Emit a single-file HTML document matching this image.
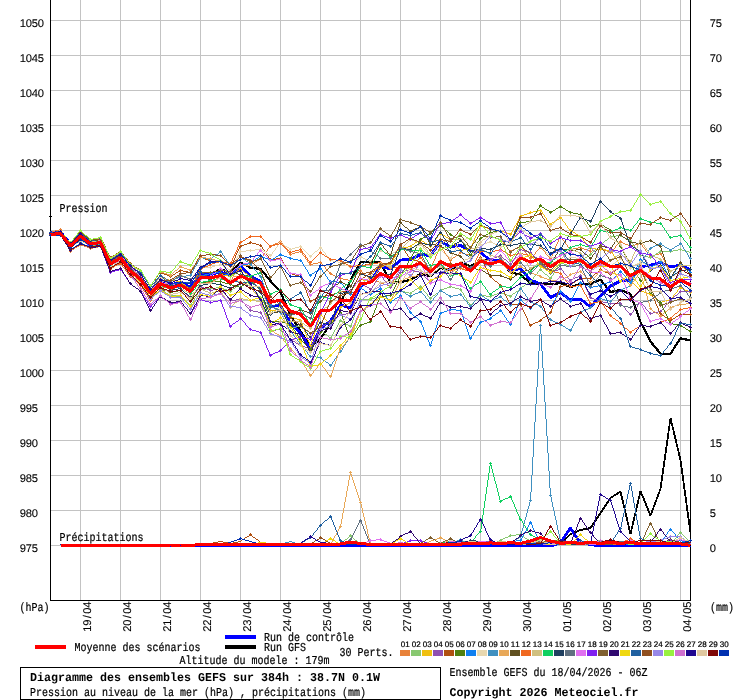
<!DOCTYPE html>
<html lang="fr"><head><meta charset="utf-8"><title>Diagramme des ensembles GEFS</title>
<style>html,body{margin:0;padding:0;background:#fff;overflow:hidden}svg{display:block}text{white-space:pre}</style>
</head><body>
<svg width="740" height="700" viewBox="0 0 740 700" font-family="'Liberation Mono', 'DejaVu Sans Mono', monospace" fill="#000" stroke="#000" stroke-width=".22" text-rendering="geometricPrecision">
<rect width="740" height="700" fill="#fff" stroke="none"/>
<path d="M50 20.5H690M50 55.5H690M50 90.5H690M50 125.5H690M50 160.5H690M50 195.5H690M50 230.5H690M50 265.5H690M50 300.5H690M50 335.5H690M50 370.5H690M50 405.5H690M50 440.5H690M50 475.5H690M50 510.5H690M50 545.5H690M80.5 0V600M120.5 0V600M160.5 0V600M200.5 0V600M240.5 0V600M280.5 0V600M320.5 0V600M360.5 0V600M400.5 0V600M440.5 0V600M480.5 0V600M520.5 0V600M560.5 0V600M600.5 0V600M640.5 0V600M680.5 0V600" stroke="#c3c3c3" stroke-width="1" fill="none" shape-rendering="crispEdges"/>
<path d="M50.5 0V600.5H690.5V0M49 216.5H52" stroke="#000" stroke-width="1" fill="none" shape-rendering="crispEdges"/>
<g shape-rendering="crispEdges" transform="translate(.5 .5)" stroke="none"><path d="M50 233.5L60 232.7L70 244.5L80 235.1L90 243L100 241.5L110 263L120 257L130 269.5L140 278L150 292L160 282L170 286.5L180 283.5L190 288.5L200 274.5L210 274.5L220 268.5L230 272.1L240 261.9L250 267.3L260 268.3L270 280.5L280 291.5L290 315L300 330.5L310 346.5L320 338.1L330 323.5L340 303.5L350 279.5L360 261.9L370 261.5L380 261.5L390 282.2L400 281.5L410 279.5L420 273.5L430 275.5L440 267.5L450 269.5L460 262.5L470 265.5L480 260.5L490 259.5L500 259.5L510 272L520 274L530 283L540 283L550 283.9L560 282.5L570 286.5L580 283.5L590 283.5L600 279.1L610 291.5L620 289.5L630 293.5L640 321.5L650 341.1L660 353.1L670 353.1L680 337.9L690 339.9" stroke="#000" stroke-width="2.2" fill="none" stroke-linejoin="bevel"/>
<path d="M60 545L70 545L80 545L90 545L100 545L110 545L120 545L130 545L140 545L150 545L160 545L170 545L180 545L190 545L200 545L210 545L220 545L230 545L240 545L250 545L260 545L270 545L280 545L290 545L300 545L310 545L320 545L330 545L340 545L350 545L360 545L370 545L380 545L390 545L400 545L410 545L420 545L430 545L440 545L450 545L460 545L470 545L480 545L490 545L500 545L510 545L520 545L530 545L540 545L550 545L560 543.5L570 533.5L580 529.5L590 527.5L600 512.5L610 497.5L620 491.1L630 533.5L640 490.5L650 515.1L660 488.5L670 417.5L680 459.5L690 532.5" stroke="#000" stroke-width="1.8" fill="none" stroke-linejoin="bevel"/>
<path d="M50 232.1L60 231.5L70 243.5L80 233.8L90 241.5L100 239.9L110 261.9L120 255.5L130 268.1L140 276.5L150 290.1L160 280.5L170 284.5L180 281.5L190 287L200 273.5L210 274.1L220 271.5L230 275.5L240 266L250 275.5L260 280.9L270 306L280 305.1L290 322.5L300 332.5L310 348.5L320 327.5L330 320.5L340 304.5L350 307.5L360 286L370 280.5L380 265.9L390 268.5L400 259.5L410 259L420 254L430 255L440 241.5L450 246.2L460 244.9L470 250.3L480 251.5L490 260.5L500 259.5L510 270.5L520 267.9L530 279.5L540 283.5L550 297L560 292L570 299.5L580 298.5L590 306.5L600 295.1L610 285.5L620 280.5L630 279.5L640 266.5L650 264.5L660 261.9L670 266.5L680 264.5L690 269.5" stroke="#00f" stroke-width="2.8" fill="none" stroke-linejoin="bevel"/>
<path d="M60 545L70 545L80 545L90 545L100 545L110 545L120 545L130 545L140 545L150 545L160 545L170 545L180 545L190 545L200 545.5L210 545.5L220 545.5L230 545.5L240 545.5L250 545.5L260 545.5L270 545.5L280 545.5L290 545.5L300 545.5L310 545.5L320 545.5L330 545.5L340 545.5L350 545.5L360 545.5L370 545.5L380 545.5L390 545.5L400 545.5L410 545.5L420 545.5L430 545.5L440 545.5L450 545.5L460 545.5L470 545.5L480 545.5L490 545.5L500 545.5L510 545.5L520 545.5L530 545.5L540 545.5L550 545.5L560 542.5L570 527.5L580 542.5L590 544L600 545.5L610 545.5L620 545.5L630 545.5L640 545.5L650 545.5L660 545.5L670 545.5L680 545.5L690 545" stroke="#00f" stroke-width="2.8" fill="none" stroke-linejoin="bevel"/>
<path d="M49.5 231.5L60.5 228.5v1L49.5 232.5zM59.5 228.5h1L70.5 251.5h-1zM69.5 250.5L80.5 243.5v1L69.5 251.5zM79.5 243.5L90.5 247.5v1L79.5 244.5zM89.5 247.5L100.5 245.5v1L89.5 248.5zM99.5 245.5h1L110.5 269.5h-1zM109.5 268.5L120.5 261.5v1L109.5 269.5zM119.5 261.5h1L130.5 273.5h-1zM129.5 272.5L140.5 280.5v1L129.5 273.5zM139.5 280.5h1L150.5 296.5h-1zM149.5 295.5L160.5 286.5v1L149.5 296.5zM159.5 286.5h11v1h-11zM169.5 286.5L180.5 284.5v1L169.5 287.5zM179.5 284.5L190.5 287.5v1L179.5 285.5zM189.5 287.5L200.5 282.5v1L189.5 288.5zM199.5 282.5L210.5 281.5v1L199.5 283.5zM209.5 281.5L220.5 275.5v1L209.5 282.5zM219.5 275.5L230.5 279.5v1L219.5 276.5zM239.5 264.5h1L230.5 280.5h-1zM239.5 264.5h11v1h-11zM249.5 264.5L260.5 257.5v1L249.5 265.5zM269.5 245.5h1L260.5 258.5h-1zM269.5 245.5L280.5 240.5v1L269.5 246.5zM279.5 240.5h1L290.5 254.5h-1zM289.5 253.5L300.5 250.5v1L289.5 254.5zM299.5 250.5h1L310.5 264.5h-1zM309.5 263.5L320.5 261.5v1L309.5 264.5zM319.5 261.5h1L330.5 273.5h-1zM329.5 272.5L340.5 277.5v1L329.5 273.5zM339.5 277.5L350.5 279.5v1L339.5 278.5zM349.5 279.5L360.5 269.5v1L349.5 280.5zM359.5 269.5L370.5 278.5v1L359.5 270.5zM369.5 278.5L380.5 281.5v1L369.5 279.5zM379.5 281.5L390.5 285.5v1L379.5 282.5zM399.5 267.5h1L390.5 286.5h-1zM399.5 267.5L410.5 275.5v1L399.5 268.5zM419.5 261.5h1L410.5 276.5h-1zM419.5 261.5L430.5 267.5v1L419.5 262.5zM439.5 245.5h1L430.5 268.5h-1zM439.5 245.5h1L450.5 260.5h-1zM449.5 259.5L460.5 251.5v1L449.5 260.5zM459.5 251.5L470.5 254.5v1L459.5 252.5zM469.5 254.5L480.5 248.5v1L469.5 255.5zM479.5 248.5L490.5 252.5v1L479.5 249.5zM499.5 238.5h1L490.5 253.5h-1zM499.5 238.5h1L510.5 251.5h-1zM509.5 250.5L520.5 245.5v1L509.5 251.5zM519.5 245.5h1L530.5 258.5h-1zM539.5 246.5h1L530.5 258.5h-1zM539.5 246.5h1L550.5 258.5h-1zM559.5 235.5h1L550.5 258.5h-1zM559.5 235.5h1L570.5 249.5h-1zM569.5 248.5L580.5 246.5v1L569.5 249.5zM579.5 246.5L590.5 250.5v1L579.5 247.5zM589.5 250.5L600.5 247.5v1L589.5 251.5zM599.5 247.5L610.5 251.5v1L599.5 248.5zM619.5 240.5h1L610.5 252.5h-1zM619.5 240.5L630.5 245.5v1L619.5 241.5zM629.5 245.5L640.5 242.5v1L629.5 246.5zM639.5 242.5h1L650.5 256.5h-1zM649.5 255.5L660.5 252.5v1L649.5 256.5zM659.5 252.5h1L670.5 271.5h-1zM669.5 270.5L680.5 264.5v1L669.5 271.5zM679.5 264.5L690.5 271.5v1L679.5 265.5zM48.5 231.5h3v1h-3zM49.5 230.5h1v3h-1zM58.5 228.5h3v1h-3zM59.5 227.5h1v3h-1zM68.5 250.5h3v1h-3zM69.5 249.5h1v3h-1zM78.5 243.5h3v1h-3zM79.5 242.5h1v3h-1zM88.5 247.5h3v1h-3zM89.5 246.5h1v3h-1zM98.5 245.5h3v1h-3zM99.5 244.5h1v3h-1zM108.5 268.5h3v1h-3zM109.5 267.5h1v3h-1zM118.5 261.5h3v1h-3zM119.5 260.5h1v3h-1zM128.5 272.5h3v1h-3zM129.5 271.5h1v3h-1zM138.5 280.5h3v1h-3zM139.5 279.5h1v3h-1zM148.5 295.5h3v1h-3zM149.5 294.5h1v3h-1zM158.5 286.5h3v1h-3zM159.5 285.5h1v3h-1zM168.5 286.5h3v1h-3zM169.5 285.5h1v3h-1zM178.5 284.5h3v1h-3zM179.5 283.5h1v3h-1zM188.5 287.5h3v1h-3zM189.5 286.5h1v3h-1zM198.5 282.5h3v1h-3zM199.5 281.5h1v3h-1zM208.5 281.5h3v1h-3zM209.5 280.5h1v3h-1zM218.5 275.5h3v1h-3zM219.5 274.5h1v3h-1zM228.5 279.5h3v1h-3zM229.5 278.5h1v3h-1zM238.5 264.5h3v1h-3zM239.5 263.5h1v3h-1zM248.5 264.5h3v1h-3zM249.5 263.5h1v3h-1zM258.5 257.5h3v1h-3zM259.5 256.5h1v3h-1zM268.5 245.5h3v1h-3zM269.5 244.5h1v3h-1zM278.5 240.5h3v1h-3zM279.5 239.5h1v3h-1zM288.5 253.5h3v1h-3zM289.5 252.5h1v3h-1zM298.5 250.5h3v1h-3zM299.5 249.5h1v3h-1zM308.5 263.5h3v1h-3zM309.5 262.5h1v3h-1zM318.5 261.5h3v1h-3zM319.5 260.5h1v3h-1zM328.5 272.5h3v1h-3zM329.5 271.5h1v3h-1zM338.5 277.5h3v1h-3zM339.5 276.5h1v3h-1zM348.5 279.5h3v1h-3zM349.5 278.5h1v3h-1zM358.5 269.5h3v1h-3zM359.5 268.5h1v3h-1zM368.5 278.5h3v1h-3zM369.5 277.5h1v3h-1zM378.5 281.5h3v1h-3zM379.5 280.5h1v3h-1zM388.5 285.5h3v1h-3zM389.5 284.5h1v3h-1zM398.5 267.5h3v1h-3zM399.5 266.5h1v3h-1zM408.5 275.5h3v1h-3zM409.5 274.5h1v3h-1zM418.5 261.5h3v1h-3zM419.5 260.5h1v3h-1zM428.5 267.5h3v1h-3zM429.5 266.5h1v3h-1zM438.5 245.5h3v1h-3zM439.5 244.5h1v3h-1zM448.5 259.5h3v1h-3zM449.5 258.5h1v3h-1zM458.5 251.5h3v1h-3zM459.5 250.5h1v3h-1zM468.5 254.5h3v1h-3zM469.5 253.5h1v3h-1zM478.5 248.5h3v1h-3zM479.5 247.5h1v3h-1zM488.5 252.5h3v1h-3zM489.5 251.5h1v3h-1zM498.5 238.5h3v1h-3zM499.5 237.5h1v3h-1zM508.5 250.5h3v1h-3zM509.5 249.5h1v3h-1zM518.5 245.5h3v1h-3zM519.5 244.5h1v3h-1zM528.5 257.5h3v1h-3zM529.5 256.5h1v3h-1zM538.5 246.5h3v1h-3zM539.5 245.5h1v3h-1zM548.5 257.5h3v1h-3zM549.5 256.5h1v3h-1zM558.5 235.5h3v1h-3zM559.5 234.5h1v3h-1zM568.5 248.5h3v1h-3zM569.5 247.5h1v3h-1zM578.5 246.5h3v1h-3zM579.5 245.5h1v3h-1zM588.5 250.5h3v1h-3zM589.5 249.5h1v3h-1zM598.5 247.5h3v1h-3zM599.5 246.5h1v3h-1zM608.5 251.5h3v1h-3zM609.5 250.5h1v3h-1zM618.5 240.5h3v1h-3zM619.5 239.5h1v3h-1zM628.5 245.5h3v1h-3zM629.5 244.5h1v3h-1zM638.5 242.5h3v1h-3zM639.5 241.5h1v3h-1zM648.5 255.5h3v1h-3zM649.5 254.5h1v3h-1zM658.5 252.5h3v1h-3zM659.5 251.5h1v3h-1zM668.5 270.5h3v1h-3zM669.5 269.5h1v3h-1zM678.5 264.5h3v1h-3zM679.5 263.5h1v3h-1zM688.5 271.5h3v1h-3zM689.5 270.5h1v3h-1z" fill="#E8823A"/>
<path d="M49.5 234.5L60.5 233.5v1L49.5 235.5zM59.5 233.5h1L70.5 245.5h-1zM69.5 244.5L80.5 234.5v1L69.5 245.5zM79.5 234.5L90.5 244.5v1L79.5 235.5zM89.5 244.5L100.5 243.5v1L89.5 245.5zM99.5 243.5h1L110.5 265.5h-1zM109.5 264.5L120.5 257.5v1L109.5 265.5zM119.5 257.5h1L130.5 275.5h-1zM129.5 274.5L140.5 282.5v1L129.5 275.5zM139.5 282.5h1L150.5 298.5h-1zM149.5 297.5L160.5 288.5v1L149.5 298.5zM159.5 288.5L170.5 294.5v1L159.5 289.5zM169.5 294.5L180.5 295.5v1L169.5 295.5zM179.5 295.5L190.5 304.5v1L179.5 296.5zM199.5 288.5h1L190.5 305.5h-1zM199.5 288.5L210.5 287.5v1L199.5 289.5zM209.5 287.5L220.5 286.5v1L209.5 288.5zM219.5 286.5L230.5 290.5v1L219.5 287.5zM229.5 290.5L240.5 282.5v1L229.5 291.5zM239.5 282.5L250.5 284.5v1L239.5 283.5zM249.5 284.5h1L260.5 297.5h-1zM259.5 296.5h1L270.5 313.5h-1zM269.5 312.5L280.5 304.5v1L269.5 313.5zM279.5 304.5h1L290.5 327.5h-1zM289.5 326.5L300.5 325.5v1L289.5 327.5zM299.5 325.5L310.5 332.5v1L299.5 326.5zM309.5 332.5L320.5 328.5v1L309.5 333.5zM319.5 328.5L330.5 337.5v1L319.5 329.5zM339.5 319.5h1L330.5 338.5h-1zM339.5 319.5L350.5 325.5v1L339.5 320.5zM359.5 298.5h1L350.5 326.5h-1zM359.5 298.5h11v1h-11zM369.5 298.5L380.5 295.5v1L369.5 299.5zM379.5 295.5L390.5 294.5v1L379.5 296.5zM389.5 294.5L400.5 289.5v1L389.5 295.5zM399.5 289.5L410.5 292.5v1L399.5 290.5zM409.5 292.5L420.5 285.5v1L409.5 293.5zM419.5 285.5h1L430.5 298.5h-1zM429.5 297.5L440.5 289.5v1L429.5 298.5zM439.5 289.5L450.5 285.5v1L439.5 290.5zM449.5 285.5L460.5 288.5v1L449.5 286.5zM459.5 288.5h1L470.5 305.5h-1zM469.5 304.5L480.5 294.5v1L469.5 305.5zM479.5 294.5L490.5 295.5v1L479.5 295.5zM489.5 295.5L500.5 291.5v1L489.5 296.5zM499.5 291.5L510.5 295.5v1L499.5 292.5zM509.5 295.5L520.5 287.5v1L509.5 296.5zM519.5 287.5L530.5 280.5v1L519.5 288.5zM539.5 268.5h1L530.5 281.5h-1zM539.5 268.5L550.5 277.5v1L539.5 269.5zM559.5 261.5h1L550.5 278.5h-1zM559.5 261.5L570.5 265.5v1L559.5 262.5zM569.5 265.5L580.5 260.5v1L569.5 266.5zM579.5 260.5L590.5 253.5v1L579.5 261.5zM589.5 253.5L600.5 244.5v1L589.5 254.5zM599.5 244.5L610.5 235.5v1L599.5 245.5zM609.5 235.5L620.5 234.5v1L609.5 236.5zM619.5 234.5L630.5 239.5v1L619.5 235.5zM629.5 239.5h1L640.5 255.5h-1zM639.5 254.5L650.5 256.5v1L639.5 255.5zM649.5 256.5L660.5 250.5v1L649.5 257.5zM659.5 250.5h11v1h-11zM669.5 250.5L680.5 248.5v1L669.5 251.5zM679.5 248.5L690.5 251.5v1L679.5 249.5zM48.5 234.5h3v1h-3zM49.5 233.5h1v3h-1zM58.5 233.5h3v1h-3zM59.5 232.5h1v3h-1zM68.5 244.5h3v1h-3zM69.5 243.5h1v3h-1zM78.5 234.5h3v1h-3zM79.5 233.5h1v3h-1zM88.5 244.5h3v1h-3zM89.5 243.5h1v3h-1zM98.5 243.5h3v1h-3zM99.5 242.5h1v3h-1zM108.5 264.5h3v1h-3zM109.5 263.5h1v3h-1zM118.5 257.5h3v1h-3zM119.5 256.5h1v3h-1zM128.5 274.5h3v1h-3zM129.5 273.5h1v3h-1zM138.5 282.5h3v1h-3zM139.5 281.5h1v3h-1zM148.5 297.5h3v1h-3zM149.5 296.5h1v3h-1zM158.5 288.5h3v1h-3zM159.5 287.5h1v3h-1zM168.5 294.5h3v1h-3zM169.5 293.5h1v3h-1zM178.5 295.5h3v1h-3zM179.5 294.5h1v3h-1zM188.5 304.5h3v1h-3zM189.5 303.5h1v3h-1zM198.5 288.5h3v1h-3zM199.5 287.5h1v3h-1zM208.5 287.5h3v1h-3zM209.5 286.5h1v3h-1zM218.5 286.5h3v1h-3zM219.5 285.5h1v3h-1zM228.5 290.5h3v1h-3zM229.5 289.5h1v3h-1zM238.5 282.5h3v1h-3zM239.5 281.5h1v3h-1zM248.5 284.5h3v1h-3zM249.5 283.5h1v3h-1zM258.5 296.5h3v1h-3zM259.5 295.5h1v3h-1zM268.5 312.5h3v1h-3zM269.5 311.5h1v3h-1zM278.5 304.5h3v1h-3zM279.5 303.5h1v3h-1zM288.5 326.5h3v1h-3zM289.5 325.5h1v3h-1zM298.5 325.5h3v1h-3zM299.5 324.5h1v3h-1zM308.5 332.5h3v1h-3zM309.5 331.5h1v3h-1zM318.5 328.5h3v1h-3zM319.5 327.5h1v3h-1zM328.5 337.5h3v1h-3zM329.5 336.5h1v3h-1zM338.5 319.5h3v1h-3zM339.5 318.5h1v3h-1zM348.5 325.5h3v1h-3zM349.5 324.5h1v3h-1zM358.5 298.5h3v1h-3zM359.5 297.5h1v3h-1zM368.5 298.5h3v1h-3zM369.5 297.5h1v3h-1zM378.5 295.5h3v1h-3zM379.5 294.5h1v3h-1zM388.5 294.5h3v1h-3zM389.5 293.5h1v3h-1zM398.5 289.5h3v1h-3zM399.5 288.5h1v3h-1zM408.5 292.5h3v1h-3zM409.5 291.5h1v3h-1zM418.5 285.5h3v1h-3zM419.5 284.5h1v3h-1zM428.5 297.5h3v1h-3zM429.5 296.5h1v3h-1zM438.5 289.5h3v1h-3zM439.5 288.5h1v3h-1zM448.5 285.5h3v1h-3zM449.5 284.5h1v3h-1zM458.5 288.5h3v1h-3zM459.5 287.5h1v3h-1zM468.5 304.5h3v1h-3zM469.5 303.5h1v3h-1zM478.5 294.5h3v1h-3zM479.5 293.5h1v3h-1zM488.5 295.5h3v1h-3zM489.5 294.5h1v3h-1zM498.5 291.5h3v1h-3zM499.5 290.5h1v3h-1zM508.5 295.5h3v1h-3zM509.5 294.5h1v3h-1zM518.5 287.5h3v1h-3zM519.5 286.5h1v3h-1zM528.5 280.5h3v1h-3zM529.5 279.5h1v3h-1zM538.5 268.5h3v1h-3zM539.5 267.5h1v3h-1zM548.5 277.5h3v1h-3zM549.5 276.5h1v3h-1zM558.5 261.5h3v1h-3zM559.5 260.5h1v3h-1zM568.5 265.5h3v1h-3zM569.5 264.5h1v3h-1zM578.5 260.5h3v1h-3zM579.5 259.5h1v3h-1zM588.5 253.5h3v1h-3zM589.5 252.5h1v3h-1zM598.5 244.5h3v1h-3zM599.5 243.5h1v3h-1zM608.5 235.5h3v1h-3zM609.5 234.5h1v3h-1zM618.5 234.5h3v1h-3zM619.5 233.5h1v3h-1zM628.5 239.5h3v1h-3zM629.5 238.5h1v3h-1zM638.5 254.5h3v1h-3zM639.5 253.5h1v3h-1zM648.5 256.5h3v1h-3zM649.5 255.5h1v3h-1zM658.5 250.5h3v1h-3zM659.5 249.5h1v3h-1zM668.5 250.5h3v1h-3zM669.5 249.5h1v3h-1zM678.5 248.5h3v1h-3zM679.5 247.5h1v3h-1zM688.5 251.5h3v1h-3zM689.5 250.5h1v3h-1z" fill="#88C870"/>
<path d="M49.5 233.5L60.5 231.5v1L49.5 234.5zM59.5 231.5L70.5 241.5v1L59.5 232.5zM69.5 241.5L80.5 231.5v1L69.5 242.5zM79.5 231.5L90.5 240.5v1L79.5 232.5zM89.5 240.5L100.5 241.5v1L89.5 241.5zM99.5 241.5h1L110.5 261.5h-1zM109.5 260.5L120.5 254.5v1L109.5 261.5zM119.5 254.5h1L130.5 268.5h-1zM129.5 267.5L140.5 274.5v1L129.5 268.5zM139.5 274.5h1L150.5 290.5h-1zM159.5 276.5h1L150.5 290.5h-1zM159.5 276.5L170.5 279.5v1L159.5 277.5zM169.5 279.5L180.5 280.5v1L169.5 280.5zM179.5 280.5L190.5 288.5v1L179.5 281.5zM199.5 275.5h1L190.5 289.5h-1zM199.5 275.5L210.5 276.5v1L199.5 276.5zM209.5 276.5L220.5 273.5v1L209.5 277.5zM219.5 273.5L230.5 275.5v1L219.5 274.5zM229.5 275.5L240.5 267.5v1L229.5 276.5zM239.5 267.5L250.5 276.5v1L239.5 268.5zM249.5 276.5L260.5 283.5v1L249.5 277.5zM259.5 283.5h1L270.5 310.5h-1zM269.5 309.5L280.5 308.5v1L269.5 310.5zM279.5 308.5L290.5 315.5v1L279.5 309.5zM289.5 315.5L300.5 319.5v1L289.5 316.5zM299.5 319.5h1L310.5 345.5h-1zM319.5 313.5h1L310.5 345.5h-1zM319.5 313.5L330.5 323.5v1L319.5 314.5zM339.5 306.5h1L330.5 324.5h-1zM339.5 306.5L350.5 301.5v1L339.5 307.5zM359.5 278.5h1L350.5 302.5h-1zM359.5 278.5L370.5 280.5v1L359.5 279.5zM379.5 266.5h1L370.5 281.5h-1zM379.5 266.5L390.5 262.5v1L379.5 267.5zM399.5 247.5h1L390.5 263.5h-1zM399.5 247.5L410.5 245.5v1L399.5 248.5zM409.5 245.5L420.5 238.5v1L409.5 246.5zM419.5 238.5L430.5 245.5v1L419.5 239.5zM439.5 232.5h1L430.5 246.5h-1zM439.5 232.5L450.5 238.5v1L439.5 233.5zM449.5 238.5h1L460.5 250.5h-1zM459.5 249.5L470.5 247.5v1L459.5 250.5zM479.5 224.5h1L470.5 248.5h-1zM479.5 224.5L490.5 228.5v1L479.5 225.5zM489.5 228.5L500.5 229.5v1L489.5 229.5zM499.5 229.5L510.5 233.5v1L499.5 230.5zM519.5 215.5h1L510.5 234.5h-1zM519.5 215.5L530.5 211.5v1L519.5 216.5zM529.5 211.5L540.5 209.5v1L529.5 212.5zM539.5 209.5h1L550.5 224.5h-1zM549.5 223.5L560.5 216.5v1L549.5 224.5zM559.5 216.5h1L570.5 230.5h-1zM569.5 229.5L580.5 235.5v1L569.5 230.5zM579.5 235.5h1L590.5 248.5h-1zM589.5 247.5L600.5 248.5v1L589.5 248.5zM599.5 248.5L610.5 249.5v1L599.5 249.5zM609.5 249.5h1L620.5 265.5h-1zM619.5 264.5h1L630.5 280.5h-1zM629.5 279.5L640.5 289.5v1L629.5 280.5zM639.5 289.5L650.5 293.5v1L639.5 290.5zM649.5 293.5L660.5 301.5v1L649.5 294.5zM659.5 301.5L670.5 298.5v1L659.5 302.5zM679.5 286.5h1L670.5 299.5h-1zM679.5 286.5L690.5 291.5v1L679.5 287.5zM48.5 233.5h3v1h-3zM49.5 232.5h1v3h-1zM58.5 231.5h3v1h-3zM59.5 230.5h1v3h-1zM68.5 241.5h3v1h-3zM69.5 240.5h1v3h-1zM78.5 231.5h3v1h-3zM79.5 230.5h1v3h-1zM88.5 240.5h3v1h-3zM89.5 239.5h1v3h-1zM98.5 241.5h3v1h-3zM99.5 240.5h1v3h-1zM108.5 260.5h3v1h-3zM109.5 259.5h1v3h-1zM118.5 254.5h3v1h-3zM119.5 253.5h1v3h-1zM128.5 267.5h3v1h-3zM129.5 266.5h1v3h-1zM138.5 274.5h3v1h-3zM139.5 273.5h1v3h-1zM148.5 289.5h3v1h-3zM149.5 288.5h1v3h-1zM158.5 276.5h3v1h-3zM159.5 275.5h1v3h-1zM168.5 279.5h3v1h-3zM169.5 278.5h1v3h-1zM178.5 280.5h3v1h-3zM179.5 279.5h1v3h-1zM188.5 288.5h3v1h-3zM189.5 287.5h1v3h-1zM198.5 275.5h3v1h-3zM199.5 274.5h1v3h-1zM208.5 276.5h3v1h-3zM209.5 275.5h1v3h-1zM218.5 273.5h3v1h-3zM219.5 272.5h1v3h-1zM228.5 275.5h3v1h-3zM229.5 274.5h1v3h-1zM238.5 267.5h3v1h-3zM239.5 266.5h1v3h-1zM248.5 276.5h3v1h-3zM249.5 275.5h1v3h-1zM258.5 283.5h3v1h-3zM259.5 282.5h1v3h-1zM268.5 309.5h3v1h-3zM269.5 308.5h1v3h-1zM278.5 308.5h3v1h-3zM279.5 307.5h1v3h-1zM288.5 315.5h3v1h-3zM289.5 314.5h1v3h-1zM298.5 319.5h3v1h-3zM299.5 318.5h1v3h-1zM308.5 344.5h3v1h-3zM309.5 343.5h1v3h-1zM318.5 313.5h3v1h-3zM319.5 312.5h1v3h-1zM328.5 323.5h3v1h-3zM329.5 322.5h1v3h-1zM338.5 306.5h3v1h-3zM339.5 305.5h1v3h-1zM348.5 301.5h3v1h-3zM349.5 300.5h1v3h-1zM358.5 278.5h3v1h-3zM359.5 277.5h1v3h-1zM368.5 280.5h3v1h-3zM369.5 279.5h1v3h-1zM378.5 266.5h3v1h-3zM379.5 265.5h1v3h-1zM388.5 262.5h3v1h-3zM389.5 261.5h1v3h-1zM398.5 247.5h3v1h-3zM399.5 246.5h1v3h-1zM408.5 245.5h3v1h-3zM409.5 244.5h1v3h-1zM418.5 238.5h3v1h-3zM419.5 237.5h1v3h-1zM428.5 245.5h3v1h-3zM429.5 244.5h1v3h-1zM438.5 232.5h3v1h-3zM439.5 231.5h1v3h-1zM448.5 238.5h3v1h-3zM449.5 237.5h1v3h-1zM458.5 249.5h3v1h-3zM459.5 248.5h1v3h-1zM468.5 247.5h3v1h-3zM469.5 246.5h1v3h-1zM478.5 224.5h3v1h-3zM479.5 223.5h1v3h-1zM488.5 228.5h3v1h-3zM489.5 227.5h1v3h-1zM498.5 229.5h3v1h-3zM499.5 228.5h1v3h-1zM508.5 233.5h3v1h-3zM509.5 232.5h1v3h-1zM518.5 215.5h3v1h-3zM519.5 214.5h1v3h-1zM528.5 211.5h3v1h-3zM529.5 210.5h1v3h-1zM538.5 209.5h3v1h-3zM539.5 208.5h1v3h-1zM548.5 223.5h3v1h-3zM549.5 222.5h1v3h-1zM558.5 216.5h3v1h-3zM559.5 215.5h1v3h-1zM568.5 229.5h3v1h-3zM569.5 228.5h1v3h-1zM578.5 235.5h3v1h-3zM579.5 234.5h1v3h-1zM588.5 247.5h3v1h-3zM589.5 246.5h1v3h-1zM598.5 248.5h3v1h-3zM599.5 247.5h1v3h-1zM608.5 249.5h3v1h-3zM609.5 248.5h1v3h-1zM618.5 264.5h3v1h-3zM619.5 263.5h1v3h-1zM628.5 279.5h3v1h-3zM629.5 278.5h1v3h-1zM638.5 289.5h3v1h-3zM639.5 288.5h1v3h-1zM648.5 293.5h3v1h-3zM649.5 292.5h1v3h-1zM658.5 301.5h3v1h-3zM659.5 300.5h1v3h-1zM668.5 298.5h3v1h-3zM669.5 297.5h1v3h-1zM678.5 286.5h3v1h-3zM679.5 285.5h1v3h-1zM688.5 291.5h3v1h-3zM689.5 290.5h1v3h-1z" fill="#F0C010"/>
<path d="M49.5 234.5h11v1h-11zM59.5 234.5h1L70.5 247.5h-1zM79.5 235.5h1L70.5 247.5h-1zM79.5 235.5L90.5 244.5v1L79.5 236.5zM89.5 244.5L100.5 241.5v1L89.5 245.5zM99.5 241.5h1L110.5 263.5h-1zM109.5 262.5L120.5 255.5v1L109.5 263.5zM119.5 255.5h1L130.5 267.5h-1zM129.5 266.5L140.5 276.5v1L129.5 267.5zM139.5 276.5h1L150.5 291.5h-1zM149.5 290.5L160.5 284.5v1L149.5 291.5zM159.5 284.5h11v1h-11zM169.5 284.5L180.5 287.5v1L169.5 285.5zM179.5 287.5L190.5 297.5v1L179.5 288.5zM199.5 285.5h1L190.5 298.5h-1zM199.5 285.5L210.5 289.5v1L199.5 286.5zM209.5 289.5L220.5 287.5v1L209.5 290.5zM219.5 287.5h1L230.5 300.5h-1zM229.5 299.5L240.5 298.5v1L229.5 300.5zM239.5 298.5h1L250.5 310.5h-1zM249.5 309.5L260.5 311.5v1L249.5 310.5zM259.5 311.5h1L270.5 330.5h-1zM269.5 329.5L280.5 328.5v1L269.5 330.5zM279.5 328.5L290.5 338.5v1L279.5 329.5zM289.5 338.5L300.5 344.5v1L289.5 339.5zM299.5 344.5L310.5 347.5v1L299.5 345.5zM319.5 326.5h1L310.5 348.5h-1zM319.5 326.5L330.5 320.5v1L319.5 327.5zM329.5 320.5L340.5 313.5v1L329.5 321.5zM339.5 313.5L350.5 312.5v1L339.5 314.5zM359.5 281.5h1L350.5 313.5h-1zM359.5 281.5L370.5 288.5v1L359.5 282.5zM379.5 274.5h1L370.5 289.5h-1zM379.5 274.5h1L390.5 287.5h-1zM399.5 271.5h1L390.5 287.5h-1zM399.5 271.5L410.5 268.5v1L399.5 272.5zM409.5 268.5L420.5 271.5v1L409.5 269.5zM419.5 271.5L430.5 281.5v1L419.5 272.5zM429.5 281.5L440.5 272.5v1L429.5 282.5zM439.5 272.5h11v1h-11zM449.5 272.5L460.5 264.5v1L449.5 273.5zM459.5 264.5L470.5 267.5v1L459.5 265.5zM469.5 267.5L480.5 260.5v1L469.5 268.5zM479.5 260.5L490.5 258.5v1L479.5 261.5zM489.5 258.5L500.5 254.5v1L489.5 259.5zM499.5 254.5L510.5 263.5v1L499.5 255.5zM519.5 248.5h1L510.5 264.5h-1zM519.5 248.5L530.5 251.5v1L519.5 249.5zM529.5 251.5L540.5 260.5v1L529.5 252.5zM539.5 260.5h1L550.5 273.5h-1zM549.5 272.5L560.5 267.5v1L549.5 273.5zM559.5 267.5h1L570.5 280.5h-1zM569.5 279.5L580.5 274.5v1L569.5 280.5zM579.5 274.5h1L590.5 297.5h-1zM589.5 296.5L600.5 300.5v1L589.5 297.5zM599.5 300.5L610.5 302.5v1L599.5 301.5zM609.5 302.5h11v1h-11zM619.5 302.5h1L630.5 314.5h-1zM639.5 301.5h1L630.5 314.5h-1zM639.5 301.5h1L650.5 313.5h-1zM649.5 312.5L660.5 310.5v1L649.5 313.5zM669.5 299.5h1L660.5 311.5h-1zM669.5 299.5L680.5 290.5v1L669.5 300.5zM679.5 290.5h11v1h-11zM48.5 234.5h3v1h-3zM49.5 233.5h1v3h-1zM58.5 234.5h3v1h-3zM59.5 233.5h1v3h-1zM68.5 246.5h3v1h-3zM69.5 245.5h1v3h-1zM78.5 235.5h3v1h-3zM79.5 234.5h1v3h-1zM88.5 244.5h3v1h-3zM89.5 243.5h1v3h-1zM98.5 241.5h3v1h-3zM99.5 240.5h1v3h-1zM108.5 262.5h3v1h-3zM109.5 261.5h1v3h-1zM118.5 255.5h3v1h-3zM119.5 254.5h1v3h-1zM128.5 266.5h3v1h-3zM129.5 265.5h1v3h-1zM138.5 276.5h3v1h-3zM139.5 275.5h1v3h-1zM148.5 290.5h3v1h-3zM149.5 289.5h1v3h-1zM158.5 284.5h3v1h-3zM159.5 283.5h1v3h-1zM168.5 284.5h3v1h-3zM169.5 283.5h1v3h-1zM178.5 287.5h3v1h-3zM179.5 286.5h1v3h-1zM188.5 297.5h3v1h-3zM189.5 296.5h1v3h-1zM198.5 285.5h3v1h-3zM199.5 284.5h1v3h-1zM208.5 289.5h3v1h-3zM209.5 288.5h1v3h-1zM218.5 287.5h3v1h-3zM219.5 286.5h1v3h-1zM228.5 299.5h3v1h-3zM229.5 298.5h1v3h-1zM238.5 298.5h3v1h-3zM239.5 297.5h1v3h-1zM248.5 309.5h3v1h-3zM249.5 308.5h1v3h-1zM258.5 311.5h3v1h-3zM259.5 310.5h1v3h-1zM268.5 329.5h3v1h-3zM269.5 328.5h1v3h-1zM278.5 328.5h3v1h-3zM279.5 327.5h1v3h-1zM288.5 338.5h3v1h-3zM289.5 337.5h1v3h-1zM298.5 344.5h3v1h-3zM299.5 343.5h1v3h-1zM308.5 347.5h3v1h-3zM309.5 346.5h1v3h-1zM318.5 326.5h3v1h-3zM319.5 325.5h1v3h-1zM328.5 320.5h3v1h-3zM329.5 319.5h1v3h-1zM338.5 313.5h3v1h-3zM339.5 312.5h1v3h-1zM348.5 312.5h3v1h-3zM349.5 311.5h1v3h-1zM358.5 281.5h3v1h-3zM359.5 280.5h1v3h-1zM368.5 288.5h3v1h-3zM369.5 287.5h1v3h-1zM378.5 274.5h3v1h-3zM379.5 273.5h1v3h-1zM388.5 286.5h3v1h-3zM389.5 285.5h1v3h-1zM398.5 271.5h3v1h-3zM399.5 270.5h1v3h-1zM408.5 268.5h3v1h-3zM409.5 267.5h1v3h-1zM418.5 271.5h3v1h-3zM419.5 270.5h1v3h-1zM428.5 281.5h3v1h-3zM429.5 280.5h1v3h-1zM438.5 272.5h3v1h-3zM439.5 271.5h1v3h-1zM448.5 272.5h3v1h-3zM449.5 271.5h1v3h-1zM458.5 264.5h3v1h-3zM459.5 263.5h1v3h-1zM468.5 267.5h3v1h-3zM469.5 266.5h1v3h-1zM478.5 260.5h3v1h-3zM479.5 259.5h1v3h-1zM488.5 258.5h3v1h-3zM489.5 257.5h1v3h-1zM498.5 254.5h3v1h-3zM499.5 253.5h1v3h-1zM508.5 263.5h3v1h-3zM509.5 262.5h1v3h-1zM518.5 248.5h3v1h-3zM519.5 247.5h1v3h-1zM528.5 251.5h3v1h-3zM529.5 250.5h1v3h-1zM538.5 260.5h3v1h-3zM539.5 259.5h1v3h-1zM548.5 272.5h3v1h-3zM549.5 271.5h1v3h-1zM558.5 267.5h3v1h-3zM559.5 266.5h1v3h-1zM568.5 279.5h3v1h-3zM569.5 278.5h1v3h-1zM578.5 274.5h3v1h-3zM579.5 273.5h1v3h-1zM588.5 296.5h3v1h-3zM589.5 295.5h1v3h-1zM598.5 300.5h3v1h-3zM599.5 299.5h1v3h-1zM608.5 302.5h3v1h-3zM609.5 301.5h1v3h-1zM618.5 302.5h3v1h-3zM619.5 301.5h1v3h-1zM628.5 313.5h3v1h-3zM629.5 312.5h1v3h-1zM638.5 301.5h3v1h-3zM639.5 300.5h1v3h-1zM648.5 312.5h3v1h-3zM649.5 311.5h1v3h-1zM658.5 310.5h3v1h-3zM659.5 309.5h1v3h-1zM668.5 299.5h3v1h-3zM669.5 298.5h1v3h-1zM678.5 290.5h3v1h-3zM679.5 289.5h1v3h-1zM688.5 290.5h3v1h-3zM689.5 289.5h1v3h-1z" fill="#9050B0"/>
<path d="M49.5 233.5L60.5 232.5v1L49.5 234.5zM59.5 232.5L70.5 242.5v1L59.5 233.5zM79.5 230.5h1L70.5 243.5h-1zM79.5 230.5L90.5 239.5v1L79.5 231.5zM89.5 239.5L100.5 236.5v1L89.5 240.5zM99.5 236.5h1L110.5 257.5h-1zM109.5 256.5L120.5 250.5v1L109.5 257.5zM119.5 250.5h1L130.5 263.5h-1zM129.5 262.5L140.5 269.5v1L129.5 263.5zM139.5 269.5h1L150.5 285.5h-1zM159.5 271.5h1L150.5 285.5h-1zM159.5 271.5L170.5 275.5v1L159.5 272.5zM169.5 275.5L180.5 269.5v1L169.5 276.5zM179.5 269.5L190.5 271.5v1L179.5 270.5zM199.5 255.5h1L190.5 272.5h-1zM199.5 255.5L210.5 260.5v1L199.5 256.5zM209.5 260.5h11v1h-11zM219.5 260.5L230.5 265.5v1L219.5 261.5zM239.5 245.5h1L230.5 266.5h-1zM239.5 245.5L250.5 241.5v1L239.5 246.5zM249.5 241.5L260.5 244.5v1L249.5 242.5zM259.5 244.5h1L270.5 259.5h-1zM269.5 258.5L280.5 257.5v1L269.5 259.5zM279.5 257.5h1L290.5 273.5h-1zM289.5 272.5L300.5 275.5v1L289.5 273.5zM299.5 275.5h1L310.5 301.5h-1zM309.5 300.5L320.5 295.5v1L309.5 301.5zM319.5 295.5L330.5 294.5v1L319.5 296.5zM329.5 294.5L340.5 290.5v1L329.5 295.5zM339.5 290.5L350.5 289.5v1L339.5 291.5zM359.5 278.5h1L350.5 290.5h-1zM359.5 278.5L370.5 272.5v1L359.5 279.5zM369.5 272.5L380.5 265.5v1L369.5 273.5zM379.5 265.5L390.5 261.5v1L379.5 266.5zM399.5 244.5h1L390.5 262.5h-1zM399.5 244.5h1L410.5 258.5h-1zM409.5 257.5L420.5 261.5v1L409.5 258.5zM419.5 261.5L430.5 269.5v1L419.5 262.5zM429.5 269.5L440.5 264.5v1L429.5 270.5zM439.5 264.5L450.5 262.5v1L439.5 265.5zM449.5 262.5L460.5 267.5v1L449.5 263.5zM459.5 267.5L470.5 269.5v1L459.5 268.5zM479.5 256.5h1L470.5 270.5h-1zM479.5 256.5h1L490.5 276.5h-1zM489.5 275.5L500.5 284.5v1L489.5 276.5zM499.5 284.5h1L510.5 304.5h-1zM509.5 303.5h11v1h-11zM519.5 303.5h1L530.5 325.5h-1zM529.5 324.5L540.5 319.5v1L529.5 325.5zM539.5 319.5L550.5 311.5v1L539.5 320.5zM559.5 285.5h1L550.5 312.5h-1zM559.5 285.5L570.5 283.5v1L559.5 286.5zM569.5 283.5L580.5 277.5v1L569.5 284.5zM579.5 277.5h11v1h-11zM589.5 277.5L600.5 268.5v1L589.5 278.5zM599.5 268.5L610.5 273.5v1L599.5 269.5zM609.5 273.5L620.5 265.5v1L609.5 274.5zM619.5 265.5h1L630.5 280.5h-1zM639.5 263.5h1L630.5 280.5h-1zM639.5 263.5h1L650.5 291.5h-1zM649.5 290.5h1L660.5 313.5h-1zM659.5 312.5L670.5 319.5v1L659.5 313.5zM669.5 319.5L680.5 313.5v1L669.5 320.5zM679.5 313.5h11v1h-11zM48.5 233.5h3v1h-3zM49.5 232.5h1v3h-1zM58.5 232.5h3v1h-3zM59.5 231.5h1v3h-1zM68.5 242.5h3v1h-3zM69.5 241.5h1v3h-1zM78.5 230.5h3v1h-3zM79.5 229.5h1v3h-1zM88.5 239.5h3v1h-3zM89.5 238.5h1v3h-1zM98.5 236.5h3v1h-3zM99.5 235.5h1v3h-1zM108.5 256.5h3v1h-3zM109.5 255.5h1v3h-1zM118.5 250.5h3v1h-3zM119.5 249.5h1v3h-1zM128.5 262.5h3v1h-3zM129.5 261.5h1v3h-1zM138.5 269.5h3v1h-3zM139.5 268.5h1v3h-1zM148.5 284.5h3v1h-3zM149.5 283.5h1v3h-1zM158.5 271.5h3v1h-3zM159.5 270.5h1v3h-1zM168.5 275.5h3v1h-3zM169.5 274.5h1v3h-1zM178.5 269.5h3v1h-3zM179.5 268.5h1v3h-1zM188.5 271.5h3v1h-3zM189.5 270.5h1v3h-1zM198.5 255.5h3v1h-3zM199.5 254.5h1v3h-1zM208.5 260.5h3v1h-3zM209.5 259.5h1v3h-1zM218.5 260.5h3v1h-3zM219.5 259.5h1v3h-1zM228.5 265.5h3v1h-3zM229.5 264.5h1v3h-1zM238.5 245.5h3v1h-3zM239.5 244.5h1v3h-1zM248.5 241.5h3v1h-3zM249.5 240.5h1v3h-1zM258.5 244.5h3v1h-3zM259.5 243.5h1v3h-1zM268.5 258.5h3v1h-3zM269.5 257.5h1v3h-1zM278.5 257.5h3v1h-3zM279.5 256.5h1v3h-1zM288.5 272.5h3v1h-3zM289.5 271.5h1v3h-1zM298.5 275.5h3v1h-3zM299.5 274.5h1v3h-1zM308.5 300.5h3v1h-3zM309.5 299.5h1v3h-1zM318.5 295.5h3v1h-3zM319.5 294.5h1v3h-1zM328.5 294.5h3v1h-3zM329.5 293.5h1v3h-1zM338.5 290.5h3v1h-3zM339.5 289.5h1v3h-1zM348.5 289.5h3v1h-3zM349.5 288.5h1v3h-1zM358.5 278.5h3v1h-3zM359.5 277.5h1v3h-1zM368.5 272.5h3v1h-3zM369.5 271.5h1v3h-1zM378.5 265.5h3v1h-3zM379.5 264.5h1v3h-1zM388.5 261.5h3v1h-3zM389.5 260.5h1v3h-1zM398.5 244.5h3v1h-3zM399.5 243.5h1v3h-1zM408.5 257.5h3v1h-3zM409.5 256.5h1v3h-1zM418.5 261.5h3v1h-3zM419.5 260.5h1v3h-1zM428.5 269.5h3v1h-3zM429.5 268.5h1v3h-1zM438.5 264.5h3v1h-3zM439.5 263.5h1v3h-1zM448.5 262.5h3v1h-3zM449.5 261.5h1v3h-1zM458.5 267.5h3v1h-3zM459.5 266.5h1v3h-1zM468.5 269.5h3v1h-3zM469.5 268.5h1v3h-1zM478.5 256.5h3v1h-3zM479.5 255.5h1v3h-1zM488.5 275.5h3v1h-3zM489.5 274.5h1v3h-1zM498.5 284.5h3v1h-3zM499.5 283.5h1v3h-1zM508.5 303.5h3v1h-3zM509.5 302.5h1v3h-1zM518.5 303.5h3v1h-3zM519.5 302.5h1v3h-1zM528.5 324.5h3v1h-3zM529.5 323.5h1v3h-1zM538.5 319.5h3v1h-3zM539.5 318.5h1v3h-1zM548.5 311.5h3v1h-3zM549.5 310.5h1v3h-1zM558.5 285.5h3v1h-3zM559.5 284.5h1v3h-1zM568.5 283.5h3v1h-3zM569.5 282.5h1v3h-1zM578.5 277.5h3v1h-3zM579.5 276.5h1v3h-1zM588.5 277.5h3v1h-3zM589.5 276.5h1v3h-1zM598.5 268.5h3v1h-3zM599.5 267.5h1v3h-1zM608.5 273.5h3v1h-3zM609.5 272.5h1v3h-1zM618.5 265.5h3v1h-3zM619.5 264.5h1v3h-1zM628.5 279.5h3v1h-3zM629.5 278.5h1v3h-1zM638.5 263.5h3v1h-3zM639.5 262.5h1v3h-1zM648.5 290.5h3v1h-3zM649.5 289.5h1v3h-1zM658.5 312.5h3v1h-3zM659.5 311.5h1v3h-1zM668.5 319.5h3v1h-3zM669.5 318.5h1v3h-1zM678.5 313.5h3v1h-3zM679.5 312.5h1v3h-1zM688.5 313.5h3v1h-3zM689.5 312.5h1v3h-1z" fill="#B05010"/>
<path d="M49.5 234.5L60.5 233.5v1L49.5 235.5zM59.5 233.5h1L70.5 245.5h-1zM69.5 244.5L80.5 234.5v1L69.5 245.5zM79.5 234.5L90.5 244.5v1L79.5 235.5zM89.5 244.5L100.5 242.5v1L89.5 245.5zM99.5 242.5h1L110.5 264.5h-1zM109.5 263.5L120.5 259.5v1L109.5 264.5zM119.5 259.5L130.5 269.5v1L119.5 260.5zM129.5 269.5L140.5 278.5v1L129.5 270.5zM139.5 278.5h1L150.5 293.5h-1zM149.5 292.5L160.5 286.5v1L149.5 293.5zM159.5 286.5L170.5 291.5v1L159.5 287.5zM169.5 291.5L180.5 289.5v1L169.5 292.5zM179.5 289.5h1L190.5 301.5h-1zM199.5 281.5h1L190.5 301.5h-1zM199.5 281.5L210.5 280.5v1L199.5 282.5zM209.5 280.5h11v1h-11zM219.5 280.5L230.5 283.5v1L219.5 281.5zM229.5 283.5L240.5 286.5v1L229.5 284.5zM239.5 286.5L250.5 279.5v1L239.5 287.5zM249.5 279.5L260.5 289.5v1L249.5 280.5zM259.5 289.5h1L270.5 321.5h-1zM269.5 320.5h11v1h-11zM279.5 320.5L290.5 323.5v1L279.5 321.5zM289.5 323.5h1L300.5 339.5h-1zM299.5 338.5L310.5 348.5v1L299.5 339.5zM319.5 331.5h1L310.5 349.5h-1zM319.5 331.5L330.5 323.5v1L319.5 332.5zM339.5 311.5h1L330.5 324.5h-1zM339.5 311.5h1L350.5 338.5h-1zM359.5 324.5h1L350.5 338.5h-1zM359.5 324.5L370.5 320.5v1L359.5 325.5zM379.5 295.5h1L370.5 321.5h-1zM379.5 295.5L390.5 294.5v1L379.5 296.5zM399.5 275.5h1L390.5 295.5h-1zM409.5 257.5h1L400.5 276.5h-1zM419.5 238.5h1L410.5 258.5h-1zM419.5 238.5L430.5 232.5v1L419.5 239.5zM429.5 232.5L440.5 224.5v1L429.5 233.5zM439.5 224.5L450.5 233.5v1L439.5 225.5zM449.5 233.5L460.5 238.5v1L449.5 234.5zM459.5 238.5h1L470.5 255.5h-1zM479.5 237.5h1L470.5 255.5h-1zM479.5 237.5L490.5 231.5v1L479.5 238.5zM489.5 231.5L500.5 229.5v1L489.5 232.5zM499.5 229.5h1L510.5 242.5h-1zM519.5 221.5h1L510.5 242.5h-1zM519.5 221.5L530.5 220.5v1L519.5 222.5zM539.5 204.5h1L530.5 221.5h-1zM539.5 204.5L550.5 211.5v1L539.5 205.5zM549.5 211.5L560.5 205.5v1L549.5 212.5zM559.5 205.5L570.5 211.5v1L559.5 206.5zM569.5 211.5L580.5 213.5v1L569.5 212.5zM579.5 213.5h1L590.5 226.5h-1zM589.5 225.5L600.5 222.5v1L589.5 226.5zM599.5 222.5L610.5 229.5v1L599.5 223.5zM609.5 229.5h1L620.5 246.5h-1zM619.5 245.5h1L630.5 264.5h-1zM629.5 263.5h1L640.5 280.5h-1zM639.5 279.5h1L650.5 292.5h-1zM649.5 291.5L660.5 301.5v1L649.5 292.5zM659.5 301.5h1L670.5 323.5h-1zM669.5 322.5L680.5 324.5v1L669.5 323.5zM679.5 324.5L690.5 330.5v1L679.5 325.5zM48.5 234.5h3v1h-3zM49.5 233.5h1v3h-1zM58.5 233.5h3v1h-3zM59.5 232.5h1v3h-1zM68.5 244.5h3v1h-3zM69.5 243.5h1v3h-1zM78.5 234.5h3v1h-3zM79.5 233.5h1v3h-1zM88.5 244.5h3v1h-3zM89.5 243.5h1v3h-1zM98.5 242.5h3v1h-3zM99.5 241.5h1v3h-1zM108.5 263.5h3v1h-3zM109.5 262.5h1v3h-1zM118.5 259.5h3v1h-3zM119.5 258.5h1v3h-1zM128.5 269.5h3v1h-3zM129.5 268.5h1v3h-1zM138.5 278.5h3v1h-3zM139.5 277.5h1v3h-1zM148.5 292.5h3v1h-3zM149.5 291.5h1v3h-1zM158.5 286.5h3v1h-3zM159.5 285.5h1v3h-1zM168.5 291.5h3v1h-3zM169.5 290.5h1v3h-1zM178.5 289.5h3v1h-3zM179.5 288.5h1v3h-1zM188.5 300.5h3v1h-3zM189.5 299.5h1v3h-1zM198.5 281.5h3v1h-3zM199.5 280.5h1v3h-1zM208.5 280.5h3v1h-3zM209.5 279.5h1v3h-1zM218.5 280.5h3v1h-3zM219.5 279.5h1v3h-1zM228.5 283.5h3v1h-3zM229.5 282.5h1v3h-1zM238.5 286.5h3v1h-3zM239.5 285.5h1v3h-1zM248.5 279.5h3v1h-3zM249.5 278.5h1v3h-1zM258.5 289.5h3v1h-3zM259.5 288.5h1v3h-1zM268.5 320.5h3v1h-3zM269.5 319.5h1v3h-1zM278.5 320.5h3v1h-3zM279.5 319.5h1v3h-1zM288.5 323.5h3v1h-3zM289.5 322.5h1v3h-1zM298.5 338.5h3v1h-3zM299.5 337.5h1v3h-1zM308.5 348.5h3v1h-3zM309.5 347.5h1v3h-1zM318.5 331.5h3v1h-3zM319.5 330.5h1v3h-1zM328.5 323.5h3v1h-3zM329.5 322.5h1v3h-1zM338.5 311.5h3v1h-3zM339.5 310.5h1v3h-1zM348.5 337.5h3v1h-3zM349.5 336.5h1v3h-1zM358.5 324.5h3v1h-3zM359.5 323.5h1v3h-1zM368.5 320.5h3v1h-3zM369.5 319.5h1v3h-1zM378.5 295.5h3v1h-3zM379.5 294.5h1v3h-1zM388.5 294.5h3v1h-3zM389.5 293.5h1v3h-1zM398.5 275.5h3v1h-3zM399.5 274.5h1v3h-1zM408.5 257.5h3v1h-3zM409.5 256.5h1v3h-1zM418.5 238.5h3v1h-3zM419.5 237.5h1v3h-1zM428.5 232.5h3v1h-3zM429.5 231.5h1v3h-1zM438.5 224.5h3v1h-3zM439.5 223.5h1v3h-1zM448.5 233.5h3v1h-3zM449.5 232.5h1v3h-1zM458.5 238.5h3v1h-3zM459.5 237.5h1v3h-1zM468.5 254.5h3v1h-3zM469.5 253.5h1v3h-1zM478.5 237.5h3v1h-3zM479.5 236.5h1v3h-1zM488.5 231.5h3v1h-3zM489.5 230.5h1v3h-1zM498.5 229.5h3v1h-3zM499.5 228.5h1v3h-1zM508.5 241.5h3v1h-3zM509.5 240.5h1v3h-1zM518.5 221.5h3v1h-3zM519.5 220.5h1v3h-1zM528.5 220.5h3v1h-3zM529.5 219.5h1v3h-1zM538.5 204.5h3v1h-3zM539.5 203.5h1v3h-1zM548.5 211.5h3v1h-3zM549.5 210.5h1v3h-1zM558.5 205.5h3v1h-3zM559.5 204.5h1v3h-1zM568.5 211.5h3v1h-3zM569.5 210.5h1v3h-1zM578.5 213.5h3v1h-3zM579.5 212.5h1v3h-1zM588.5 225.5h3v1h-3zM589.5 224.5h1v3h-1zM598.5 222.5h3v1h-3zM599.5 221.5h1v3h-1zM608.5 229.5h3v1h-3zM609.5 228.5h1v3h-1zM618.5 245.5h3v1h-3zM619.5 244.5h1v3h-1zM628.5 263.5h3v1h-3zM629.5 262.5h1v3h-1zM638.5 279.5h3v1h-3zM639.5 278.5h1v3h-1zM648.5 291.5h3v1h-3zM649.5 290.5h1v3h-1zM658.5 301.5h3v1h-3zM659.5 300.5h1v3h-1zM668.5 322.5h3v1h-3zM669.5 321.5h1v3h-1zM678.5 324.5h3v1h-3zM679.5 323.5h1v3h-1zM688.5 330.5h3v1h-3zM689.5 329.5h1v3h-1z" fill="#508010"/>
<path d="M49.5 234.5h11v1h-11zM59.5 234.5h1L70.5 250.5h-1zM69.5 249.5L80.5 241.5v1L69.5 250.5zM79.5 241.5L90.5 246.5v1L79.5 242.5zM89.5 246.5L100.5 243.5v1L89.5 247.5zM99.5 243.5h1L110.5 263.5h-1zM109.5 262.5L120.5 257.5v1L109.5 263.5zM119.5 257.5h1L130.5 272.5h-1zM129.5 271.5L140.5 280.5v1L129.5 272.5zM139.5 280.5h1L150.5 293.5h-1zM149.5 292.5L160.5 283.5v1L149.5 293.5zM159.5 283.5L170.5 288.5v1L159.5 284.5zM169.5 288.5L180.5 285.5v1L169.5 289.5zM179.5 285.5L190.5 291.5v1L179.5 286.5zM199.5 275.5h1L190.5 292.5h-1zM199.5 275.5L210.5 272.5v1L199.5 276.5zM209.5 272.5L220.5 271.5v1L209.5 273.5zM219.5 271.5L230.5 274.5v1L219.5 272.5zM229.5 274.5L240.5 264.5v1L229.5 275.5zM239.5 264.5L250.5 262.5v1L239.5 265.5zM249.5 262.5L260.5 254.5v1L249.5 263.5zM259.5 254.5L270.5 259.5v1L259.5 255.5zM269.5 259.5L280.5 253.5v1L269.5 260.5zM279.5 253.5L290.5 257.5v1L279.5 254.5zM289.5 257.5L300.5 259.5v1L289.5 258.5zM299.5 259.5h1L310.5 275.5h-1zM309.5 274.5L320.5 267.5v1L309.5 275.5zM319.5 267.5h1L330.5 281.5h-1zM329.5 280.5L340.5 281.5v1L329.5 281.5zM339.5 281.5h1L350.5 294.5h-1zM349.5 293.5L360.5 286.5v1L349.5 294.5zM359.5 286.5L370.5 293.5v1L359.5 287.5zM369.5 293.5L380.5 287.5v1L369.5 294.5zM379.5 287.5h1L390.5 302.5h-1zM389.5 301.5L400.5 294.5v1L389.5 302.5zM399.5 294.5h1L410.5 312.5h-1zM409.5 311.5L420.5 320.5v1L409.5 312.5zM419.5 320.5h1L430.5 345.5h-1zM439.5 312.5h1L430.5 345.5h-1zM439.5 312.5L450.5 308.5v1L439.5 313.5zM449.5 308.5L460.5 309.5v1L449.5 309.5zM459.5 309.5h1L470.5 338.5h-1zM479.5 321.5h1L470.5 338.5h-1zM479.5 321.5L490.5 317.5v1L479.5 322.5zM489.5 317.5L500.5 309.5v1L489.5 318.5zM499.5 309.5h1L510.5 324.5h-1zM519.5 298.5h1L510.5 324.5h-1zM519.5 298.5L530.5 307.5v1L519.5 299.5zM529.5 307.5L540.5 298.5v1L529.5 308.5zM539.5 298.5L550.5 305.5v1L539.5 299.5zM559.5 290.5h1L550.5 306.5h-1zM559.5 290.5L570.5 300.5v1L559.5 291.5zM579.5 281.5h1L570.5 301.5h-1zM579.5 281.5L590.5 286.5v1L579.5 282.5zM589.5 286.5L600.5 284.5v1L589.5 287.5zM599.5 284.5L610.5 280.5v1L599.5 285.5zM609.5 280.5L620.5 270.5v1L609.5 281.5zM619.5 270.5h1L630.5 282.5h-1zM639.5 258.5h1L630.5 282.5h-1zM639.5 258.5L650.5 266.5v1L639.5 259.5zM649.5 266.5L660.5 260.5v1L649.5 267.5zM659.5 260.5h1L670.5 278.5h-1zM679.5 262.5h1L670.5 278.5h-1zM679.5 262.5L690.5 271.5v1L679.5 263.5zM48.5 234.5h3v1h-3zM49.5 233.5h1v3h-1zM58.5 234.5h3v1h-3zM59.5 233.5h1v3h-1zM68.5 249.5h3v1h-3zM69.5 248.5h1v3h-1zM78.5 241.5h3v1h-3zM79.5 240.5h1v3h-1zM88.5 246.5h3v1h-3zM89.5 245.5h1v3h-1zM98.5 243.5h3v1h-3zM99.5 242.5h1v3h-1zM108.5 262.5h3v1h-3zM109.5 261.5h1v3h-1zM118.5 257.5h3v1h-3zM119.5 256.5h1v3h-1zM128.5 271.5h3v1h-3zM129.5 270.5h1v3h-1zM138.5 280.5h3v1h-3zM139.5 279.5h1v3h-1zM148.5 292.5h3v1h-3zM149.5 291.5h1v3h-1zM158.5 283.5h3v1h-3zM159.5 282.5h1v3h-1zM168.5 288.5h3v1h-3zM169.5 287.5h1v3h-1zM178.5 285.5h3v1h-3zM179.5 284.5h1v3h-1zM188.5 291.5h3v1h-3zM189.5 290.5h1v3h-1zM198.5 275.5h3v1h-3zM199.5 274.5h1v3h-1zM208.5 272.5h3v1h-3zM209.5 271.5h1v3h-1zM218.5 271.5h3v1h-3zM219.5 270.5h1v3h-1zM228.5 274.5h3v1h-3zM229.5 273.5h1v3h-1zM238.5 264.5h3v1h-3zM239.5 263.5h1v3h-1zM248.5 262.5h3v1h-3zM249.5 261.5h1v3h-1zM258.5 254.5h3v1h-3zM259.5 253.5h1v3h-1zM268.5 259.5h3v1h-3zM269.5 258.5h1v3h-1zM278.5 253.5h3v1h-3zM279.5 252.5h1v3h-1zM288.5 257.5h3v1h-3zM289.5 256.5h1v3h-1zM298.5 259.5h3v1h-3zM299.5 258.5h1v3h-1zM308.5 274.5h3v1h-3zM309.5 273.5h1v3h-1zM318.5 267.5h3v1h-3zM319.5 266.5h1v3h-1zM328.5 280.5h3v1h-3zM329.5 279.5h1v3h-1zM338.5 281.5h3v1h-3zM339.5 280.5h1v3h-1zM348.5 293.5h3v1h-3zM349.5 292.5h1v3h-1zM358.5 286.5h3v1h-3zM359.5 285.5h1v3h-1zM368.5 293.5h3v1h-3zM369.5 292.5h1v3h-1zM378.5 287.5h3v1h-3zM379.5 286.5h1v3h-1zM388.5 301.5h3v1h-3zM389.5 300.5h1v3h-1zM398.5 294.5h3v1h-3zM399.5 293.5h1v3h-1zM408.5 311.5h3v1h-3zM409.5 310.5h1v3h-1zM418.5 320.5h3v1h-3zM419.5 319.5h1v3h-1zM428.5 344.5h3v1h-3zM429.5 343.5h1v3h-1zM438.5 312.5h3v1h-3zM439.5 311.5h1v3h-1zM448.5 308.5h3v1h-3zM449.5 307.5h1v3h-1zM458.5 309.5h3v1h-3zM459.5 308.5h1v3h-1zM468.5 337.5h3v1h-3zM469.5 336.5h1v3h-1zM478.5 321.5h3v1h-3zM479.5 320.5h1v3h-1zM488.5 317.5h3v1h-3zM489.5 316.5h1v3h-1zM498.5 309.5h3v1h-3zM499.5 308.5h1v3h-1zM508.5 323.5h3v1h-3zM509.5 322.5h1v3h-1zM518.5 298.5h3v1h-3zM519.5 297.5h1v3h-1zM528.5 307.5h3v1h-3zM529.5 306.5h1v3h-1zM538.5 298.5h3v1h-3zM539.5 297.5h1v3h-1zM548.5 305.5h3v1h-3zM549.5 304.5h1v3h-1zM558.5 290.5h3v1h-3zM559.5 289.5h1v3h-1zM568.5 300.5h3v1h-3zM569.5 299.5h1v3h-1zM578.5 281.5h3v1h-3zM579.5 280.5h1v3h-1zM588.5 286.5h3v1h-3zM589.5 285.5h1v3h-1zM598.5 284.5h3v1h-3zM599.5 283.5h1v3h-1zM608.5 280.5h3v1h-3zM609.5 279.5h1v3h-1zM618.5 270.5h3v1h-3zM619.5 269.5h1v3h-1zM628.5 281.5h3v1h-3zM629.5 280.5h1v3h-1zM638.5 258.5h3v1h-3zM639.5 257.5h1v3h-1zM648.5 266.5h3v1h-3zM649.5 265.5h1v3h-1zM658.5 260.5h3v1h-3zM659.5 259.5h1v3h-1zM668.5 277.5h3v1h-3zM669.5 276.5h1v3h-1zM678.5 262.5h3v1h-3zM679.5 261.5h1v3h-1zM688.5 271.5h3v1h-3zM689.5 270.5h1v3h-1z" fill="#1080F0"/>
<path d="M49.5 233.5h11v1h-11zM59.5 233.5h1L70.5 246.5h-1zM69.5 245.5L80.5 237.5v1L69.5 246.5zM79.5 237.5L90.5 244.5v1L79.5 238.5zM89.5 244.5L100.5 242.5v1L89.5 245.5zM99.5 242.5h1L110.5 264.5h-1zM109.5 263.5L120.5 256.5v1L109.5 264.5zM119.5 256.5h1L130.5 269.5h-1zM129.5 268.5L140.5 276.5v1L129.5 269.5zM139.5 276.5h1L150.5 289.5h-1zM159.5 276.5h1L150.5 289.5h-1zM159.5 276.5L170.5 280.5v1L159.5 277.5zM169.5 280.5L180.5 273.5v1L169.5 281.5zM179.5 273.5L190.5 278.5v1L179.5 274.5zM199.5 266.5h1L190.5 279.5h-1zM199.5 266.5h11v1h-11zM209.5 266.5L220.5 263.5v1L209.5 267.5zM219.5 263.5L230.5 269.5v1L219.5 264.5zM239.5 250.5h1L230.5 270.5h-1zM239.5 250.5L250.5 249.5v1L239.5 251.5zM249.5 249.5L260.5 248.5v1L249.5 250.5zM259.5 248.5L270.5 254.5v1L259.5 249.5zM279.5 241.5h1L270.5 255.5h-1zM279.5 241.5L290.5 248.5v1L279.5 242.5zM289.5 248.5L300.5 245.5v1L289.5 249.5zM299.5 245.5L310.5 255.5v1L299.5 246.5zM309.5 255.5L320.5 246.5v1L309.5 256.5zM319.5 246.5h1L330.5 260.5h-1zM329.5 259.5L340.5 261.5v1L329.5 260.5zM339.5 261.5L350.5 266.5v1L339.5 262.5zM359.5 255.5h1L350.5 267.5h-1zM359.5 255.5L370.5 260.5v1L359.5 256.5zM379.5 249.5h1L370.5 261.5h-1zM379.5 249.5L390.5 253.5v1L379.5 250.5zM389.5 253.5L400.5 247.5v1L389.5 254.5zM399.5 247.5h11v1h-11zM409.5 247.5L420.5 243.5v1L409.5 248.5zM419.5 243.5h1L430.5 256.5h-1zM429.5 255.5L440.5 248.5v1L429.5 256.5zM439.5 248.5L450.5 257.5v1L439.5 249.5zM459.5 238.5h1L450.5 258.5h-1zM459.5 238.5L470.5 237.5v1L459.5 239.5zM469.5 237.5L480.5 244.5v1L469.5 238.5zM479.5 244.5L490.5 240.5v1L479.5 245.5zM489.5 240.5L500.5 246.5v1L489.5 241.5zM499.5 246.5L510.5 242.5v1L499.5 247.5zM519.5 227.5h1L510.5 243.5h-1zM519.5 227.5L530.5 235.5v1L519.5 228.5zM529.5 235.5L540.5 245.5v1L529.5 236.5zM539.5 245.5L550.5 255.5v1L539.5 246.5zM549.5 255.5L560.5 259.5v1L549.5 256.5zM559.5 259.5L570.5 256.5v1L559.5 260.5zM569.5 256.5L580.5 257.5v1L569.5 257.5zM579.5 257.5L590.5 264.5v1L579.5 258.5zM589.5 264.5L600.5 262.5v1L589.5 265.5zM599.5 262.5L610.5 265.5v1L599.5 263.5zM609.5 265.5L620.5 257.5v1L609.5 266.5zM619.5 257.5L630.5 267.5v1L619.5 258.5zM629.5 267.5L640.5 260.5v1L629.5 268.5zM639.5 260.5L650.5 266.5v1L639.5 261.5zM649.5 266.5L660.5 265.5v1L649.5 267.5zM659.5 265.5h1L670.5 277.5h-1zM669.5 276.5L680.5 270.5v1L669.5 277.5zM679.5 270.5h1L690.5 288.5h-1zM48.5 233.5h3v1h-3zM49.5 232.5h1v3h-1zM58.5 233.5h3v1h-3zM59.5 232.5h1v3h-1zM68.5 245.5h3v1h-3zM69.5 244.5h1v3h-1zM78.5 237.5h3v1h-3zM79.5 236.5h1v3h-1zM88.5 244.5h3v1h-3zM89.5 243.5h1v3h-1zM98.5 242.5h3v1h-3zM99.5 241.5h1v3h-1zM108.5 263.5h3v1h-3zM109.5 262.5h1v3h-1zM118.5 256.5h3v1h-3zM119.5 255.5h1v3h-1zM128.5 268.5h3v1h-3zM129.5 267.5h1v3h-1zM138.5 276.5h3v1h-3zM139.5 275.5h1v3h-1zM148.5 288.5h3v1h-3zM149.5 287.5h1v3h-1zM158.5 276.5h3v1h-3zM159.5 275.5h1v3h-1zM168.5 280.5h3v1h-3zM169.5 279.5h1v3h-1zM178.5 273.5h3v1h-3zM179.5 272.5h1v3h-1zM188.5 278.5h3v1h-3zM189.5 277.5h1v3h-1zM198.5 266.5h3v1h-3zM199.5 265.5h1v3h-1zM208.5 266.5h3v1h-3zM209.5 265.5h1v3h-1zM218.5 263.5h3v1h-3zM219.5 262.5h1v3h-1zM228.5 269.5h3v1h-3zM229.5 268.5h1v3h-1zM238.5 250.5h3v1h-3zM239.5 249.5h1v3h-1zM248.5 249.5h3v1h-3zM249.5 248.5h1v3h-1zM258.5 248.5h3v1h-3zM259.5 247.5h1v3h-1zM268.5 254.5h3v1h-3zM269.5 253.5h1v3h-1zM278.5 241.5h3v1h-3zM279.5 240.5h1v3h-1zM288.5 248.5h3v1h-3zM289.5 247.5h1v3h-1zM298.5 245.5h3v1h-3zM299.5 244.5h1v3h-1zM308.5 255.5h3v1h-3zM309.5 254.5h1v3h-1zM318.5 246.5h3v1h-3zM319.5 245.5h1v3h-1zM328.5 259.5h3v1h-3zM329.5 258.5h1v3h-1zM338.5 261.5h3v1h-3zM339.5 260.5h1v3h-1zM348.5 266.5h3v1h-3zM349.5 265.5h1v3h-1zM358.5 255.5h3v1h-3zM359.5 254.5h1v3h-1zM368.5 260.5h3v1h-3zM369.5 259.5h1v3h-1zM378.5 249.5h3v1h-3zM379.5 248.5h1v3h-1zM388.5 253.5h3v1h-3zM389.5 252.5h1v3h-1zM398.5 247.5h3v1h-3zM399.5 246.5h1v3h-1zM408.5 247.5h3v1h-3zM409.5 246.5h1v3h-1zM418.5 243.5h3v1h-3zM419.5 242.5h1v3h-1zM428.5 255.5h3v1h-3zM429.5 254.5h1v3h-1zM438.5 248.5h3v1h-3zM439.5 247.5h1v3h-1zM448.5 257.5h3v1h-3zM449.5 256.5h1v3h-1zM458.5 238.5h3v1h-3zM459.5 237.5h1v3h-1zM468.5 237.5h3v1h-3zM469.5 236.5h1v3h-1zM478.5 244.5h3v1h-3zM479.5 243.5h1v3h-1zM488.5 240.5h3v1h-3zM489.5 239.5h1v3h-1zM498.5 246.5h3v1h-3zM499.5 245.5h1v3h-1zM508.5 242.5h3v1h-3zM509.5 241.5h1v3h-1zM518.5 227.5h3v1h-3zM519.5 226.5h1v3h-1zM528.5 235.5h3v1h-3zM529.5 234.5h1v3h-1zM538.5 245.5h3v1h-3zM539.5 244.5h1v3h-1zM548.5 255.5h3v1h-3zM549.5 254.5h1v3h-1zM558.5 259.5h3v1h-3zM559.5 258.5h1v3h-1zM568.5 256.5h3v1h-3zM569.5 255.5h1v3h-1zM578.5 257.5h3v1h-3zM579.5 256.5h1v3h-1zM588.5 264.5h3v1h-3zM589.5 263.5h1v3h-1zM598.5 262.5h3v1h-3zM599.5 261.5h1v3h-1zM608.5 265.5h3v1h-3zM609.5 264.5h1v3h-1zM618.5 257.5h3v1h-3zM619.5 256.5h1v3h-1zM628.5 267.5h3v1h-3zM629.5 266.5h1v3h-1zM638.5 260.5h3v1h-3zM639.5 259.5h1v3h-1zM648.5 266.5h3v1h-3zM649.5 265.5h1v3h-1zM658.5 265.5h3v1h-3zM659.5 264.5h1v3h-1zM668.5 276.5h3v1h-3zM669.5 275.5h1v3h-1zM678.5 270.5h3v1h-3zM679.5 269.5h1v3h-1zM688.5 287.5h3v1h-3zM689.5 286.5h1v3h-1z" fill="#E8D8B0"/>
<path d="M49.5 232.5h11v1h-11zM59.5 232.5h1L70.5 244.5h-1zM69.5 243.5L80.5 233.5v1L69.5 244.5zM79.5 233.5L90.5 242.5v1L79.5 234.5zM89.5 242.5L100.5 240.5v1L89.5 243.5zM99.5 240.5h1L110.5 263.5h-1zM109.5 262.5L120.5 255.5v1L109.5 263.5zM119.5 255.5h1L130.5 268.5h-1zM129.5 267.5L140.5 274.5v1L129.5 268.5zM139.5 274.5h1L150.5 289.5h-1zM149.5 288.5L160.5 278.5v1L149.5 289.5zM159.5 278.5L170.5 280.5v1L159.5 279.5zM169.5 280.5L180.5 275.5v1L169.5 281.5zM179.5 275.5L190.5 274.5v1L179.5 276.5zM199.5 256.5h1L190.5 275.5h-1zM199.5 256.5L210.5 258.5v1L199.5 257.5zM209.5 258.5L220.5 250.5v1L209.5 259.5zM219.5 250.5h1L230.5 265.5h-1zM229.5 264.5L240.5 255.5v1L229.5 265.5zM239.5 255.5L250.5 263.5v1L239.5 256.5zM249.5 263.5h1L260.5 276.5h-1zM259.5 275.5h1L270.5 304.5h-1zM269.5 303.5L280.5 311.5v1L269.5 304.5zM279.5 311.5h1L290.5 331.5h-1zM289.5 330.5h1L300.5 343.5h-1zM299.5 342.5h1L310.5 356.5h-1zM309.5 355.5L320.5 356.5v1L309.5 356.5zM319.5 356.5L330.5 364.5v1L319.5 357.5zM339.5 350.5h1L330.5 365.5h-1zM349.5 335.5h1L340.5 351.5h-1zM359.5 310.5h1L350.5 336.5h-1zM359.5 310.5L370.5 304.5v1L359.5 311.5zM369.5 304.5L380.5 295.5v1L369.5 305.5zM379.5 295.5L390.5 299.5v1L379.5 296.5zM389.5 299.5L400.5 289.5v1L389.5 300.5zM399.5 289.5L410.5 295.5v1L399.5 290.5zM409.5 295.5L420.5 290.5v1L409.5 296.5zM419.5 290.5h1L430.5 302.5h-1zM439.5 289.5h1L430.5 302.5h-1zM439.5 289.5L450.5 295.5v1L439.5 290.5zM449.5 295.5L460.5 293.5v1L449.5 296.5zM459.5 293.5h1L470.5 306.5h-1zM479.5 293.5h1L470.5 306.5h-1zM479.5 293.5L490.5 300.5v1L479.5 294.5zM489.5 300.5L500.5 295.5v1L489.5 301.5zM499.5 295.5L510.5 304.5v1L499.5 296.5zM519.5 287.5h1L510.5 305.5h-1zM519.5 287.5h1L530.5 301.5h-1zM529.5 300.5L540.5 305.5v1L529.5 301.5zM539.5 305.5h1L550.5 319.5h-1zM549.5 318.5L560.5 323.5v1L549.5 319.5zM559.5 323.5L570.5 329.5v1L559.5 324.5zM579.5 311.5h1L570.5 330.5h-1zM579.5 311.5L590.5 306.5v1L579.5 312.5zM589.5 306.5L600.5 297.5v1L589.5 307.5zM599.5 297.5L610.5 300.5v1L599.5 298.5zM619.5 289.5h1L610.5 301.5h-1zM619.5 289.5L630.5 284.5v1L619.5 290.5zM639.5 262.5h1L630.5 285.5h-1zM649.5 247.5h1L640.5 263.5h-1zM649.5 247.5L660.5 242.5v1L649.5 248.5zM659.5 242.5L670.5 249.5v1L659.5 243.5zM669.5 249.5L680.5 242.5v1L669.5 250.5zM679.5 242.5h1L690.5 258.5h-1zM48.5 232.5h3v1h-3zM49.5 231.5h1v3h-1zM58.5 232.5h3v1h-3zM59.5 231.5h1v3h-1zM68.5 243.5h3v1h-3zM69.5 242.5h1v3h-1zM78.5 233.5h3v1h-3zM79.5 232.5h1v3h-1zM88.5 242.5h3v1h-3zM89.5 241.5h1v3h-1zM98.5 240.5h3v1h-3zM99.5 239.5h1v3h-1zM108.5 262.5h3v1h-3zM109.5 261.5h1v3h-1zM118.5 255.5h3v1h-3zM119.5 254.5h1v3h-1zM128.5 267.5h3v1h-3zM129.5 266.5h1v3h-1zM138.5 274.5h3v1h-3zM139.5 273.5h1v3h-1zM148.5 288.5h3v1h-3zM149.5 287.5h1v3h-1zM158.5 278.5h3v1h-3zM159.5 277.5h1v3h-1zM168.5 280.5h3v1h-3zM169.5 279.5h1v3h-1zM178.5 275.5h3v1h-3zM179.5 274.5h1v3h-1zM188.5 274.5h3v1h-3zM189.5 273.5h1v3h-1zM198.5 256.5h3v1h-3zM199.5 255.5h1v3h-1zM208.5 258.5h3v1h-3zM209.5 257.5h1v3h-1zM218.5 250.5h3v1h-3zM219.5 249.5h1v3h-1zM228.5 264.5h3v1h-3zM229.5 263.5h1v3h-1zM238.5 255.5h3v1h-3zM239.5 254.5h1v3h-1zM248.5 263.5h3v1h-3zM249.5 262.5h1v3h-1zM258.5 275.5h3v1h-3zM259.5 274.5h1v3h-1zM268.5 303.5h3v1h-3zM269.5 302.5h1v3h-1zM278.5 311.5h3v1h-3zM279.5 310.5h1v3h-1zM288.5 330.5h3v1h-3zM289.5 329.5h1v3h-1zM298.5 342.5h3v1h-3zM299.5 341.5h1v3h-1zM308.5 355.5h3v1h-3zM309.5 354.5h1v3h-1zM318.5 356.5h3v1h-3zM319.5 355.5h1v3h-1zM328.5 364.5h3v1h-3zM329.5 363.5h1v3h-1zM338.5 350.5h3v1h-3zM339.5 349.5h1v3h-1zM348.5 335.5h3v1h-3zM349.5 334.5h1v3h-1zM358.5 310.5h3v1h-3zM359.5 309.5h1v3h-1zM368.5 304.5h3v1h-3zM369.5 303.5h1v3h-1zM378.5 295.5h3v1h-3zM379.5 294.5h1v3h-1zM388.5 299.5h3v1h-3zM389.5 298.5h1v3h-1zM398.5 289.5h3v1h-3zM399.5 288.5h1v3h-1zM408.5 295.5h3v1h-3zM409.5 294.5h1v3h-1zM418.5 290.5h3v1h-3zM419.5 289.5h1v3h-1zM428.5 301.5h3v1h-3zM429.5 300.5h1v3h-1zM438.5 289.5h3v1h-3zM439.5 288.5h1v3h-1zM448.5 295.5h3v1h-3zM449.5 294.5h1v3h-1zM458.5 293.5h3v1h-3zM459.5 292.5h1v3h-1zM468.5 305.5h3v1h-3zM469.5 304.5h1v3h-1zM478.5 293.5h3v1h-3zM479.5 292.5h1v3h-1zM488.5 300.5h3v1h-3zM489.5 299.5h1v3h-1zM498.5 295.5h3v1h-3zM499.5 294.5h1v3h-1zM508.5 304.5h3v1h-3zM509.5 303.5h1v3h-1zM518.5 287.5h3v1h-3zM519.5 286.5h1v3h-1zM528.5 300.5h3v1h-3zM529.5 299.5h1v3h-1zM538.5 305.5h3v1h-3zM539.5 304.5h1v3h-1zM548.5 318.5h3v1h-3zM549.5 317.5h1v3h-1zM558.5 323.5h3v1h-3zM559.5 322.5h1v3h-1zM568.5 329.5h3v1h-3zM569.5 328.5h1v3h-1zM578.5 311.5h3v1h-3zM579.5 310.5h1v3h-1zM588.5 306.5h3v1h-3zM589.5 305.5h1v3h-1zM598.5 297.5h3v1h-3zM599.5 296.5h1v3h-1zM608.5 300.5h3v1h-3zM609.5 299.5h1v3h-1zM618.5 289.5h3v1h-3zM619.5 288.5h1v3h-1zM628.5 284.5h3v1h-3zM629.5 283.5h1v3h-1zM638.5 262.5h3v1h-3zM639.5 261.5h1v3h-1zM648.5 247.5h3v1h-3zM649.5 246.5h1v3h-1zM658.5 242.5h3v1h-3zM659.5 241.5h1v3h-1zM668.5 249.5h3v1h-3zM669.5 248.5h1v3h-1zM678.5 242.5h3v1h-3zM679.5 241.5h1v3h-1zM688.5 257.5h3v1h-3zM689.5 256.5h1v3h-1z" fill="#4090C0"/>
<path d="M49.5 232.5h11v1h-11zM59.5 232.5h1L70.5 244.5h-1zM79.5 232.5h1L70.5 244.5h-1zM79.5 232.5L90.5 239.5v1L79.5 233.5zM89.5 239.5L100.5 237.5v1L89.5 240.5zM99.5 237.5h1L110.5 259.5h-1zM109.5 258.5L120.5 251.5v1L109.5 259.5zM119.5 251.5h1L130.5 264.5h-1zM129.5 263.5L140.5 270.5v1L129.5 264.5zM139.5 270.5h1L150.5 285.5h-1zM159.5 270.5h1L150.5 285.5h-1zM159.5 270.5L170.5 274.5v1L159.5 271.5zM169.5 274.5L180.5 265.5v1L169.5 275.5zM179.5 265.5L190.5 269.5v1L179.5 266.5zM199.5 256.5h1L190.5 270.5h-1zM199.5 256.5L210.5 257.5v1L199.5 257.5zM209.5 257.5L220.5 260.5v1L209.5 258.5zM219.5 260.5h1L230.5 275.5h-1zM229.5 274.5L240.5 276.5v1L229.5 275.5zM239.5 276.5L250.5 286.5v1L239.5 277.5zM249.5 286.5h1L260.5 299.5h-1zM259.5 298.5h1L270.5 329.5h-1zM269.5 328.5L280.5 335.5v1L269.5 329.5zM279.5 335.5h1L290.5 348.5h-1zM289.5 347.5h1L300.5 359.5h-1zM299.5 358.5h1L310.5 375.5h-1zM319.5 362.5h1L310.5 375.5h-1zM319.5 362.5h1L330.5 376.5h-1zM339.5 347.5h1L330.5 376.5h-1zM349.5 336.5h1L340.5 348.5h-1zM359.5 310.5h1L350.5 337.5h-1zM359.5 310.5L370.5 304.5v1L359.5 311.5zM369.5 304.5L380.5 295.5v1L369.5 305.5zM379.5 295.5L390.5 299.5v1L379.5 296.5zM399.5 280.5h1L390.5 300.5h-1zM399.5 280.5L410.5 275.5v1L399.5 281.5zM409.5 275.5L420.5 274.5v1L409.5 276.5zM419.5 274.5L430.5 269.5v1L419.5 275.5zM429.5 269.5L440.5 259.5v1L429.5 270.5zM439.5 259.5L450.5 265.5v1L439.5 260.5zM449.5 265.5L460.5 266.5v1L449.5 266.5zM459.5 266.5L470.5 270.5v1L459.5 267.5zM479.5 257.5h1L470.5 271.5h-1zM479.5 257.5L490.5 260.5v1L479.5 258.5zM489.5 260.5L500.5 261.5v1L489.5 261.5zM499.5 261.5L510.5 271.5v1L499.5 262.5zM509.5 271.5L520.5 265.5v1L509.5 272.5zM519.5 265.5L530.5 271.5v1L519.5 266.5zM529.5 271.5L540.5 275.5v1L529.5 272.5zM539.5 275.5L550.5 279.5v1L539.5 276.5zM549.5 279.5L560.5 280.5v1L549.5 280.5zM559.5 280.5L570.5 273.5v1L559.5 281.5zM569.5 273.5L580.5 270.5v1L569.5 274.5zM579.5 270.5h1L590.5 282.5h-1zM599.5 269.5h1L590.5 282.5h-1zM599.5 269.5L610.5 271.5v1L599.5 270.5zM609.5 271.5L620.5 274.5v1L609.5 272.5zM619.5 274.5L630.5 284.5v1L619.5 275.5zM639.5 271.5h1L630.5 285.5h-1zM639.5 271.5h1L650.5 308.5h-1zM649.5 307.5L660.5 315.5v1L649.5 308.5zM659.5 315.5L670.5 306.5v1L659.5 316.5zM669.5 306.5L680.5 303.5v1L669.5 307.5zM679.5 303.5L690.5 302.5v1L679.5 304.5zM48.5 232.5h3v1h-3zM49.5 231.5h1v3h-1zM58.5 232.5h3v1h-3zM59.5 231.5h1v3h-1zM68.5 243.5h3v1h-3zM69.5 242.5h1v3h-1zM78.5 232.5h3v1h-3zM79.5 231.5h1v3h-1zM88.5 239.5h3v1h-3zM89.5 238.5h1v3h-1zM98.5 237.5h3v1h-3zM99.5 236.5h1v3h-1zM108.5 258.5h3v1h-3zM109.5 257.5h1v3h-1zM118.5 251.5h3v1h-3zM119.5 250.5h1v3h-1zM128.5 263.5h3v1h-3zM129.5 262.5h1v3h-1zM138.5 270.5h3v1h-3zM139.5 269.5h1v3h-1zM148.5 284.5h3v1h-3zM149.5 283.5h1v3h-1zM158.5 270.5h3v1h-3zM159.5 269.5h1v3h-1zM168.5 274.5h3v1h-3zM169.5 273.5h1v3h-1zM178.5 265.5h3v1h-3zM179.5 264.5h1v3h-1zM188.5 269.5h3v1h-3zM189.5 268.5h1v3h-1zM198.5 256.5h3v1h-3zM199.5 255.5h1v3h-1zM208.5 257.5h3v1h-3zM209.5 256.5h1v3h-1zM218.5 260.5h3v1h-3zM219.5 259.5h1v3h-1zM228.5 274.5h3v1h-3zM229.5 273.5h1v3h-1zM238.5 276.5h3v1h-3zM239.5 275.5h1v3h-1zM248.5 286.5h3v1h-3zM249.5 285.5h1v3h-1zM258.5 298.5h3v1h-3zM259.5 297.5h1v3h-1zM268.5 328.5h3v1h-3zM269.5 327.5h1v3h-1zM278.5 335.5h3v1h-3zM279.5 334.5h1v3h-1zM288.5 347.5h3v1h-3zM289.5 346.5h1v3h-1zM298.5 358.5h3v1h-3zM299.5 357.5h1v3h-1zM308.5 374.5h3v1h-3zM309.5 373.5h1v3h-1zM318.5 362.5h3v1h-3zM319.5 361.5h1v3h-1zM328.5 375.5h3v1h-3zM329.5 374.5h1v3h-1zM338.5 347.5h3v1h-3zM339.5 346.5h1v3h-1zM348.5 336.5h3v1h-3zM349.5 335.5h1v3h-1zM358.5 310.5h3v1h-3zM359.5 309.5h1v3h-1zM368.5 304.5h3v1h-3zM369.5 303.5h1v3h-1zM378.5 295.5h3v1h-3zM379.5 294.5h1v3h-1zM388.5 299.5h3v1h-3zM389.5 298.5h1v3h-1zM398.5 280.5h3v1h-3zM399.5 279.5h1v3h-1zM408.5 275.5h3v1h-3zM409.5 274.5h1v3h-1zM418.5 274.5h3v1h-3zM419.5 273.5h1v3h-1zM428.5 269.5h3v1h-3zM429.5 268.5h1v3h-1zM438.5 259.5h3v1h-3zM439.5 258.5h1v3h-1zM448.5 265.5h3v1h-3zM449.5 264.5h1v3h-1zM458.5 266.5h3v1h-3zM459.5 265.5h1v3h-1zM468.5 270.5h3v1h-3zM469.5 269.5h1v3h-1zM478.5 257.5h3v1h-3zM479.5 256.5h1v3h-1zM488.5 260.5h3v1h-3zM489.5 259.5h1v3h-1zM498.5 261.5h3v1h-3zM499.5 260.5h1v3h-1zM508.5 271.5h3v1h-3zM509.5 270.5h1v3h-1zM518.5 265.5h3v1h-3zM519.5 264.5h1v3h-1zM528.5 271.5h3v1h-3zM529.5 270.5h1v3h-1zM538.5 275.5h3v1h-3zM539.5 274.5h1v3h-1zM548.5 279.5h3v1h-3zM549.5 278.5h1v3h-1zM558.5 280.5h3v1h-3zM559.5 279.5h1v3h-1zM568.5 273.5h3v1h-3zM569.5 272.5h1v3h-1zM578.5 270.5h3v1h-3zM579.5 269.5h1v3h-1zM588.5 281.5h3v1h-3zM589.5 280.5h1v3h-1zM598.5 269.5h3v1h-3zM599.5 268.5h1v3h-1zM608.5 271.5h3v1h-3zM609.5 270.5h1v3h-1zM618.5 274.5h3v1h-3zM619.5 273.5h1v3h-1zM628.5 284.5h3v1h-3zM629.5 283.5h1v3h-1zM638.5 271.5h3v1h-3zM639.5 270.5h1v3h-1zM648.5 307.5h3v1h-3zM649.5 306.5h1v3h-1zM658.5 315.5h3v1h-3zM659.5 314.5h1v3h-1zM668.5 306.5h3v1h-3zM669.5 305.5h1v3h-1zM678.5 303.5h3v1h-3zM679.5 302.5h1v3h-1zM688.5 302.5h3v1h-3zM689.5 301.5h1v3h-1z" fill="#E8A858"/>
<path d="M49.5 232.5L60.5 230.5v1L49.5 233.5zM59.5 230.5h1L70.5 243.5h-1zM79.5 231.5h1L70.5 243.5h-1zM79.5 231.5L90.5 239.5v1L79.5 232.5zM89.5 239.5h11v1h-11zM99.5 239.5h1L110.5 264.5h-1zM109.5 263.5L120.5 257.5v1L109.5 264.5zM119.5 257.5h1L130.5 272.5h-1zM129.5 271.5L140.5 280.5v1L129.5 272.5zM139.5 280.5h1L150.5 292.5h-1zM149.5 291.5L160.5 281.5v1L149.5 292.5zM159.5 281.5L170.5 284.5v1L159.5 282.5zM169.5 284.5L180.5 283.5v1L169.5 285.5zM179.5 283.5L190.5 290.5v1L179.5 284.5zM199.5 276.5h1L190.5 291.5h-1zM199.5 276.5L210.5 278.5v1L199.5 277.5zM209.5 278.5L220.5 272.5v1L209.5 279.5zM219.5 272.5L230.5 271.5v1L219.5 273.5zM229.5 271.5L240.5 273.5v1L229.5 272.5zM239.5 273.5L250.5 275.5v1L239.5 274.5zM249.5 275.5L260.5 281.5v1L249.5 276.5zM259.5 281.5h1L270.5 313.5h-1zM269.5 312.5L280.5 310.5v1L269.5 313.5zM279.5 310.5L290.5 313.5v1L279.5 311.5zM289.5 313.5L300.5 308.5v1L289.5 314.5zM299.5 308.5L310.5 312.5v1L299.5 309.5zM319.5 300.5h1L310.5 313.5h-1zM329.5 288.5h1L320.5 301.5h-1zM329.5 288.5L340.5 280.5v1L329.5 289.5zM339.5 280.5L350.5 285.5v1L339.5 281.5zM359.5 265.5h1L350.5 286.5h-1zM359.5 265.5L370.5 262.5v1L359.5 266.5zM379.5 242.5h1L370.5 263.5h-1zM379.5 242.5h1L390.5 255.5h-1zM399.5 221.5h1L390.5 255.5h-1zM399.5 221.5L410.5 230.5v1L399.5 222.5zM409.5 230.5L420.5 225.5v1L409.5 231.5zM419.5 225.5h1L430.5 244.5h-1zM429.5 243.5L440.5 244.5v1L429.5 244.5zM439.5 244.5L450.5 251.5v1L439.5 245.5zM449.5 251.5L460.5 255.5v1L449.5 252.5zM459.5 255.5h1L470.5 268.5h-1zM469.5 267.5L480.5 268.5v1L469.5 268.5zM479.5 268.5L490.5 274.5v1L479.5 269.5zM489.5 274.5h11v1h-11zM499.5 274.5L510.5 278.5v1L499.5 275.5zM509.5 278.5L520.5 271.5v1L509.5 279.5zM519.5 271.5L530.5 268.5v1L519.5 272.5zM529.5 268.5L540.5 263.5v1L529.5 269.5zM539.5 263.5L550.5 262.5v1L539.5 264.5zM559.5 247.5h1L550.5 263.5h-1zM559.5 247.5L570.5 249.5v1L559.5 248.5zM569.5 249.5L580.5 248.5v1L569.5 250.5zM579.5 248.5L590.5 257.5v1L579.5 249.5zM599.5 244.5h1L590.5 258.5h-1zM599.5 244.5L610.5 247.5v1L599.5 245.5zM619.5 233.5h1L610.5 248.5h-1zM619.5 233.5L630.5 241.5v1L619.5 234.5zM629.5 241.5L640.5 242.5v1L629.5 242.5zM639.5 242.5L650.5 239.5v1L639.5 243.5zM649.5 239.5L660.5 245.5v1L649.5 240.5zM659.5 245.5h1L670.5 277.5h-1zM679.5 261.5h1L670.5 277.5h-1zM679.5 261.5h1L690.5 274.5h-1zM48.5 232.5h3v1h-3zM49.5 231.5h1v3h-1zM58.5 230.5h3v1h-3zM59.5 229.5h1v3h-1zM68.5 242.5h3v1h-3zM69.5 241.5h1v3h-1zM78.5 231.5h3v1h-3zM79.5 230.5h1v3h-1zM88.5 239.5h3v1h-3zM89.5 238.5h1v3h-1zM98.5 239.5h3v1h-3zM99.5 238.5h1v3h-1zM108.5 263.5h3v1h-3zM109.5 262.5h1v3h-1zM118.5 257.5h3v1h-3zM119.5 256.5h1v3h-1zM128.5 271.5h3v1h-3zM129.5 270.5h1v3h-1zM138.5 280.5h3v1h-3zM139.5 279.5h1v3h-1zM148.5 291.5h3v1h-3zM149.5 290.5h1v3h-1zM158.5 281.5h3v1h-3zM159.5 280.5h1v3h-1zM168.5 284.5h3v1h-3zM169.5 283.5h1v3h-1zM178.5 283.5h3v1h-3zM179.5 282.5h1v3h-1zM188.5 290.5h3v1h-3zM189.5 289.5h1v3h-1zM198.5 276.5h3v1h-3zM199.5 275.5h1v3h-1zM208.5 278.5h3v1h-3zM209.5 277.5h1v3h-1zM218.5 272.5h3v1h-3zM219.5 271.5h1v3h-1zM228.5 271.5h3v1h-3zM229.5 270.5h1v3h-1zM238.5 273.5h3v1h-3zM239.5 272.5h1v3h-1zM248.5 275.5h3v1h-3zM249.5 274.5h1v3h-1zM258.5 281.5h3v1h-3zM259.5 280.5h1v3h-1zM268.5 312.5h3v1h-3zM269.5 311.5h1v3h-1zM278.5 310.5h3v1h-3zM279.5 309.5h1v3h-1zM288.5 313.5h3v1h-3zM289.5 312.5h1v3h-1zM298.5 308.5h3v1h-3zM299.5 307.5h1v3h-1zM308.5 312.5h3v1h-3zM309.5 311.5h1v3h-1zM318.5 300.5h3v1h-3zM319.5 299.5h1v3h-1zM328.5 288.5h3v1h-3zM329.5 287.5h1v3h-1zM338.5 280.5h3v1h-3zM339.5 279.5h1v3h-1zM348.5 285.5h3v1h-3zM349.5 284.5h1v3h-1zM358.5 265.5h3v1h-3zM359.5 264.5h1v3h-1zM368.5 262.5h3v1h-3zM369.5 261.5h1v3h-1zM378.5 242.5h3v1h-3zM379.5 241.5h1v3h-1zM388.5 254.5h3v1h-3zM389.5 253.5h1v3h-1zM398.5 221.5h3v1h-3zM399.5 220.5h1v3h-1zM408.5 230.5h3v1h-3zM409.5 229.5h1v3h-1zM418.5 225.5h3v1h-3zM419.5 224.5h1v3h-1zM428.5 243.5h3v1h-3zM429.5 242.5h1v3h-1zM438.5 244.5h3v1h-3zM439.5 243.5h1v3h-1zM448.5 251.5h3v1h-3zM449.5 250.5h1v3h-1zM458.5 255.5h3v1h-3zM459.5 254.5h1v3h-1zM468.5 267.5h3v1h-3zM469.5 266.5h1v3h-1zM478.5 268.5h3v1h-3zM479.5 267.5h1v3h-1zM488.5 274.5h3v1h-3zM489.5 273.5h1v3h-1zM498.5 274.5h3v1h-3zM499.5 273.5h1v3h-1zM508.5 278.5h3v1h-3zM509.5 277.5h1v3h-1zM518.5 271.5h3v1h-3zM519.5 270.5h1v3h-1zM528.5 268.5h3v1h-3zM529.5 267.5h1v3h-1zM538.5 263.5h3v1h-3zM539.5 262.5h1v3h-1zM548.5 262.5h3v1h-3zM549.5 261.5h1v3h-1zM558.5 247.5h3v1h-3zM559.5 246.5h1v3h-1zM568.5 249.5h3v1h-3zM569.5 248.5h1v3h-1zM578.5 248.5h3v1h-3zM579.5 247.5h1v3h-1zM588.5 257.5h3v1h-3zM589.5 256.5h1v3h-1zM598.5 244.5h3v1h-3zM599.5 243.5h1v3h-1zM608.5 247.5h3v1h-3zM609.5 246.5h1v3h-1zM618.5 233.5h3v1h-3zM619.5 232.5h1v3h-1zM628.5 241.5h3v1h-3zM629.5 240.5h1v3h-1zM638.5 242.5h3v1h-3zM639.5 241.5h1v3h-1zM648.5 239.5h3v1h-3zM649.5 238.5h1v3h-1zM658.5 245.5h3v1h-3zM659.5 244.5h1v3h-1zM668.5 276.5h3v1h-3zM669.5 275.5h1v3h-1zM678.5 261.5h3v1h-3zM679.5 260.5h1v3h-1zM688.5 273.5h3v1h-3zM689.5 272.5h1v3h-1z" fill="#605020"/>
<path d="M49.5 234.5h11v1h-11zM59.5 234.5h1L70.5 248.5h-1zM69.5 247.5L80.5 238.5v1L69.5 248.5zM79.5 238.5L90.5 245.5v1L79.5 239.5zM89.5 245.5L100.5 244.5v1L89.5 246.5zM99.5 244.5h1L110.5 267.5h-1zM109.5 266.5L120.5 262.5v1L109.5 267.5zM119.5 262.5h1L130.5 276.5h-1zM129.5 275.5L140.5 284.5v1L129.5 276.5zM139.5 284.5h1L150.5 300.5h-1zM159.5 284.5h1L150.5 300.5h-1zM159.5 284.5L170.5 288.5v1L159.5 285.5zM169.5 288.5L180.5 284.5v1L169.5 289.5zM179.5 284.5L190.5 288.5v1L179.5 285.5zM199.5 268.5h1L190.5 289.5h-1zM199.5 268.5L210.5 263.5v1L199.5 269.5zM209.5 263.5L220.5 260.5v1L209.5 264.5zM219.5 260.5L230.5 262.5v1L219.5 261.5zM239.5 241.5h1L230.5 263.5h-1zM239.5 241.5L250.5 235.5v1L239.5 242.5zM249.5 235.5h11v1h-11zM259.5 235.5L270.5 245.5v1L259.5 236.5zM269.5 245.5L280.5 242.5v1L269.5 246.5zM279.5 242.5L290.5 251.5v1L279.5 243.5zM289.5 251.5L300.5 248.5v1L289.5 252.5zM299.5 248.5h1L310.5 262.5h-1zM309.5 261.5L320.5 251.5v1L309.5 262.5zM319.5 251.5L330.5 258.5v1L319.5 252.5zM329.5 258.5L340.5 259.5v1L329.5 259.5zM339.5 259.5L350.5 265.5v1L339.5 260.5zM349.5 265.5L360.5 264.5v1L349.5 266.5zM359.5 264.5L370.5 263.5v1L359.5 265.5zM369.5 263.5L380.5 261.5v1L369.5 264.5zM379.5 261.5L390.5 267.5v1L379.5 262.5zM389.5 267.5L400.5 265.5v1L389.5 268.5zM399.5 265.5L410.5 268.5v1L399.5 266.5zM419.5 256.5h1L410.5 269.5h-1zM419.5 256.5h1L430.5 270.5h-1zM429.5 269.5L440.5 264.5v1L429.5 270.5zM439.5 264.5L450.5 269.5v1L439.5 265.5zM449.5 269.5L460.5 267.5v1L449.5 270.5zM459.5 267.5L470.5 270.5v1L459.5 268.5zM479.5 250.5h1L470.5 271.5h-1zM479.5 250.5L490.5 251.5v1L479.5 251.5zM489.5 251.5L500.5 248.5v1L489.5 252.5zM499.5 248.5L510.5 254.5v1L499.5 249.5zM509.5 254.5L520.5 252.5v1L509.5 255.5zM519.5 252.5L530.5 254.5v1L519.5 253.5zM529.5 254.5L540.5 264.5v1L529.5 255.5zM539.5 264.5L550.5 269.5v1L539.5 265.5zM549.5 269.5L560.5 272.5v1L549.5 270.5zM559.5 272.5h1L570.5 286.5h-1zM569.5 285.5L580.5 284.5v1L569.5 286.5zM579.5 284.5h1L590.5 303.5h-1zM589.5 302.5L600.5 300.5v1L589.5 303.5zM599.5 300.5h1L610.5 315.5h-1zM609.5 314.5L620.5 322.5v1L609.5 315.5zM619.5 322.5L630.5 331.5v1L619.5 323.5zM629.5 331.5L640.5 324.5v1L629.5 332.5zM639.5 324.5L650.5 325.5v1L639.5 325.5zM649.5 325.5L660.5 321.5v1L649.5 326.5zM659.5 321.5L670.5 317.5v1L659.5 322.5zM669.5 317.5L680.5 308.5v1L669.5 318.5zM679.5 308.5L690.5 306.5v1L679.5 309.5zM48.5 234.5h3v1h-3zM49.5 233.5h1v3h-1zM58.5 234.5h3v1h-3zM59.5 233.5h1v3h-1zM68.5 247.5h3v1h-3zM69.5 246.5h1v3h-1zM78.5 238.5h3v1h-3zM79.5 237.5h1v3h-1zM88.5 245.5h3v1h-3zM89.5 244.5h1v3h-1zM98.5 244.5h3v1h-3zM99.5 243.5h1v3h-1zM108.5 266.5h3v1h-3zM109.5 265.5h1v3h-1zM118.5 262.5h3v1h-3zM119.5 261.5h1v3h-1zM128.5 275.5h3v1h-3zM129.5 274.5h1v3h-1zM138.5 284.5h3v1h-3zM139.5 283.5h1v3h-1zM148.5 299.5h3v1h-3zM149.5 298.5h1v3h-1zM158.5 284.5h3v1h-3zM159.5 283.5h1v3h-1zM168.5 288.5h3v1h-3zM169.5 287.5h1v3h-1zM178.5 284.5h3v1h-3zM179.5 283.5h1v3h-1zM188.5 288.5h3v1h-3zM189.5 287.5h1v3h-1zM198.5 268.5h3v1h-3zM199.5 267.5h1v3h-1zM208.5 263.5h3v1h-3zM209.5 262.5h1v3h-1zM218.5 260.5h3v1h-3zM219.5 259.5h1v3h-1zM228.5 262.5h3v1h-3zM229.5 261.5h1v3h-1zM238.5 241.5h3v1h-3zM239.5 240.5h1v3h-1zM248.5 235.5h3v1h-3zM249.5 234.5h1v3h-1zM258.5 235.5h3v1h-3zM259.5 234.5h1v3h-1zM268.5 245.5h3v1h-3zM269.5 244.5h1v3h-1zM278.5 242.5h3v1h-3zM279.5 241.5h1v3h-1zM288.5 251.5h3v1h-3zM289.5 250.5h1v3h-1zM298.5 248.5h3v1h-3zM299.5 247.5h1v3h-1zM308.5 261.5h3v1h-3zM309.5 260.5h1v3h-1zM318.5 251.5h3v1h-3zM319.5 250.5h1v3h-1zM328.5 258.5h3v1h-3zM329.5 257.5h1v3h-1zM338.5 259.5h3v1h-3zM339.5 258.5h1v3h-1zM348.5 265.5h3v1h-3zM349.5 264.5h1v3h-1zM358.5 264.5h3v1h-3zM359.5 263.5h1v3h-1zM368.5 263.5h3v1h-3zM369.5 262.5h1v3h-1zM378.5 261.5h3v1h-3zM379.5 260.5h1v3h-1zM388.5 267.5h3v1h-3zM389.5 266.5h1v3h-1zM398.5 265.5h3v1h-3zM399.5 264.5h1v3h-1zM408.5 268.5h3v1h-3zM409.5 267.5h1v3h-1zM418.5 256.5h3v1h-3zM419.5 255.5h1v3h-1zM428.5 269.5h3v1h-3zM429.5 268.5h1v3h-1zM438.5 264.5h3v1h-3zM439.5 263.5h1v3h-1zM448.5 269.5h3v1h-3zM449.5 268.5h1v3h-1zM458.5 267.5h3v1h-3zM459.5 266.5h1v3h-1zM468.5 270.5h3v1h-3zM469.5 269.5h1v3h-1zM478.5 250.5h3v1h-3zM479.5 249.5h1v3h-1zM488.5 251.5h3v1h-3zM489.5 250.5h1v3h-1zM498.5 248.5h3v1h-3zM499.5 247.5h1v3h-1zM508.5 254.5h3v1h-3zM509.5 253.5h1v3h-1zM518.5 252.5h3v1h-3zM519.5 251.5h1v3h-1zM528.5 254.5h3v1h-3zM529.5 253.5h1v3h-1zM538.5 264.5h3v1h-3zM539.5 263.5h1v3h-1zM548.5 269.5h3v1h-3zM549.5 268.5h1v3h-1zM558.5 272.5h3v1h-3zM559.5 271.5h1v3h-1zM568.5 285.5h3v1h-3zM569.5 284.5h1v3h-1zM578.5 284.5h3v1h-3zM579.5 283.5h1v3h-1zM588.5 302.5h3v1h-3zM589.5 301.5h1v3h-1zM598.5 300.5h3v1h-3zM599.5 299.5h1v3h-1zM608.5 314.5h3v1h-3zM609.5 313.5h1v3h-1zM618.5 322.5h3v1h-3zM619.5 321.5h1v3h-1zM628.5 331.5h3v1h-3zM629.5 330.5h1v3h-1zM638.5 324.5h3v1h-3zM639.5 323.5h1v3h-1zM648.5 325.5h3v1h-3zM649.5 324.5h1v3h-1zM658.5 321.5h3v1h-3zM659.5 320.5h1v3h-1zM668.5 317.5h3v1h-3zM669.5 316.5h1v3h-1zM678.5 308.5h3v1h-3zM679.5 307.5h1v3h-1zM688.5 306.5h3v1h-3zM689.5 305.5h1v3h-1z" fill="#F06820"/>
<path d="M49.5 234.5L60.5 232.5v1L49.5 235.5zM59.5 232.5h1L70.5 245.5h-1zM69.5 244.5L80.5 234.5v1L69.5 245.5zM79.5 234.5L90.5 241.5v1L79.5 235.5zM89.5 241.5L100.5 239.5v1L89.5 242.5zM99.5 239.5h1L110.5 261.5h-1zM109.5 260.5L120.5 254.5v1L109.5 261.5zM119.5 254.5h1L130.5 269.5h-1zM129.5 268.5L140.5 273.5v1L129.5 269.5zM139.5 273.5h1L150.5 289.5h-1zM149.5 288.5L160.5 279.5v1L149.5 289.5zM159.5 279.5L170.5 282.5v1L159.5 280.5zM169.5 282.5L180.5 286.5v1L169.5 283.5zM179.5 286.5L190.5 293.5v1L179.5 287.5zM189.5 293.5L200.5 287.5v1L189.5 294.5zM199.5 287.5L210.5 292.5v1L199.5 288.5zM209.5 292.5L220.5 289.5v1L209.5 293.5zM219.5 289.5h1L230.5 307.5h-1zM229.5 306.5L240.5 297.5v1L229.5 307.5zM239.5 297.5L250.5 299.5v1L239.5 298.5zM249.5 299.5L260.5 300.5v1L249.5 300.5zM259.5 300.5h1L270.5 326.5h-1zM269.5 325.5L280.5 320.5v1L269.5 326.5zM279.5 320.5h21v1h-21zM299.5 320.5L310.5 327.5v1L299.5 321.5zM319.5 311.5h1L310.5 328.5h-1zM319.5 311.5L330.5 302.5v1L319.5 312.5zM339.5 290.5h1L330.5 303.5h-1zM339.5 290.5h1L350.5 303.5h-1zM359.5 284.5h1L350.5 303.5h-1zM359.5 284.5L370.5 275.5v1L359.5 285.5zM379.5 262.5h1L370.5 276.5h-1zM379.5 262.5L390.5 266.5v1L379.5 263.5zM399.5 248.5h1L390.5 267.5h-1zM399.5 248.5L410.5 238.5v1L399.5 249.5zM409.5 238.5L420.5 241.5v1L409.5 239.5zM419.5 241.5h1L430.5 254.5h-1zM439.5 242.5h1L430.5 254.5h-1zM439.5 242.5L450.5 238.5v1L439.5 243.5zM449.5 238.5h11v1h-11zM459.5 238.5L470.5 247.5v1L459.5 239.5zM469.5 247.5L480.5 246.5v1L469.5 248.5zM479.5 246.5L490.5 254.5v1L479.5 247.5zM489.5 254.5L500.5 256.5v1L489.5 255.5zM499.5 256.5h1L510.5 269.5h-1zM519.5 252.5h1L510.5 269.5h-1zM519.5 252.5h1L530.5 268.5h-1zM529.5 267.5L540.5 261.5v1L529.5 268.5zM539.5 261.5L550.5 263.5v1L539.5 262.5zM549.5 263.5L560.5 258.5v1L549.5 264.5zM569.5 247.5h1L560.5 259.5h-1zM569.5 247.5L580.5 252.5v1L569.5 248.5zM579.5 252.5h1L590.5 265.5h-1zM589.5 264.5h11v1h-11zM599.5 264.5L610.5 259.5v1L599.5 265.5zM609.5 259.5L620.5 252.5v1L609.5 260.5zM619.5 252.5L630.5 260.5v1L619.5 253.5zM639.5 239.5h1L630.5 261.5h-1zM639.5 239.5h1L650.5 254.5h-1zM649.5 253.5L660.5 258.5v1L649.5 254.5zM659.5 258.5h1L670.5 271.5h-1zM669.5 270.5L680.5 264.5v1L669.5 271.5zM679.5 264.5h11v1h-11zM48.5 234.5h3v1h-3zM49.5 233.5h1v3h-1zM58.5 232.5h3v1h-3zM59.5 231.5h1v3h-1zM68.5 244.5h3v1h-3zM69.5 243.5h1v3h-1zM78.5 234.5h3v1h-3zM79.5 233.5h1v3h-1zM88.5 241.5h3v1h-3zM89.5 240.5h1v3h-1zM98.5 239.5h3v1h-3zM99.5 238.5h1v3h-1zM108.5 260.5h3v1h-3zM109.5 259.5h1v3h-1zM118.5 254.5h3v1h-3zM119.5 253.5h1v3h-1zM128.5 268.5h3v1h-3zM129.5 267.5h1v3h-1zM138.5 273.5h3v1h-3zM139.5 272.5h1v3h-1zM148.5 288.5h3v1h-3zM149.5 287.5h1v3h-1zM158.5 279.5h3v1h-3zM159.5 278.5h1v3h-1zM168.5 282.5h3v1h-3zM169.5 281.5h1v3h-1zM178.5 286.5h3v1h-3zM179.5 285.5h1v3h-1zM188.5 293.5h3v1h-3zM189.5 292.5h1v3h-1zM198.5 287.5h3v1h-3zM199.5 286.5h1v3h-1zM208.5 292.5h3v1h-3zM209.5 291.5h1v3h-1zM218.5 289.5h3v1h-3zM219.5 288.5h1v3h-1zM228.5 306.5h3v1h-3zM229.5 305.5h1v3h-1zM238.5 297.5h3v1h-3zM239.5 296.5h1v3h-1zM248.5 299.5h3v1h-3zM249.5 298.5h1v3h-1zM258.5 300.5h3v1h-3zM259.5 299.5h1v3h-1zM268.5 325.5h3v1h-3zM269.5 324.5h1v3h-1zM278.5 320.5h3v1h-3zM279.5 319.5h1v3h-1zM288.5 320.5h3v1h-3zM289.5 319.5h1v3h-1zM298.5 320.5h3v1h-3zM299.5 319.5h1v3h-1zM308.5 327.5h3v1h-3zM309.5 326.5h1v3h-1zM318.5 311.5h3v1h-3zM319.5 310.5h1v3h-1zM328.5 302.5h3v1h-3zM329.5 301.5h1v3h-1zM338.5 290.5h3v1h-3zM339.5 289.5h1v3h-1zM348.5 302.5h3v1h-3zM349.5 301.5h1v3h-1zM358.5 284.5h3v1h-3zM359.5 283.5h1v3h-1zM368.5 275.5h3v1h-3zM369.5 274.5h1v3h-1zM378.5 262.5h3v1h-3zM379.5 261.5h1v3h-1zM388.5 266.5h3v1h-3zM389.5 265.5h1v3h-1zM398.5 248.5h3v1h-3zM399.5 247.5h1v3h-1zM408.5 238.5h3v1h-3zM409.5 237.5h1v3h-1zM418.5 241.5h3v1h-3zM419.5 240.5h1v3h-1zM428.5 253.5h3v1h-3zM429.5 252.5h1v3h-1zM438.5 242.5h3v1h-3zM439.5 241.5h1v3h-1zM448.5 238.5h3v1h-3zM449.5 237.5h1v3h-1zM458.5 238.5h3v1h-3zM459.5 237.5h1v3h-1zM468.5 247.5h3v1h-3zM469.5 246.5h1v3h-1zM478.5 246.5h3v1h-3zM479.5 245.5h1v3h-1zM488.5 254.5h3v1h-3zM489.5 253.5h1v3h-1zM498.5 256.5h3v1h-3zM499.5 255.5h1v3h-1zM508.5 268.5h3v1h-3zM509.5 267.5h1v3h-1zM518.5 252.5h3v1h-3zM519.5 251.5h1v3h-1zM528.5 267.5h3v1h-3zM529.5 266.5h1v3h-1zM538.5 261.5h3v1h-3zM539.5 260.5h1v3h-1zM548.5 263.5h3v1h-3zM549.5 262.5h1v3h-1zM558.5 258.5h3v1h-3zM559.5 257.5h1v3h-1zM568.5 247.5h3v1h-3zM569.5 246.5h1v3h-1zM578.5 252.5h3v1h-3zM579.5 251.5h1v3h-1zM588.5 264.5h3v1h-3zM589.5 263.5h1v3h-1zM598.5 264.5h3v1h-3zM599.5 263.5h1v3h-1zM608.5 259.5h3v1h-3zM609.5 258.5h1v3h-1zM618.5 252.5h3v1h-3zM619.5 251.5h1v3h-1zM628.5 260.5h3v1h-3zM629.5 259.5h1v3h-1zM638.5 239.5h3v1h-3zM639.5 238.5h1v3h-1zM648.5 253.5h3v1h-3zM649.5 252.5h1v3h-1zM658.5 258.5h3v1h-3zM659.5 257.5h1v3h-1zM668.5 270.5h3v1h-3zM669.5 269.5h1v3h-1zM678.5 264.5h3v1h-3zM679.5 263.5h1v3h-1zM688.5 264.5h3v1h-3zM689.5 263.5h1v3h-1z" fill="#D0C080"/>
<path d="M49.5 234.5L60.5 233.5v1L49.5 235.5zM59.5 233.5h1L70.5 246.5h-1zM69.5 245.5L80.5 236.5v1L69.5 246.5zM79.5 236.5L90.5 244.5v1L79.5 237.5zM89.5 244.5L100.5 242.5v1L89.5 245.5zM99.5 242.5h1L110.5 264.5h-1zM109.5 263.5L120.5 258.5v1L109.5 264.5zM119.5 258.5h1L130.5 272.5h-1zM129.5 271.5L140.5 280.5v1L129.5 272.5zM139.5 280.5h1L150.5 292.5h-1zM149.5 291.5L160.5 284.5v1L149.5 292.5zM159.5 284.5L170.5 287.5v1L159.5 285.5zM169.5 287.5L180.5 282.5v1L169.5 288.5zM179.5 282.5L190.5 292.5v1L179.5 283.5zM199.5 281.5h1L190.5 293.5h-1zM199.5 281.5L210.5 279.5v1L199.5 282.5zM209.5 279.5L220.5 277.5v1L209.5 280.5zM219.5 277.5L230.5 281.5v1L219.5 278.5zM229.5 281.5L240.5 274.5v1L229.5 282.5zM239.5 274.5L250.5 275.5v1L239.5 275.5zM249.5 275.5L260.5 271.5v1L249.5 276.5zM259.5 271.5h1L270.5 294.5h-1zM269.5 293.5L280.5 288.5v1L269.5 294.5zM279.5 288.5h1L290.5 304.5h-1zM289.5 303.5L300.5 307.5v1L289.5 304.5zM299.5 307.5h1L310.5 324.5h-1zM319.5 295.5h1L310.5 324.5h-1zM319.5 295.5L330.5 297.5v1L319.5 296.5zM329.5 297.5L340.5 288.5v1L329.5 298.5zM339.5 288.5L350.5 280.5v1L339.5 289.5zM359.5 265.5h1L350.5 281.5h-1zM359.5 265.5L370.5 266.5v1L359.5 266.5zM379.5 247.5h1L370.5 267.5h-1zM379.5 247.5L390.5 256.5v1L379.5 248.5zM389.5 256.5L400.5 248.5v1L389.5 257.5zM399.5 248.5L410.5 249.5v1L399.5 249.5zM409.5 249.5h11v1h-11zM419.5 249.5h1L430.5 265.5h-1zM429.5 264.5L440.5 262.5v1L429.5 265.5zM439.5 262.5h1L450.5 275.5h-1zM449.5 274.5L460.5 272.5v1L449.5 275.5zM459.5 272.5h1L470.5 288.5h-1zM469.5 287.5L480.5 280.5v1L469.5 288.5zM479.5 280.5h1L490.5 294.5h-1zM489.5 293.5L500.5 285.5v1L489.5 294.5zM499.5 285.5L510.5 286.5v1L499.5 286.5zM509.5 286.5L520.5 276.5v1L509.5 287.5zM519.5 276.5L530.5 270.5v1L519.5 277.5zM529.5 270.5L540.5 261.5v1L529.5 271.5zM539.5 261.5h11v1h-11zM549.5 261.5L560.5 253.5v1L549.5 262.5zM559.5 253.5L570.5 246.5v1L559.5 254.5zM569.5 246.5L580.5 243.5v1L569.5 247.5zM579.5 243.5L590.5 246.5v1L579.5 244.5zM599.5 229.5h1L590.5 247.5h-1zM599.5 229.5L610.5 231.5v1L599.5 230.5zM609.5 231.5L620.5 226.5v1L609.5 232.5zM619.5 226.5L630.5 229.5v1L619.5 227.5zM639.5 217.5h1L630.5 230.5h-1zM639.5 217.5L650.5 221.5v1L639.5 218.5zM649.5 221.5L660.5 222.5v1L649.5 222.5zM659.5 222.5h1L670.5 237.5h-1zM669.5 236.5L680.5 234.5v1L669.5 237.5zM679.5 234.5h1L690.5 247.5h-1zM48.5 234.5h3v1h-3zM49.5 233.5h1v3h-1zM58.5 233.5h3v1h-3zM59.5 232.5h1v3h-1zM68.5 245.5h3v1h-3zM69.5 244.5h1v3h-1zM78.5 236.5h3v1h-3zM79.5 235.5h1v3h-1zM88.5 244.5h3v1h-3zM89.5 243.5h1v3h-1zM98.5 242.5h3v1h-3zM99.5 241.5h1v3h-1zM108.5 263.5h3v1h-3zM109.5 262.5h1v3h-1zM118.5 258.5h3v1h-3zM119.5 257.5h1v3h-1zM128.5 271.5h3v1h-3zM129.5 270.5h1v3h-1zM138.5 280.5h3v1h-3zM139.5 279.5h1v3h-1zM148.5 291.5h3v1h-3zM149.5 290.5h1v3h-1zM158.5 284.5h3v1h-3zM159.5 283.5h1v3h-1zM168.5 287.5h3v1h-3zM169.5 286.5h1v3h-1zM178.5 282.5h3v1h-3zM179.5 281.5h1v3h-1zM188.5 292.5h3v1h-3zM189.5 291.5h1v3h-1zM198.5 281.5h3v1h-3zM199.5 280.5h1v3h-1zM208.5 279.5h3v1h-3zM209.5 278.5h1v3h-1zM218.5 277.5h3v1h-3zM219.5 276.5h1v3h-1zM228.5 281.5h3v1h-3zM229.5 280.5h1v3h-1zM238.5 274.5h3v1h-3zM239.5 273.5h1v3h-1zM248.5 275.5h3v1h-3zM249.5 274.5h1v3h-1zM258.5 271.5h3v1h-3zM259.5 270.5h1v3h-1zM268.5 293.5h3v1h-3zM269.5 292.5h1v3h-1zM278.5 288.5h3v1h-3zM279.5 287.5h1v3h-1zM288.5 303.5h3v1h-3zM289.5 302.5h1v3h-1zM298.5 307.5h3v1h-3zM299.5 306.5h1v3h-1zM308.5 323.5h3v1h-3zM309.5 322.5h1v3h-1zM318.5 295.5h3v1h-3zM319.5 294.5h1v3h-1zM328.5 297.5h3v1h-3zM329.5 296.5h1v3h-1zM338.5 288.5h3v1h-3zM339.5 287.5h1v3h-1zM348.5 280.5h3v1h-3zM349.5 279.5h1v3h-1zM358.5 265.5h3v1h-3zM359.5 264.5h1v3h-1zM368.5 266.5h3v1h-3zM369.5 265.5h1v3h-1zM378.5 247.5h3v1h-3zM379.5 246.5h1v3h-1zM388.5 256.5h3v1h-3zM389.5 255.5h1v3h-1zM398.5 248.5h3v1h-3zM399.5 247.5h1v3h-1zM408.5 249.5h3v1h-3zM409.5 248.5h1v3h-1zM418.5 249.5h3v1h-3zM419.5 248.5h1v3h-1zM428.5 264.5h3v1h-3zM429.5 263.5h1v3h-1zM438.5 262.5h3v1h-3zM439.5 261.5h1v3h-1zM448.5 274.5h3v1h-3zM449.5 273.5h1v3h-1zM458.5 272.5h3v1h-3zM459.5 271.5h1v3h-1zM468.5 287.5h3v1h-3zM469.5 286.5h1v3h-1zM478.5 280.5h3v1h-3zM479.5 279.5h1v3h-1zM488.5 293.5h3v1h-3zM489.5 292.5h1v3h-1zM498.5 285.5h3v1h-3zM499.5 284.5h1v3h-1zM508.5 286.5h3v1h-3zM509.5 285.5h1v3h-1zM518.5 276.5h3v1h-3zM519.5 275.5h1v3h-1zM528.5 270.5h3v1h-3zM529.5 269.5h1v3h-1zM538.5 261.5h3v1h-3zM539.5 260.5h1v3h-1zM548.5 261.5h3v1h-3zM549.5 260.5h1v3h-1zM558.5 253.5h3v1h-3zM559.5 252.5h1v3h-1zM568.5 246.5h3v1h-3zM569.5 245.5h1v3h-1zM578.5 243.5h3v1h-3zM579.5 242.5h1v3h-1zM588.5 246.5h3v1h-3zM589.5 245.5h1v3h-1zM598.5 229.5h3v1h-3zM599.5 228.5h1v3h-1zM608.5 231.5h3v1h-3zM609.5 230.5h1v3h-1zM618.5 226.5h3v1h-3zM619.5 225.5h1v3h-1zM628.5 229.5h3v1h-3zM629.5 228.5h1v3h-1zM638.5 217.5h3v1h-3zM639.5 216.5h1v3h-1zM648.5 221.5h3v1h-3zM649.5 220.5h1v3h-1zM658.5 222.5h3v1h-3zM659.5 221.5h1v3h-1zM668.5 236.5h3v1h-3zM669.5 235.5h1v3h-1zM678.5 234.5h3v1h-3zM679.5 233.5h1v3h-1zM688.5 246.5h3v1h-3zM689.5 245.5h1v3h-1z" fill="#10D060"/>
<path d="M49.5 231.5L60.5 230.5v1L49.5 232.5zM59.5 230.5h1L70.5 243.5h-1zM69.5 242.5L80.5 232.5v1L69.5 243.5zM79.5 232.5L90.5 241.5v1L79.5 233.5zM89.5 241.5L100.5 240.5v1L89.5 242.5zM99.5 240.5h1L110.5 263.5h-1zM109.5 262.5L120.5 256.5v1L109.5 263.5zM119.5 256.5h1L130.5 269.5h-1zM129.5 268.5L140.5 277.5v1L129.5 269.5zM139.5 277.5h1L150.5 291.5h-1zM149.5 290.5L160.5 281.5v1L149.5 291.5zM159.5 281.5L170.5 289.5v1L159.5 282.5zM169.5 289.5L180.5 287.5v1L169.5 290.5zM179.5 287.5L190.5 296.5v1L179.5 288.5zM199.5 284.5h1L190.5 297.5h-1zM199.5 284.5L210.5 282.5v1L199.5 285.5zM209.5 282.5L220.5 283.5v1L209.5 283.5zM219.5 283.5L230.5 287.5v1L219.5 284.5zM229.5 287.5L240.5 282.5v1L229.5 288.5zM239.5 282.5L250.5 285.5v1L239.5 283.5zM249.5 285.5L260.5 291.5v1L249.5 286.5zM259.5 291.5h1L270.5 314.5h-1zM269.5 313.5L280.5 308.5v1L269.5 314.5zM279.5 308.5h1L290.5 326.5h-1zM289.5 325.5L300.5 323.5v1L289.5 326.5zM299.5 323.5h1L310.5 337.5h-1zM319.5 321.5h1L310.5 337.5h-1zM319.5 321.5L330.5 323.5v1L319.5 322.5zM339.5 292.5h1L330.5 324.5h-1zM339.5 292.5L350.5 290.5v1L339.5 293.5zM359.5 272.5h1L350.5 291.5h-1zM359.5 272.5L370.5 276.5v1L359.5 273.5zM369.5 276.5L380.5 274.5v1L369.5 277.5zM379.5 274.5L390.5 273.5v1L379.5 275.5zM399.5 247.5h1L390.5 274.5h-1zM399.5 247.5L410.5 248.5v1L399.5 248.5zM409.5 248.5L420.5 241.5v1L409.5 249.5zM419.5 241.5L430.5 244.5v1L419.5 242.5zM439.5 231.5h1L430.5 245.5h-1zM439.5 231.5h1L450.5 247.5h-1zM449.5 246.5L460.5 239.5v1L449.5 247.5zM459.5 239.5h1L470.5 251.5h-1zM469.5 250.5L480.5 247.5v1L469.5 251.5zM479.5 247.5L490.5 248.5v1L479.5 248.5zM489.5 248.5L500.5 243.5v1L489.5 249.5zM499.5 243.5L510.5 244.5v1L499.5 244.5zM509.5 244.5L520.5 242.5v1L509.5 245.5zM519.5 242.5L530.5 243.5v1L519.5 243.5zM529.5 243.5L540.5 244.5v1L529.5 244.5zM539.5 244.5L550.5 252.5v1L539.5 245.5zM549.5 252.5L560.5 247.5v1L549.5 253.5zM569.5 232.5h1L560.5 248.5h-1zM579.5 216.5h1L570.5 233.5h-1zM579.5 216.5L590.5 220.5v1L579.5 217.5zM599.5 200.5h1L590.5 221.5h-1zM599.5 200.5L610.5 210.5v1L599.5 201.5zM609.5 210.5L620.5 217.5v1L609.5 211.5zM619.5 217.5h1L630.5 245.5h-1zM629.5 244.5L640.5 250.5v1L629.5 245.5zM639.5 250.5h1L650.5 270.5h-1zM649.5 269.5L660.5 264.5v1L649.5 270.5zM659.5 264.5h1L670.5 277.5h-1zM669.5 276.5L680.5 269.5v1L669.5 277.5zM679.5 269.5L690.5 268.5v1L679.5 270.5zM48.5 231.5h3v1h-3zM49.5 230.5h1v3h-1zM58.5 230.5h3v1h-3zM59.5 229.5h1v3h-1zM68.5 242.5h3v1h-3zM69.5 241.5h1v3h-1zM78.5 232.5h3v1h-3zM79.5 231.5h1v3h-1zM88.5 241.5h3v1h-3zM89.5 240.5h1v3h-1zM98.5 240.5h3v1h-3zM99.5 239.5h1v3h-1zM108.5 262.5h3v1h-3zM109.5 261.5h1v3h-1zM118.5 256.5h3v1h-3zM119.5 255.5h1v3h-1zM128.5 268.5h3v1h-3zM129.5 267.5h1v3h-1zM138.5 277.5h3v1h-3zM139.5 276.5h1v3h-1zM148.5 290.5h3v1h-3zM149.5 289.5h1v3h-1zM158.5 281.5h3v1h-3zM159.5 280.5h1v3h-1zM168.5 289.5h3v1h-3zM169.5 288.5h1v3h-1zM178.5 287.5h3v1h-3zM179.5 286.5h1v3h-1zM188.5 296.5h3v1h-3zM189.5 295.5h1v3h-1zM198.5 284.5h3v1h-3zM199.5 283.5h1v3h-1zM208.5 282.5h3v1h-3zM209.5 281.5h1v3h-1zM218.5 283.5h3v1h-3zM219.5 282.5h1v3h-1zM228.5 287.5h3v1h-3zM229.5 286.5h1v3h-1zM238.5 282.5h3v1h-3zM239.5 281.5h1v3h-1zM248.5 285.5h3v1h-3zM249.5 284.5h1v3h-1zM258.5 291.5h3v1h-3zM259.5 290.5h1v3h-1zM268.5 313.5h3v1h-3zM269.5 312.5h1v3h-1zM278.5 308.5h3v1h-3zM279.5 307.5h1v3h-1zM288.5 325.5h3v1h-3zM289.5 324.5h1v3h-1zM298.5 323.5h3v1h-3zM299.5 322.5h1v3h-1zM308.5 336.5h3v1h-3zM309.5 335.5h1v3h-1zM318.5 321.5h3v1h-3zM319.5 320.5h1v3h-1zM328.5 323.5h3v1h-3zM329.5 322.5h1v3h-1zM338.5 292.5h3v1h-3zM339.5 291.5h1v3h-1zM348.5 290.5h3v1h-3zM349.5 289.5h1v3h-1zM358.5 272.5h3v1h-3zM359.5 271.5h1v3h-1zM368.5 276.5h3v1h-3zM369.5 275.5h1v3h-1zM378.5 274.5h3v1h-3zM379.5 273.5h1v3h-1zM388.5 273.5h3v1h-3zM389.5 272.5h1v3h-1zM398.5 247.5h3v1h-3zM399.5 246.5h1v3h-1zM408.5 248.5h3v1h-3zM409.5 247.5h1v3h-1zM418.5 241.5h3v1h-3zM419.5 240.5h1v3h-1zM428.5 244.5h3v1h-3zM429.5 243.5h1v3h-1zM438.5 231.5h3v1h-3zM439.5 230.5h1v3h-1zM448.5 246.5h3v1h-3zM449.5 245.5h1v3h-1zM458.5 239.5h3v1h-3zM459.5 238.5h1v3h-1zM468.5 250.5h3v1h-3zM469.5 249.5h1v3h-1zM478.5 247.5h3v1h-3zM479.5 246.5h1v3h-1zM488.5 248.5h3v1h-3zM489.5 247.5h1v3h-1zM498.5 243.5h3v1h-3zM499.5 242.5h1v3h-1zM508.5 244.5h3v1h-3zM509.5 243.5h1v3h-1zM518.5 242.5h3v1h-3zM519.5 241.5h1v3h-1zM528.5 243.5h3v1h-3zM529.5 242.5h1v3h-1zM538.5 244.5h3v1h-3zM539.5 243.5h1v3h-1zM548.5 252.5h3v1h-3zM549.5 251.5h1v3h-1zM558.5 247.5h3v1h-3zM559.5 246.5h1v3h-1zM568.5 232.5h3v1h-3zM569.5 231.5h1v3h-1zM578.5 216.5h3v1h-3zM579.5 215.5h1v3h-1zM588.5 220.5h3v1h-3zM589.5 219.5h1v3h-1zM598.5 200.5h3v1h-3zM599.5 199.5h1v3h-1zM608.5 210.5h3v1h-3zM609.5 209.5h1v3h-1zM618.5 217.5h3v1h-3zM619.5 216.5h1v3h-1zM628.5 244.5h3v1h-3zM629.5 243.5h1v3h-1zM638.5 250.5h3v1h-3zM639.5 249.5h1v3h-1zM648.5 269.5h3v1h-3zM649.5 268.5h1v3h-1zM658.5 264.5h3v1h-3zM659.5 263.5h1v3h-1zM668.5 276.5h3v1h-3zM669.5 275.5h1v3h-1zM678.5 269.5h3v1h-3zM679.5 268.5h1v3h-1zM688.5 268.5h3v1h-3zM689.5 267.5h1v3h-1z" fill="#204060"/>
<path d="M49.5 231.5h11v1h-11zM59.5 231.5h1L70.5 243.5h-1zM69.5 242.5L80.5 232.5v1L69.5 243.5zM79.5 232.5L90.5 241.5v1L79.5 233.5zM89.5 241.5L100.5 240.5v1L89.5 242.5zM99.5 240.5h1L110.5 261.5h-1zM109.5 260.5L120.5 255.5v1L109.5 261.5zM119.5 255.5h1L130.5 267.5h-1zM129.5 266.5L140.5 274.5v1L129.5 267.5zM139.5 274.5h1L150.5 289.5h-1zM159.5 274.5h1L150.5 289.5h-1zM159.5 274.5L170.5 280.5v1L159.5 275.5zM169.5 280.5L180.5 274.5v1L169.5 281.5zM179.5 274.5L190.5 278.5v1L179.5 275.5zM189.5 278.5L200.5 274.5v1L189.5 279.5zM199.5 274.5L210.5 276.5v1L199.5 275.5zM209.5 276.5h11v1h-11zM219.5 276.5L230.5 282.5v1L219.5 277.5zM229.5 282.5L240.5 274.5v1L229.5 283.5zM239.5 274.5L250.5 278.5v1L239.5 275.5zM249.5 278.5L260.5 288.5v1L249.5 279.5zM259.5 288.5h1L270.5 306.5h-1zM269.5 305.5L280.5 309.5v1L269.5 306.5zM279.5 309.5L290.5 314.5v1L279.5 310.5zM289.5 314.5L300.5 311.5v1L289.5 315.5zM299.5 311.5L310.5 317.5v1L299.5 312.5zM319.5 289.5h1L310.5 318.5h-1zM319.5 289.5h11v1h-11zM339.5 263.5h1L330.5 290.5h-1zM339.5 263.5L350.5 253.5v1L339.5 264.5zM349.5 253.5L360.5 243.5v1L349.5 254.5zM359.5 243.5L370.5 249.5v1L359.5 244.5zM369.5 249.5L380.5 257.5v1L369.5 250.5zM379.5 257.5h11v1h-11zM399.5 246.5h1L390.5 258.5h-1zM399.5 246.5L410.5 250.5v1L399.5 247.5zM409.5 250.5L420.5 252.5v1L409.5 251.5zM419.5 252.5h1L430.5 271.5h-1zM429.5 270.5L440.5 264.5v1L429.5 271.5zM439.5 264.5h1L450.5 279.5h-1zM459.5 265.5h1L450.5 279.5h-1zM459.5 265.5L470.5 266.5v1L459.5 266.5zM469.5 266.5L480.5 260.5v1L469.5 267.5zM479.5 260.5L490.5 265.5v1L479.5 261.5zM489.5 265.5L500.5 257.5v1L489.5 266.5zM499.5 257.5L510.5 266.5v1L499.5 258.5zM509.5 266.5L520.5 261.5v1L509.5 267.5zM519.5 261.5h1L530.5 273.5h-1zM529.5 272.5L540.5 262.5v1L529.5 273.5zM539.5 262.5L550.5 272.5v1L539.5 263.5zM549.5 272.5L560.5 264.5v1L549.5 273.5zM559.5 264.5L570.5 265.5v1L559.5 265.5zM569.5 265.5L580.5 264.5v1L569.5 266.5zM579.5 264.5h1L590.5 286.5h-1zM599.5 274.5h1L590.5 286.5h-1zM599.5 274.5L610.5 277.5v1L599.5 275.5zM609.5 277.5h1L620.5 305.5h-1zM619.5 304.5L630.5 306.5v1L619.5 305.5zM629.5 306.5L640.5 301.5v1L629.5 307.5zM639.5 301.5L650.5 299.5v1L639.5 302.5zM649.5 299.5L660.5 291.5v1L649.5 300.5zM659.5 291.5L670.5 288.5v1L659.5 292.5zM669.5 288.5L680.5 284.5v1L669.5 289.5zM679.5 284.5h1L690.5 297.5h-1zM48.5 231.5h3v1h-3zM49.5 230.5h1v3h-1zM58.5 231.5h3v1h-3zM59.5 230.5h1v3h-1zM68.5 242.5h3v1h-3zM69.5 241.5h1v3h-1zM78.5 232.5h3v1h-3zM79.5 231.5h1v3h-1zM88.5 241.5h3v1h-3zM89.5 240.5h1v3h-1zM98.5 240.5h3v1h-3zM99.5 239.5h1v3h-1zM108.5 260.5h3v1h-3zM109.5 259.5h1v3h-1zM118.5 255.5h3v1h-3zM119.5 254.5h1v3h-1zM128.5 266.5h3v1h-3zM129.5 265.5h1v3h-1zM138.5 274.5h3v1h-3zM139.5 273.5h1v3h-1zM148.5 288.5h3v1h-3zM149.5 287.5h1v3h-1zM158.5 274.5h3v1h-3zM159.5 273.5h1v3h-1zM168.5 280.5h3v1h-3zM169.5 279.5h1v3h-1zM178.5 274.5h3v1h-3zM179.5 273.5h1v3h-1zM188.5 278.5h3v1h-3zM189.5 277.5h1v3h-1zM198.5 274.5h3v1h-3zM199.5 273.5h1v3h-1zM208.5 276.5h3v1h-3zM209.5 275.5h1v3h-1zM218.5 276.5h3v1h-3zM219.5 275.5h1v3h-1zM228.5 282.5h3v1h-3zM229.5 281.5h1v3h-1zM238.5 274.5h3v1h-3zM239.5 273.5h1v3h-1zM248.5 278.5h3v1h-3zM249.5 277.5h1v3h-1zM258.5 288.5h3v1h-3zM259.5 287.5h1v3h-1zM268.5 305.5h3v1h-3zM269.5 304.5h1v3h-1zM278.5 309.5h3v1h-3zM279.5 308.5h1v3h-1zM288.5 314.5h3v1h-3zM289.5 313.5h1v3h-1zM298.5 311.5h3v1h-3zM299.5 310.5h1v3h-1zM308.5 317.5h3v1h-3zM309.5 316.5h1v3h-1zM318.5 289.5h3v1h-3zM319.5 288.5h1v3h-1zM328.5 289.5h3v1h-3zM329.5 288.5h1v3h-1zM338.5 263.5h3v1h-3zM339.5 262.5h1v3h-1zM348.5 253.5h3v1h-3zM349.5 252.5h1v3h-1zM358.5 243.5h3v1h-3zM359.5 242.5h1v3h-1zM368.5 249.5h3v1h-3zM369.5 248.5h1v3h-1zM378.5 257.5h3v1h-3zM379.5 256.5h1v3h-1zM388.5 257.5h3v1h-3zM389.5 256.5h1v3h-1zM398.5 246.5h3v1h-3zM399.5 245.5h1v3h-1zM408.5 250.5h3v1h-3zM409.5 249.5h1v3h-1zM418.5 252.5h3v1h-3zM419.5 251.5h1v3h-1zM428.5 270.5h3v1h-3zM429.5 269.5h1v3h-1zM438.5 264.5h3v1h-3zM439.5 263.5h1v3h-1zM448.5 278.5h3v1h-3zM449.5 277.5h1v3h-1zM458.5 265.5h3v1h-3zM459.5 264.5h1v3h-1zM468.5 266.5h3v1h-3zM469.5 265.5h1v3h-1zM478.5 260.5h3v1h-3zM479.5 259.5h1v3h-1zM488.5 265.5h3v1h-3zM489.5 264.5h1v3h-1zM498.5 257.5h3v1h-3zM499.5 256.5h1v3h-1zM508.5 266.5h3v1h-3zM509.5 265.5h1v3h-1zM518.5 261.5h3v1h-3zM519.5 260.5h1v3h-1zM528.5 272.5h3v1h-3zM529.5 271.5h1v3h-1zM538.5 262.5h3v1h-3zM539.5 261.5h1v3h-1zM548.5 272.5h3v1h-3zM549.5 271.5h1v3h-1zM558.5 264.5h3v1h-3zM559.5 263.5h1v3h-1zM568.5 265.5h3v1h-3zM569.5 264.5h1v3h-1zM578.5 264.5h3v1h-3zM579.5 263.5h1v3h-1zM588.5 285.5h3v1h-3zM589.5 284.5h1v3h-1zM598.5 274.5h3v1h-3zM599.5 273.5h1v3h-1zM608.5 277.5h3v1h-3zM609.5 276.5h1v3h-1zM618.5 304.5h3v1h-3zM619.5 303.5h1v3h-1zM628.5 306.5h3v1h-3zM629.5 305.5h1v3h-1zM638.5 301.5h3v1h-3zM639.5 300.5h1v3h-1zM648.5 299.5h3v1h-3zM649.5 298.5h1v3h-1zM658.5 291.5h3v1h-3zM659.5 290.5h1v3h-1zM668.5 288.5h3v1h-3zM669.5 287.5h1v3h-1zM678.5 284.5h3v1h-3zM679.5 283.5h1v3h-1zM688.5 296.5h3v1h-3zM689.5 295.5h1v3h-1z" fill="#607080"/>
<path d="M49.5 232.5L60.5 231.5v1L49.5 233.5zM59.5 231.5L70.5 241.5v1L59.5 232.5zM69.5 241.5L80.5 233.5v1L69.5 242.5zM79.5 233.5L90.5 243.5v1L79.5 234.5zM89.5 243.5L100.5 239.5v1L89.5 244.5zM99.5 239.5h1L110.5 260.5h-1zM109.5 259.5L120.5 253.5v1L109.5 260.5zM119.5 253.5h1L130.5 266.5h-1zM129.5 265.5L140.5 275.5v1L129.5 266.5zM139.5 275.5h1L150.5 289.5h-1zM149.5 288.5L160.5 281.5v1L149.5 289.5zM159.5 281.5L170.5 283.5v1L159.5 282.5zM169.5 283.5L180.5 284.5v1L169.5 284.5zM179.5 284.5L190.5 289.5v1L179.5 285.5zM199.5 278.5h1L190.5 290.5h-1zM199.5 278.5L210.5 275.5v1L199.5 279.5zM209.5 275.5L220.5 267.5v1L209.5 276.5zM219.5 267.5L230.5 272.5v1L219.5 268.5zM229.5 272.5L240.5 263.5v1L229.5 273.5zM239.5 263.5L250.5 261.5v1L239.5 264.5zM259.5 249.5h1L250.5 262.5h-1zM259.5 249.5L270.5 259.5v1L259.5 250.5zM269.5 259.5L280.5 258.5v1L269.5 260.5zM279.5 258.5h1L290.5 273.5h-1zM289.5 272.5L300.5 273.5v1L289.5 273.5zM299.5 273.5h1L310.5 295.5h-1zM309.5 294.5L320.5 286.5v1L309.5 295.5zM319.5 286.5L330.5 281.5v1L319.5 287.5zM329.5 281.5L340.5 287.5v1L329.5 282.5zM339.5 287.5L350.5 290.5v1L339.5 288.5zM359.5 277.5h1L350.5 291.5h-1zM359.5 277.5L370.5 279.5v1L359.5 278.5zM369.5 279.5L380.5 275.5v1L369.5 280.5zM379.5 275.5L390.5 277.5v1L379.5 276.5zM389.5 277.5L400.5 275.5v1L389.5 278.5zM399.5 275.5L410.5 270.5v1L399.5 276.5zM409.5 270.5L420.5 262.5v1L409.5 271.5zM419.5 262.5h1L430.5 283.5h-1zM429.5 282.5L440.5 278.5v1L429.5 283.5zM439.5 278.5L450.5 283.5v1L439.5 279.5zM449.5 283.5L460.5 284.5v1L449.5 284.5zM459.5 284.5L470.5 290.5v1L459.5 285.5zM479.5 269.5h1L470.5 291.5h-1zM479.5 269.5L490.5 260.5v1L479.5 270.5zM499.5 249.5h1L490.5 261.5h-1zM499.5 249.5h1L510.5 261.5h-1zM509.5 260.5L520.5 254.5v1L509.5 261.5zM519.5 254.5L530.5 262.5v1L519.5 255.5zM529.5 262.5L540.5 255.5v1L529.5 263.5zM539.5 255.5L550.5 259.5v1L539.5 256.5zM549.5 259.5L560.5 254.5v1L549.5 260.5zM559.5 254.5L570.5 250.5v1L559.5 255.5zM569.5 250.5L580.5 257.5v1L569.5 251.5zM579.5 257.5h1L590.5 272.5h-1zM589.5 271.5h11v1h-11zM599.5 271.5L610.5 279.5v1L599.5 272.5zM609.5 279.5L620.5 273.5v1L609.5 280.5zM619.5 273.5h1L630.5 298.5h-1zM629.5 297.5L640.5 302.5v1L629.5 298.5zM639.5 302.5h1L650.5 321.5h-1zM649.5 320.5L660.5 317.5v1L649.5 321.5zM659.5 317.5L670.5 323.5v1L659.5 318.5zM669.5 323.5L680.5 315.5v1L669.5 324.5zM679.5 315.5L690.5 307.5v1L679.5 316.5zM48.5 232.5h3v1h-3zM49.5 231.5h1v3h-1zM58.5 231.5h3v1h-3zM59.5 230.5h1v3h-1zM68.5 241.5h3v1h-3zM69.5 240.5h1v3h-1zM78.5 233.5h3v1h-3zM79.5 232.5h1v3h-1zM88.5 243.5h3v1h-3zM89.5 242.5h1v3h-1zM98.5 239.5h3v1h-3zM99.5 238.5h1v3h-1zM108.5 259.5h3v1h-3zM109.5 258.5h1v3h-1zM118.5 253.5h3v1h-3zM119.5 252.5h1v3h-1zM128.5 265.5h3v1h-3zM129.5 264.5h1v3h-1zM138.5 275.5h3v1h-3zM139.5 274.5h1v3h-1zM148.5 288.5h3v1h-3zM149.5 287.5h1v3h-1zM158.5 281.5h3v1h-3zM159.5 280.5h1v3h-1zM168.5 283.5h3v1h-3zM169.5 282.5h1v3h-1zM178.5 284.5h3v1h-3zM179.5 283.5h1v3h-1zM188.5 289.5h3v1h-3zM189.5 288.5h1v3h-1zM198.5 278.5h3v1h-3zM199.5 277.5h1v3h-1zM208.5 275.5h3v1h-3zM209.5 274.5h1v3h-1zM218.5 267.5h3v1h-3zM219.5 266.5h1v3h-1zM228.5 272.5h3v1h-3zM229.5 271.5h1v3h-1zM238.5 263.5h3v1h-3zM239.5 262.5h1v3h-1zM248.5 261.5h3v1h-3zM249.5 260.5h1v3h-1zM258.5 249.5h3v1h-3zM259.5 248.5h1v3h-1zM268.5 259.5h3v1h-3zM269.5 258.5h1v3h-1zM278.5 258.5h3v1h-3zM279.5 257.5h1v3h-1zM288.5 272.5h3v1h-3zM289.5 271.5h1v3h-1zM298.5 273.5h3v1h-3zM299.5 272.5h1v3h-1zM308.5 294.5h3v1h-3zM309.5 293.5h1v3h-1zM318.5 286.5h3v1h-3zM319.5 285.5h1v3h-1zM328.5 281.5h3v1h-3zM329.5 280.5h1v3h-1zM338.5 287.5h3v1h-3zM339.5 286.5h1v3h-1zM348.5 290.5h3v1h-3zM349.5 289.5h1v3h-1zM358.5 277.5h3v1h-3zM359.5 276.5h1v3h-1zM368.5 279.5h3v1h-3zM369.5 278.5h1v3h-1zM378.5 275.5h3v1h-3zM379.5 274.5h1v3h-1zM388.5 277.5h3v1h-3zM389.5 276.5h1v3h-1zM398.5 275.5h3v1h-3zM399.5 274.5h1v3h-1zM408.5 270.5h3v1h-3zM409.5 269.5h1v3h-1zM418.5 262.5h3v1h-3zM419.5 261.5h1v3h-1zM428.5 282.5h3v1h-3zM429.5 281.5h1v3h-1zM438.5 278.5h3v1h-3zM439.5 277.5h1v3h-1zM448.5 283.5h3v1h-3zM449.5 282.5h1v3h-1zM458.5 284.5h3v1h-3zM459.5 283.5h1v3h-1zM468.5 290.5h3v1h-3zM469.5 289.5h1v3h-1zM478.5 269.5h3v1h-3zM479.5 268.5h1v3h-1zM488.5 260.5h3v1h-3zM489.5 259.5h1v3h-1zM498.5 249.5h3v1h-3zM499.5 248.5h1v3h-1zM508.5 260.5h3v1h-3zM509.5 259.5h1v3h-1zM518.5 254.5h3v1h-3zM519.5 253.5h1v3h-1zM528.5 262.5h3v1h-3zM529.5 261.5h1v3h-1zM538.5 255.5h3v1h-3zM539.5 254.5h1v3h-1zM548.5 259.5h3v1h-3zM549.5 258.5h1v3h-1zM558.5 254.5h3v1h-3zM559.5 253.5h1v3h-1zM568.5 250.5h3v1h-3zM569.5 249.5h1v3h-1zM578.5 257.5h3v1h-3zM579.5 256.5h1v3h-1zM588.5 271.5h3v1h-3zM589.5 270.5h1v3h-1zM598.5 271.5h3v1h-3zM599.5 270.5h1v3h-1zM608.5 279.5h3v1h-3zM609.5 278.5h1v3h-1zM618.5 273.5h3v1h-3zM619.5 272.5h1v3h-1zM628.5 297.5h3v1h-3zM629.5 296.5h1v3h-1zM638.5 302.5h3v1h-3zM639.5 301.5h1v3h-1zM648.5 320.5h3v1h-3zM649.5 319.5h1v3h-1zM658.5 317.5h3v1h-3zM659.5 316.5h1v3h-1zM668.5 323.5h3v1h-3zM669.5 322.5h1v3h-1zM678.5 315.5h3v1h-3zM679.5 314.5h1v3h-1zM688.5 307.5h3v1h-3zM689.5 306.5h1v3h-1z" fill="#E070F0"/>
<path d="M49.5 232.5h11v1h-11zM59.5 232.5h1L70.5 246.5h-1zM69.5 245.5L80.5 236.5v1L69.5 246.5zM79.5 236.5L90.5 246.5v1L79.5 237.5zM89.5 246.5L100.5 245.5v1L89.5 247.5zM99.5 245.5h1L110.5 272.5h-1zM109.5 271.5L120.5 268.5v1L109.5 272.5zM119.5 268.5h1L130.5 283.5h-1zM129.5 282.5L140.5 290.5v1L129.5 283.5zM139.5 290.5h1L150.5 306.5h-1zM149.5 305.5L160.5 295.5v1L149.5 306.5zM159.5 295.5L170.5 302.5v1L159.5 296.5zM169.5 302.5L180.5 300.5v1L169.5 303.5zM179.5 300.5h1L190.5 313.5h-1zM199.5 298.5h1L190.5 313.5h-1zM199.5 298.5L210.5 301.5v1L199.5 299.5zM209.5 301.5L220.5 299.5v1L209.5 302.5zM219.5 299.5h1L230.5 326.5h-1zM229.5 325.5L240.5 317.5v1L229.5 326.5zM239.5 317.5h1L250.5 329.5h-1zM249.5 328.5L260.5 331.5v1L249.5 329.5zM259.5 331.5h1L270.5 355.5h-1zM269.5 354.5L280.5 349.5v1L269.5 355.5zM279.5 349.5L290.5 339.5v1L279.5 350.5zM289.5 339.5L300.5 335.5v1L289.5 340.5zM299.5 335.5L310.5 338.5v1L299.5 336.5zM319.5 312.5h1L310.5 339.5h-1zM329.5 291.5h1L320.5 313.5h-1zM339.5 274.5h1L330.5 292.5h-1zM339.5 274.5L350.5 271.5v1L339.5 275.5zM359.5 248.5h1L350.5 272.5h-1zM359.5 248.5L370.5 246.5v1L359.5 249.5zM379.5 233.5h1L370.5 247.5h-1zM379.5 233.5L390.5 237.5v1L379.5 234.5zM389.5 237.5L400.5 233.5v1L389.5 238.5zM399.5 233.5L410.5 238.5v1L399.5 234.5zM409.5 238.5L420.5 231.5v1L409.5 239.5zM419.5 231.5L430.5 239.5v1L419.5 232.5zM439.5 222.5h1L430.5 240.5h-1zM439.5 222.5L450.5 221.5v1L439.5 223.5zM449.5 221.5L460.5 213.5v1L449.5 222.5zM459.5 213.5L470.5 222.5v1L459.5 214.5zM469.5 222.5L480.5 216.5v1L469.5 223.5zM479.5 216.5L490.5 222.5v1L479.5 217.5zM489.5 222.5L500.5 221.5v1L489.5 223.5zM499.5 221.5h1L510.5 241.5h-1zM509.5 240.5L520.5 230.5v1L509.5 241.5zM519.5 230.5L530.5 237.5v1L519.5 231.5zM529.5 237.5L540.5 232.5v1L529.5 238.5zM539.5 232.5L550.5 242.5v1L539.5 233.5zM549.5 242.5L560.5 236.5v1L549.5 243.5zM559.5 236.5L570.5 239.5v1L559.5 237.5zM569.5 239.5h11v1h-11zM579.5 239.5L590.5 245.5v1L579.5 240.5zM589.5 245.5L600.5 241.5v1L589.5 246.5zM599.5 241.5L610.5 248.5v1L599.5 242.5zM609.5 248.5L620.5 250.5v1L609.5 249.5zM619.5 250.5L630.5 245.5v1L619.5 251.5zM629.5 245.5L640.5 252.5v1L629.5 246.5zM639.5 252.5L650.5 253.5v1L639.5 253.5zM649.5 253.5h1L660.5 267.5h-1zM659.5 266.5h1L670.5 282.5h-1zM669.5 281.5L680.5 278.5v1L669.5 282.5zM679.5 278.5h11v1h-11zM48.5 232.5h3v1h-3zM49.5 231.5h1v3h-1zM58.5 232.5h3v1h-3zM59.5 231.5h1v3h-1zM68.5 245.5h3v1h-3zM69.5 244.5h1v3h-1zM78.5 236.5h3v1h-3zM79.5 235.5h1v3h-1zM88.5 246.5h3v1h-3zM89.5 245.5h1v3h-1zM98.5 245.5h3v1h-3zM99.5 244.5h1v3h-1zM108.5 271.5h3v1h-3zM109.5 270.5h1v3h-1zM118.5 268.5h3v1h-3zM119.5 267.5h1v3h-1zM128.5 282.5h3v1h-3zM129.5 281.5h1v3h-1zM138.5 290.5h3v1h-3zM139.5 289.5h1v3h-1zM148.5 305.5h3v1h-3zM149.5 304.5h1v3h-1zM158.5 295.5h3v1h-3zM159.5 294.5h1v3h-1zM168.5 302.5h3v1h-3zM169.5 301.5h1v3h-1zM178.5 300.5h3v1h-3zM179.5 299.5h1v3h-1zM188.5 312.5h3v1h-3zM189.5 311.5h1v3h-1zM198.5 298.5h3v1h-3zM199.5 297.5h1v3h-1zM208.5 301.5h3v1h-3zM209.5 300.5h1v3h-1zM218.5 299.5h3v1h-3zM219.5 298.5h1v3h-1zM228.5 325.5h3v1h-3zM229.5 324.5h1v3h-1zM238.5 317.5h3v1h-3zM239.5 316.5h1v3h-1zM248.5 328.5h3v1h-3zM249.5 327.5h1v3h-1zM258.5 331.5h3v1h-3zM259.5 330.5h1v3h-1zM268.5 354.5h3v1h-3zM269.5 353.5h1v3h-1zM278.5 349.5h3v1h-3zM279.5 348.5h1v3h-1zM288.5 339.5h3v1h-3zM289.5 338.5h1v3h-1zM298.5 335.5h3v1h-3zM299.5 334.5h1v3h-1zM308.5 338.5h3v1h-3zM309.5 337.5h1v3h-1zM318.5 312.5h3v1h-3zM319.5 311.5h1v3h-1zM328.5 291.5h3v1h-3zM329.5 290.5h1v3h-1zM338.5 274.5h3v1h-3zM339.5 273.5h1v3h-1zM348.5 271.5h3v1h-3zM349.5 270.5h1v3h-1zM358.5 248.5h3v1h-3zM359.5 247.5h1v3h-1zM368.5 246.5h3v1h-3zM369.5 245.5h1v3h-1zM378.5 233.5h3v1h-3zM379.5 232.5h1v3h-1zM388.5 237.5h3v1h-3zM389.5 236.5h1v3h-1zM398.5 233.5h3v1h-3zM399.5 232.5h1v3h-1zM408.5 238.5h3v1h-3zM409.5 237.5h1v3h-1zM418.5 231.5h3v1h-3zM419.5 230.5h1v3h-1zM428.5 239.5h3v1h-3zM429.5 238.5h1v3h-1zM438.5 222.5h3v1h-3zM439.5 221.5h1v3h-1zM448.5 221.5h3v1h-3zM449.5 220.5h1v3h-1zM458.5 213.5h3v1h-3zM459.5 212.5h1v3h-1zM468.5 222.5h3v1h-3zM469.5 221.5h1v3h-1zM478.5 216.5h3v1h-3zM479.5 215.5h1v3h-1zM488.5 222.5h3v1h-3zM489.5 221.5h1v3h-1zM498.5 221.5h3v1h-3zM499.5 220.5h1v3h-1zM508.5 240.5h3v1h-3zM509.5 239.5h1v3h-1zM518.5 230.5h3v1h-3zM519.5 229.5h1v3h-1zM528.5 237.5h3v1h-3zM529.5 236.5h1v3h-1zM538.5 232.5h3v1h-3zM539.5 231.5h1v3h-1zM548.5 242.5h3v1h-3zM549.5 241.5h1v3h-1zM558.5 236.5h3v1h-3zM559.5 235.5h1v3h-1zM568.5 239.5h3v1h-3zM569.5 238.5h1v3h-1zM578.5 239.5h3v1h-3zM579.5 238.5h1v3h-1zM588.5 245.5h3v1h-3zM589.5 244.5h1v3h-1zM598.5 241.5h3v1h-3zM599.5 240.5h1v3h-1zM608.5 248.5h3v1h-3zM609.5 247.5h1v3h-1zM618.5 250.5h3v1h-3zM619.5 249.5h1v3h-1zM628.5 245.5h3v1h-3zM629.5 244.5h1v3h-1zM638.5 252.5h3v1h-3zM639.5 251.5h1v3h-1zM648.5 253.5h3v1h-3zM649.5 252.5h1v3h-1zM658.5 266.5h3v1h-3zM659.5 265.5h1v3h-1zM668.5 281.5h3v1h-3zM669.5 280.5h1v3h-1zM678.5 278.5h3v1h-3zM679.5 277.5h1v3h-1zM688.5 278.5h3v1h-3zM689.5 277.5h1v3h-1z" fill="#8020F0"/>
<path d="M49.5 234.5h11v1h-11zM59.5 234.5h1L70.5 246.5h-1zM69.5 245.5L80.5 236.5v1L69.5 246.5zM79.5 236.5L90.5 244.5v1L79.5 237.5zM89.5 244.5L100.5 240.5v1L89.5 245.5zM99.5 240.5h1L110.5 263.5h-1zM109.5 262.5L120.5 255.5v1L109.5 263.5zM119.5 255.5h1L130.5 272.5h-1zM129.5 271.5L140.5 279.5v1L129.5 272.5zM139.5 279.5h1L150.5 297.5h-1zM149.5 296.5L160.5 288.5v1L149.5 297.5zM159.5 288.5L170.5 290.5v1L159.5 289.5zM169.5 290.5L180.5 282.5v1L169.5 291.5zM179.5 282.5L190.5 287.5v1L179.5 283.5zM199.5 271.5h1L190.5 288.5h-1zM199.5 271.5h11v1h-11zM209.5 271.5L220.5 269.5v1L209.5 272.5zM219.5 269.5L230.5 270.5v1L219.5 270.5zM239.5 254.5h1L230.5 271.5h-1zM239.5 254.5L250.5 261.5v1L239.5 255.5zM249.5 261.5L260.5 257.5v1L249.5 262.5zM259.5 257.5h1L270.5 277.5h-1zM279.5 265.5h1L270.5 277.5h-1zM279.5 265.5h1L290.5 285.5h-1zM289.5 284.5L300.5 281.5v1L289.5 285.5zM299.5 281.5L310.5 290.5v1L299.5 282.5zM319.5 275.5h1L310.5 291.5h-1zM319.5 275.5L330.5 265.5v1L319.5 276.5zM329.5 265.5L340.5 263.5v1L329.5 266.5zM339.5 263.5L350.5 260.5v1L339.5 264.5zM359.5 245.5h1L350.5 261.5h-1zM359.5 245.5L370.5 241.5v1L359.5 246.5zM379.5 227.5h1L370.5 242.5h-1zM379.5 227.5L390.5 235.5v1L379.5 228.5zM399.5 218.5h1L390.5 236.5h-1zM399.5 218.5L410.5 221.5v1L399.5 219.5zM409.5 221.5L420.5 225.5v1L409.5 222.5zM419.5 225.5L430.5 231.5v1L419.5 226.5zM429.5 231.5L440.5 221.5v1L429.5 232.5zM439.5 221.5h1L450.5 239.5h-1zM449.5 238.5L460.5 234.5v1L449.5 239.5zM459.5 234.5h1L470.5 247.5h-1zM479.5 233.5h1L470.5 247.5h-1zM479.5 233.5L490.5 236.5v1L479.5 234.5zM489.5 236.5L500.5 235.5v1L489.5 237.5zM499.5 235.5h1L510.5 252.5h-1zM509.5 251.5L520.5 244.5v1L509.5 252.5zM519.5 244.5L530.5 253.5v1L519.5 245.5zM529.5 253.5L540.5 260.5v1L529.5 254.5zM539.5 260.5L550.5 269.5v1L539.5 261.5zM559.5 258.5h1L550.5 270.5h-1zM559.5 258.5h21v1h-21zM579.5 258.5h1L590.5 272.5h-1zM599.5 245.5h1L590.5 272.5h-1zM599.5 245.5h1L610.5 260.5h-1zM609.5 259.5L620.5 255.5v1L609.5 260.5zM619.5 255.5h1L630.5 275.5h-1zM629.5 274.5L640.5 269.5v1L629.5 275.5zM639.5 269.5h1L650.5 289.5h-1zM649.5 288.5h1L660.5 305.5h-1zM659.5 304.5L670.5 301.5v1L659.5 305.5zM669.5 301.5L680.5 297.5v1L669.5 302.5zM679.5 297.5L690.5 302.5v1L679.5 298.5zM48.5 234.5h3v1h-3zM49.5 233.5h1v3h-1zM58.5 234.5h3v1h-3zM59.5 233.5h1v3h-1zM68.5 245.5h3v1h-3zM69.5 244.5h1v3h-1zM78.5 236.5h3v1h-3zM79.5 235.5h1v3h-1zM88.5 244.5h3v1h-3zM89.5 243.5h1v3h-1zM98.5 240.5h3v1h-3zM99.5 239.5h1v3h-1zM108.5 262.5h3v1h-3zM109.5 261.5h1v3h-1zM118.5 255.5h3v1h-3zM119.5 254.5h1v3h-1zM128.5 271.5h3v1h-3zM129.5 270.5h1v3h-1zM138.5 279.5h3v1h-3zM139.5 278.5h1v3h-1zM148.5 296.5h3v1h-3zM149.5 295.5h1v3h-1zM158.5 288.5h3v1h-3zM159.5 287.5h1v3h-1zM168.5 290.5h3v1h-3zM169.5 289.5h1v3h-1zM178.5 282.5h3v1h-3zM179.5 281.5h1v3h-1zM188.5 287.5h3v1h-3zM189.5 286.5h1v3h-1zM198.5 271.5h3v1h-3zM199.5 270.5h1v3h-1zM208.5 271.5h3v1h-3zM209.5 270.5h1v3h-1zM218.5 269.5h3v1h-3zM219.5 268.5h1v3h-1zM228.5 270.5h3v1h-3zM229.5 269.5h1v3h-1zM238.5 254.5h3v1h-3zM239.5 253.5h1v3h-1zM248.5 261.5h3v1h-3zM249.5 260.5h1v3h-1zM258.5 257.5h3v1h-3zM259.5 256.5h1v3h-1zM268.5 276.5h3v1h-3zM269.5 275.5h1v3h-1zM278.5 265.5h3v1h-3zM279.5 264.5h1v3h-1zM288.5 284.5h3v1h-3zM289.5 283.5h1v3h-1zM298.5 281.5h3v1h-3zM299.5 280.5h1v3h-1zM308.5 290.5h3v1h-3zM309.5 289.5h1v3h-1zM318.5 275.5h3v1h-3zM319.5 274.5h1v3h-1zM328.5 265.5h3v1h-3zM329.5 264.5h1v3h-1zM338.5 263.5h3v1h-3zM339.5 262.5h1v3h-1zM348.5 260.5h3v1h-3zM349.5 259.5h1v3h-1zM358.5 245.5h3v1h-3zM359.5 244.5h1v3h-1zM368.5 241.5h3v1h-3zM369.5 240.5h1v3h-1zM378.5 227.5h3v1h-3zM379.5 226.5h1v3h-1zM388.5 235.5h3v1h-3zM389.5 234.5h1v3h-1zM398.5 218.5h3v1h-3zM399.5 217.5h1v3h-1zM408.5 221.5h3v1h-3zM409.5 220.5h1v3h-1zM418.5 225.5h3v1h-3zM419.5 224.5h1v3h-1zM428.5 231.5h3v1h-3zM429.5 230.5h1v3h-1zM438.5 221.5h3v1h-3zM439.5 220.5h1v3h-1zM448.5 238.5h3v1h-3zM449.5 237.5h1v3h-1zM458.5 234.5h3v1h-3zM459.5 233.5h1v3h-1zM468.5 246.5h3v1h-3zM469.5 245.5h1v3h-1zM478.5 233.5h3v1h-3zM479.5 232.5h1v3h-1zM488.5 236.5h3v1h-3zM489.5 235.5h1v3h-1zM498.5 235.5h3v1h-3zM499.5 234.5h1v3h-1zM508.5 251.5h3v1h-3zM509.5 250.5h1v3h-1zM518.5 244.5h3v1h-3zM519.5 243.5h1v3h-1zM528.5 253.5h3v1h-3zM529.5 252.5h1v3h-1zM538.5 260.5h3v1h-3zM539.5 259.5h1v3h-1zM548.5 269.5h3v1h-3zM549.5 268.5h1v3h-1zM558.5 258.5h3v1h-3zM559.5 257.5h1v3h-1zM568.5 258.5h3v1h-3zM569.5 257.5h1v3h-1zM578.5 258.5h3v1h-3zM579.5 257.5h1v3h-1zM588.5 271.5h3v1h-3zM589.5 270.5h1v3h-1zM598.5 245.5h3v1h-3zM599.5 244.5h1v3h-1zM608.5 259.5h3v1h-3zM609.5 258.5h1v3h-1zM618.5 255.5h3v1h-3zM619.5 254.5h1v3h-1zM628.5 274.5h3v1h-3zM629.5 273.5h1v3h-1zM638.5 269.5h3v1h-3zM639.5 268.5h1v3h-1zM648.5 288.5h3v1h-3zM649.5 287.5h1v3h-1zM658.5 304.5h3v1h-3zM659.5 303.5h1v3h-1zM668.5 301.5h3v1h-3zM669.5 300.5h1v3h-1zM678.5 297.5h3v1h-3zM679.5 296.5h1v3h-1zM688.5 302.5h3v1h-3zM689.5 301.5h1v3h-1z" fill="#806030"/>
<path d="M49.5 234.5h11v1h-11zM59.5 234.5h1L70.5 250.5h-1zM69.5 249.5L80.5 242.5v1L69.5 250.5zM79.5 242.5L90.5 246.5v1L79.5 243.5zM89.5 246.5L100.5 245.5v1L89.5 247.5zM99.5 245.5h1L110.5 271.5h-1zM109.5 270.5L120.5 267.5v1L109.5 271.5zM119.5 267.5h1L130.5 283.5h-1zM129.5 282.5L140.5 290.5v1L129.5 283.5zM139.5 290.5h1L150.5 310.5h-1zM159.5 295.5h1L150.5 310.5h-1zM159.5 295.5L170.5 301.5v1L159.5 296.5zM169.5 301.5L180.5 300.5v1L169.5 302.5zM179.5 300.5h1L190.5 313.5h-1zM199.5 294.5h1L190.5 313.5h-1zM199.5 294.5L210.5 295.5v1L199.5 295.5zM209.5 295.5L220.5 287.5v1L209.5 296.5zM219.5 287.5h1L230.5 299.5h-1zM239.5 287.5h1L230.5 299.5h-1zM239.5 287.5L250.5 294.5v1L239.5 288.5zM249.5 294.5L260.5 296.5v1L249.5 295.5zM259.5 296.5h1L270.5 324.5h-1zM269.5 323.5L280.5 322.5v1L269.5 324.5zM279.5 322.5L290.5 330.5v1L279.5 323.5zM289.5 330.5L300.5 333.5v1L289.5 331.5zM299.5 333.5h1L310.5 352.5h-1zM319.5 329.5h1L310.5 352.5h-1zM319.5 329.5L330.5 327.5v1L319.5 330.5zM339.5 309.5h1L330.5 328.5h-1zM339.5 309.5L350.5 311.5v1L339.5 310.5zM359.5 293.5h1L350.5 312.5h-1zM359.5 293.5L370.5 290.5v1L359.5 294.5zM369.5 290.5h11v1h-11zM379.5 290.5h1L390.5 310.5h-1zM389.5 309.5L400.5 307.5v1L389.5 310.5zM399.5 307.5h1L410.5 319.5h-1zM409.5 318.5L420.5 312.5v1L409.5 319.5zM419.5 312.5L430.5 317.5v1L419.5 313.5zM439.5 301.5h1L430.5 318.5h-1zM439.5 301.5L450.5 306.5v1L439.5 302.5zM449.5 306.5L460.5 305.5v1L449.5 307.5zM459.5 305.5L470.5 307.5v1L459.5 306.5zM469.5 307.5L480.5 298.5v1L469.5 308.5zM479.5 298.5h1L490.5 314.5h-1zM489.5 313.5L500.5 304.5v1L489.5 314.5zM499.5 304.5L510.5 302.5v1L499.5 305.5zM509.5 302.5L520.5 295.5v1L509.5 303.5zM519.5 295.5L530.5 300.5v1L519.5 296.5zM529.5 300.5L540.5 298.5v1L529.5 301.5zM539.5 298.5L550.5 305.5v1L539.5 299.5zM549.5 305.5L560.5 297.5v1L549.5 306.5zM559.5 297.5L570.5 305.5v1L559.5 298.5zM569.5 305.5L580.5 302.5v1L569.5 306.5zM579.5 302.5h1L590.5 318.5h-1zM589.5 317.5L600.5 314.5v1L589.5 318.5zM599.5 314.5h1L610.5 333.5h-1zM609.5 332.5L620.5 331.5v1L609.5 333.5zM619.5 331.5L630.5 338.5v1L619.5 332.5zM639.5 324.5h1L630.5 339.5h-1zM639.5 324.5L650.5 325.5v1L639.5 325.5zM649.5 325.5L660.5 321.5v1L649.5 326.5zM659.5 321.5h1L670.5 333.5h-1zM679.5 321.5h1L670.5 333.5h-1zM679.5 321.5L690.5 326.5v1L679.5 322.5zM48.5 234.5h3v1h-3zM49.5 233.5h1v3h-1zM58.5 234.5h3v1h-3zM59.5 233.5h1v3h-1zM68.5 249.5h3v1h-3zM69.5 248.5h1v3h-1zM78.5 242.5h3v1h-3zM79.5 241.5h1v3h-1zM88.5 246.5h3v1h-3zM89.5 245.5h1v3h-1zM98.5 245.5h3v1h-3zM99.5 244.5h1v3h-1zM108.5 270.5h3v1h-3zM109.5 269.5h1v3h-1zM118.5 267.5h3v1h-3zM119.5 266.5h1v3h-1zM128.5 282.5h3v1h-3zM129.5 281.5h1v3h-1zM138.5 290.5h3v1h-3zM139.5 289.5h1v3h-1zM148.5 309.5h3v1h-3zM149.5 308.5h1v3h-1zM158.5 295.5h3v1h-3zM159.5 294.5h1v3h-1zM168.5 301.5h3v1h-3zM169.5 300.5h1v3h-1zM178.5 300.5h3v1h-3zM179.5 299.5h1v3h-1zM188.5 312.5h3v1h-3zM189.5 311.5h1v3h-1zM198.5 294.5h3v1h-3zM199.5 293.5h1v3h-1zM208.5 295.5h3v1h-3zM209.5 294.5h1v3h-1zM218.5 287.5h3v1h-3zM219.5 286.5h1v3h-1zM228.5 298.5h3v1h-3zM229.5 297.5h1v3h-1zM238.5 287.5h3v1h-3zM239.5 286.5h1v3h-1zM248.5 294.5h3v1h-3zM249.5 293.5h1v3h-1zM258.5 296.5h3v1h-3zM259.5 295.5h1v3h-1zM268.5 323.5h3v1h-3zM269.5 322.5h1v3h-1zM278.5 322.5h3v1h-3zM279.5 321.5h1v3h-1zM288.5 330.5h3v1h-3zM289.5 329.5h1v3h-1zM298.5 333.5h3v1h-3zM299.5 332.5h1v3h-1zM308.5 351.5h3v1h-3zM309.5 350.5h1v3h-1zM318.5 329.5h3v1h-3zM319.5 328.5h1v3h-1zM328.5 327.5h3v1h-3zM329.5 326.5h1v3h-1zM338.5 309.5h3v1h-3zM339.5 308.5h1v3h-1zM348.5 311.5h3v1h-3zM349.5 310.5h1v3h-1zM358.5 293.5h3v1h-3zM359.5 292.5h1v3h-1zM368.5 290.5h3v1h-3zM369.5 289.5h1v3h-1zM378.5 290.5h3v1h-3zM379.5 289.5h1v3h-1zM388.5 309.5h3v1h-3zM389.5 308.5h1v3h-1zM398.5 307.5h3v1h-3zM399.5 306.5h1v3h-1zM408.5 318.5h3v1h-3zM409.5 317.5h1v3h-1zM418.5 312.5h3v1h-3zM419.5 311.5h1v3h-1zM428.5 317.5h3v1h-3zM429.5 316.5h1v3h-1zM438.5 301.5h3v1h-3zM439.5 300.5h1v3h-1zM448.5 306.5h3v1h-3zM449.5 305.5h1v3h-1zM458.5 305.5h3v1h-3zM459.5 304.5h1v3h-1zM468.5 307.5h3v1h-3zM469.5 306.5h1v3h-1zM478.5 298.5h3v1h-3zM479.5 297.5h1v3h-1zM488.5 313.5h3v1h-3zM489.5 312.5h1v3h-1zM498.5 304.5h3v1h-3zM499.5 303.5h1v3h-1zM508.5 302.5h3v1h-3zM509.5 301.5h1v3h-1zM518.5 295.5h3v1h-3zM519.5 294.5h1v3h-1zM528.5 300.5h3v1h-3zM529.5 299.5h1v3h-1zM538.5 298.5h3v1h-3zM539.5 297.5h1v3h-1zM548.5 305.5h3v1h-3zM549.5 304.5h1v3h-1zM558.5 297.5h3v1h-3zM559.5 296.5h1v3h-1zM568.5 305.5h3v1h-3zM569.5 304.5h1v3h-1zM578.5 302.5h3v1h-3zM579.5 301.5h1v3h-1zM588.5 317.5h3v1h-3zM589.5 316.5h1v3h-1zM598.5 314.5h3v1h-3zM599.5 313.5h1v3h-1zM608.5 332.5h3v1h-3zM609.5 331.5h1v3h-1zM618.5 331.5h3v1h-3zM619.5 330.5h1v3h-1zM628.5 338.5h3v1h-3zM629.5 337.5h1v3h-1zM638.5 324.5h3v1h-3zM639.5 323.5h1v3h-1zM648.5 325.5h3v1h-3zM649.5 324.5h1v3h-1zM658.5 321.5h3v1h-3zM659.5 320.5h1v3h-1zM668.5 332.5h3v1h-3zM669.5 331.5h1v3h-1zM678.5 321.5h3v1h-3zM679.5 320.5h1v3h-1zM688.5 326.5h3v1h-3zM689.5 325.5h1v3h-1z" fill="#300870"/>
<path d="M49.5 233.5h11v1h-11zM59.5 233.5L70.5 243.5v1L59.5 234.5zM79.5 232.5h1L70.5 244.5h-1zM79.5 232.5L90.5 242.5v1L79.5 233.5zM89.5 242.5L100.5 241.5v1L89.5 243.5zM99.5 241.5h1L110.5 264.5h-1zM109.5 263.5L120.5 256.5v1L109.5 264.5zM119.5 256.5h1L130.5 270.5h-1zM129.5 269.5h1L140.5 282.5h-1zM139.5 281.5h1L150.5 297.5h-1zM149.5 296.5L160.5 288.5v1L149.5 297.5zM159.5 288.5L170.5 295.5v1L159.5 289.5zM169.5 295.5L180.5 294.5v1L169.5 296.5zM179.5 294.5h1L190.5 306.5h-1zM199.5 293.5h1L190.5 306.5h-1zM199.5 293.5L210.5 295.5v1L199.5 294.5zM209.5 295.5L220.5 285.5v1L209.5 296.5zM219.5 285.5L230.5 294.5v1L219.5 286.5zM229.5 294.5L240.5 290.5v1L229.5 295.5zM239.5 290.5L250.5 299.5v1L239.5 291.5zM249.5 299.5L260.5 296.5v1L249.5 300.5zM259.5 296.5h1L270.5 324.5h-1zM269.5 323.5L280.5 316.5v1L269.5 324.5zM279.5 316.5L290.5 326.5v1L279.5 317.5zM289.5 326.5h1L300.5 341.5h-1zM299.5 340.5h1L310.5 366.5h-1zM309.5 365.5L320.5 363.5v1L309.5 366.5zM319.5 363.5L330.5 354.5v1L319.5 364.5zM329.5 354.5L340.5 344.5v1L329.5 355.5zM349.5 333.5h1L340.5 345.5h-1zM359.5 310.5h1L350.5 334.5h-1zM359.5 310.5L370.5 303.5v1L359.5 311.5zM369.5 303.5L380.5 295.5v1L369.5 304.5zM379.5 295.5L390.5 299.5v1L379.5 296.5zM399.5 288.5h1L390.5 300.5h-1zM399.5 288.5L410.5 278.5v1L399.5 289.5zM409.5 278.5L420.5 288.5v1L409.5 279.5zM419.5 288.5L430.5 279.5v1L419.5 289.5zM429.5 279.5L440.5 275.5v1L429.5 280.5zM439.5 275.5L450.5 266.5v1L439.5 276.5zM449.5 266.5L460.5 274.5v1L449.5 267.5zM459.5 274.5L470.5 281.5v1L459.5 275.5zM479.5 266.5h1L470.5 282.5h-1zM479.5 266.5L490.5 269.5v1L479.5 267.5zM489.5 269.5L500.5 270.5v1L489.5 270.5zM499.5 270.5L510.5 276.5v1L499.5 271.5zM519.5 258.5h1L510.5 277.5h-1zM519.5 258.5L530.5 253.5v1L519.5 259.5zM529.5 253.5h1L540.5 266.5h-1zM539.5 265.5L550.5 271.5v1L539.5 266.5zM549.5 271.5L560.5 261.5v1L549.5 272.5zM559.5 261.5h11v1h-11zM569.5 261.5L580.5 260.5v1L569.5 262.5zM579.5 260.5L590.5 266.5v1L579.5 261.5zM589.5 266.5L600.5 265.5v1L589.5 267.5zM599.5 265.5h11v1h-11zM609.5 265.5h1L620.5 281.5h-1zM619.5 280.5L630.5 273.5v1L619.5 281.5zM629.5 273.5h1L640.5 286.5h-1zM649.5 268.5h1L640.5 286.5h-1zM649.5 268.5L660.5 265.5v1L649.5 269.5zM659.5 265.5h1L670.5 280.5h-1zM669.5 279.5L680.5 277.5v1L669.5 280.5zM679.5 277.5L690.5 275.5v1L679.5 278.5zM48.5 233.5h3v1h-3zM49.5 232.5h1v3h-1zM58.5 233.5h3v1h-3zM59.5 232.5h1v3h-1zM68.5 243.5h3v1h-3zM69.5 242.5h1v3h-1zM78.5 232.5h3v1h-3zM79.5 231.5h1v3h-1zM88.5 242.5h3v1h-3zM89.5 241.5h1v3h-1zM98.5 241.5h3v1h-3zM99.5 240.5h1v3h-1zM108.5 263.5h3v1h-3zM109.5 262.5h1v3h-1zM118.5 256.5h3v1h-3zM119.5 255.5h1v3h-1zM128.5 269.5h3v1h-3zM129.5 268.5h1v3h-1zM138.5 281.5h3v1h-3zM139.5 280.5h1v3h-1zM148.5 296.5h3v1h-3zM149.5 295.5h1v3h-1zM158.5 288.5h3v1h-3zM159.5 287.5h1v3h-1zM168.5 295.5h3v1h-3zM169.5 294.5h1v3h-1zM178.5 294.5h3v1h-3zM179.5 293.5h1v3h-1zM188.5 305.5h3v1h-3zM189.5 304.5h1v3h-1zM198.5 293.5h3v1h-3zM199.5 292.5h1v3h-1zM208.5 295.5h3v1h-3zM209.5 294.5h1v3h-1zM218.5 285.5h3v1h-3zM219.5 284.5h1v3h-1zM228.5 294.5h3v1h-3zM229.5 293.5h1v3h-1zM238.5 290.5h3v1h-3zM239.5 289.5h1v3h-1zM248.5 299.5h3v1h-3zM249.5 298.5h1v3h-1zM258.5 296.5h3v1h-3zM259.5 295.5h1v3h-1zM268.5 323.5h3v1h-3zM269.5 322.5h1v3h-1zM278.5 316.5h3v1h-3zM279.5 315.5h1v3h-1zM288.5 326.5h3v1h-3zM289.5 325.5h1v3h-1zM298.5 340.5h3v1h-3zM299.5 339.5h1v3h-1zM308.5 365.5h3v1h-3zM309.5 364.5h1v3h-1zM318.5 363.5h3v1h-3zM319.5 362.5h1v3h-1zM328.5 354.5h3v1h-3zM329.5 353.5h1v3h-1zM338.5 344.5h3v1h-3zM339.5 343.5h1v3h-1zM348.5 333.5h3v1h-3zM349.5 332.5h1v3h-1zM358.5 310.5h3v1h-3zM359.5 309.5h1v3h-1zM368.5 303.5h3v1h-3zM369.5 302.5h1v3h-1zM378.5 295.5h3v1h-3zM379.5 294.5h1v3h-1zM388.5 299.5h3v1h-3zM389.5 298.5h1v3h-1zM398.5 288.5h3v1h-3zM399.5 287.5h1v3h-1zM408.5 278.5h3v1h-3zM409.5 277.5h1v3h-1zM418.5 288.5h3v1h-3zM419.5 287.5h1v3h-1zM428.5 279.5h3v1h-3zM429.5 278.5h1v3h-1zM438.5 275.5h3v1h-3zM439.5 274.5h1v3h-1zM448.5 266.5h3v1h-3zM449.5 265.5h1v3h-1zM458.5 274.5h3v1h-3zM459.5 273.5h1v3h-1zM468.5 281.5h3v1h-3zM469.5 280.5h1v3h-1zM478.5 266.5h3v1h-3zM479.5 265.5h1v3h-1zM488.5 269.5h3v1h-3zM489.5 268.5h1v3h-1zM498.5 270.5h3v1h-3zM499.5 269.5h1v3h-1zM508.5 276.5h3v1h-3zM509.5 275.5h1v3h-1zM518.5 258.5h3v1h-3zM519.5 257.5h1v3h-1zM528.5 253.5h3v1h-3zM529.5 252.5h1v3h-1zM538.5 265.5h3v1h-3zM539.5 264.5h1v3h-1zM548.5 271.5h3v1h-3zM549.5 270.5h1v3h-1zM558.5 261.5h3v1h-3zM559.5 260.5h1v3h-1zM568.5 261.5h3v1h-3zM569.5 260.5h1v3h-1zM578.5 260.5h3v1h-3zM579.5 259.5h1v3h-1zM588.5 266.5h3v1h-3zM589.5 265.5h1v3h-1zM598.5 265.5h3v1h-3zM599.5 264.5h1v3h-1zM608.5 265.5h3v1h-3zM609.5 264.5h1v3h-1zM618.5 280.5h3v1h-3zM619.5 279.5h1v3h-1zM628.5 273.5h3v1h-3zM629.5 272.5h1v3h-1zM638.5 285.5h3v1h-3zM639.5 284.5h1v3h-1zM648.5 268.5h3v1h-3zM649.5 267.5h1v3h-1zM658.5 265.5h3v1h-3zM659.5 264.5h1v3h-1zM668.5 279.5h3v1h-3zM669.5 278.5h1v3h-1zM678.5 277.5h3v1h-3zM679.5 276.5h1v3h-1zM688.5 275.5h3v1h-3zM689.5 274.5h1v3h-1z" fill="#F0D810"/>
<path d="M49.5 231.5L60.5 230.5v1L49.5 232.5zM59.5 230.5h1L70.5 243.5h-1zM79.5 231.5h1L70.5 243.5h-1zM79.5 231.5L90.5 240.5v1L79.5 232.5zM89.5 240.5L100.5 237.5v1L89.5 241.5zM99.5 237.5h1L110.5 260.5h-1zM109.5 259.5L120.5 251.5v1L109.5 260.5zM119.5 251.5h1L130.5 266.5h-1zM129.5 265.5L140.5 271.5v1L129.5 266.5zM139.5 271.5h1L150.5 286.5h-1zM159.5 274.5h1L150.5 286.5h-1zM159.5 274.5L170.5 283.5v1L159.5 275.5zM169.5 283.5L180.5 281.5v1L169.5 284.5zM179.5 281.5h11v1h-11zM199.5 270.5h1L190.5 282.5h-1zM199.5 270.5L210.5 277.5v1L199.5 271.5zM209.5 277.5L220.5 273.5v1L209.5 278.5zM219.5 273.5L230.5 279.5v1L219.5 274.5zM229.5 279.5L240.5 281.5v1L229.5 280.5zM239.5 281.5h11v1h-11zM249.5 281.5L260.5 287.5v1L249.5 282.5zM259.5 287.5h1L270.5 307.5h-1zM269.5 306.5L280.5 301.5v1L269.5 307.5zM279.5 301.5L290.5 298.5v1L279.5 302.5zM289.5 298.5L300.5 291.5v1L289.5 299.5zM299.5 291.5h1L310.5 312.5h-1zM319.5 296.5h1L310.5 312.5h-1zM329.5 282.5h1L320.5 297.5h-1zM329.5 282.5L340.5 272.5v1L329.5 283.5zM339.5 272.5h11v1h-11zM349.5 272.5L360.5 265.5v1L349.5 273.5zM359.5 265.5L370.5 255.5v1L359.5 266.5zM379.5 241.5h1L370.5 256.5h-1zM379.5 241.5L390.5 245.5v1L379.5 242.5zM399.5 232.5h1L390.5 246.5h-1zM399.5 232.5L410.5 234.5v1L399.5 233.5zM409.5 234.5L420.5 231.5v1L409.5 235.5zM419.5 231.5L430.5 240.5v1L419.5 232.5zM429.5 240.5L440.5 239.5v1L429.5 241.5zM439.5 239.5h1L450.5 251.5h-1zM449.5 250.5L460.5 249.5v1L449.5 251.5zM459.5 249.5L470.5 257.5v1L459.5 250.5zM469.5 257.5L480.5 248.5v1L469.5 258.5zM479.5 248.5L490.5 252.5v1L479.5 249.5zM499.5 239.5h1L490.5 253.5h-1zM499.5 239.5L510.5 241.5v1L499.5 240.5zM509.5 241.5L520.5 236.5v1L509.5 242.5zM519.5 236.5h1L530.5 249.5h-1zM539.5 233.5h1L530.5 249.5h-1zM539.5 233.5h1L550.5 247.5h-1zM549.5 246.5L560.5 249.5v1L549.5 247.5zM559.5 249.5h1L570.5 261.5h-1zM569.5 260.5L580.5 263.5v1L569.5 261.5zM579.5 263.5h1L590.5 275.5h-1zM589.5 274.5h1L600.5 286.5h-1zM599.5 285.5h1L610.5 307.5h-1zM609.5 306.5h1L620.5 318.5h-1zM619.5 317.5h1L630.5 346.5h-1zM629.5 345.5L640.5 348.5v1L629.5 346.5zM639.5 348.5L650.5 352.5v1L639.5 349.5zM649.5 352.5L660.5 354.5v1L649.5 353.5zM669.5 342.5h1L660.5 355.5h-1zM679.5 322.5h1L670.5 343.5h-1zM679.5 322.5L690.5 323.5v1L679.5 323.5zM48.5 231.5h3v1h-3zM49.5 230.5h1v3h-1zM58.5 230.5h3v1h-3zM59.5 229.5h1v3h-1zM68.5 242.5h3v1h-3zM69.5 241.5h1v3h-1zM78.5 231.5h3v1h-3zM79.5 230.5h1v3h-1zM88.5 240.5h3v1h-3zM89.5 239.5h1v3h-1zM98.5 237.5h3v1h-3zM99.5 236.5h1v3h-1zM108.5 259.5h3v1h-3zM109.5 258.5h1v3h-1zM118.5 251.5h3v1h-3zM119.5 250.5h1v3h-1zM128.5 265.5h3v1h-3zM129.5 264.5h1v3h-1zM138.5 271.5h3v1h-3zM139.5 270.5h1v3h-1zM148.5 285.5h3v1h-3zM149.5 284.5h1v3h-1zM158.5 274.5h3v1h-3zM159.5 273.5h1v3h-1zM168.5 283.5h3v1h-3zM169.5 282.5h1v3h-1zM178.5 281.5h3v1h-3zM179.5 280.5h1v3h-1zM188.5 281.5h3v1h-3zM189.5 280.5h1v3h-1zM198.5 270.5h3v1h-3zM199.5 269.5h1v3h-1zM208.5 277.5h3v1h-3zM209.5 276.5h1v3h-1zM218.5 273.5h3v1h-3zM219.5 272.5h1v3h-1zM228.5 279.5h3v1h-3zM229.5 278.5h1v3h-1zM238.5 281.5h3v1h-3zM239.5 280.5h1v3h-1zM248.5 281.5h3v1h-3zM249.5 280.5h1v3h-1zM258.5 287.5h3v1h-3zM259.5 286.5h1v3h-1zM268.5 306.5h3v1h-3zM269.5 305.5h1v3h-1zM278.5 301.5h3v1h-3zM279.5 300.5h1v3h-1zM288.5 298.5h3v1h-3zM289.5 297.5h1v3h-1zM298.5 291.5h3v1h-3zM299.5 290.5h1v3h-1zM308.5 311.5h3v1h-3zM309.5 310.5h1v3h-1zM318.5 296.5h3v1h-3zM319.5 295.5h1v3h-1zM328.5 282.5h3v1h-3zM329.5 281.5h1v3h-1zM338.5 272.5h3v1h-3zM339.5 271.5h1v3h-1zM348.5 272.5h3v1h-3zM349.5 271.5h1v3h-1zM358.5 265.5h3v1h-3zM359.5 264.5h1v3h-1zM368.5 255.5h3v1h-3zM369.5 254.5h1v3h-1zM378.5 241.5h3v1h-3zM379.5 240.5h1v3h-1zM388.5 245.5h3v1h-3zM389.5 244.5h1v3h-1zM398.5 232.5h3v1h-3zM399.5 231.5h1v3h-1zM408.5 234.5h3v1h-3zM409.5 233.5h1v3h-1zM418.5 231.5h3v1h-3zM419.5 230.5h1v3h-1zM428.5 240.5h3v1h-3zM429.5 239.5h1v3h-1zM438.5 239.5h3v1h-3zM439.5 238.5h1v3h-1zM448.5 250.5h3v1h-3zM449.5 249.5h1v3h-1zM458.5 249.5h3v1h-3zM459.5 248.5h1v3h-1zM468.5 257.5h3v1h-3zM469.5 256.5h1v3h-1zM478.5 248.5h3v1h-3zM479.5 247.5h1v3h-1zM488.5 252.5h3v1h-3zM489.5 251.5h1v3h-1zM498.5 239.5h3v1h-3zM499.5 238.5h1v3h-1zM508.5 241.5h3v1h-3zM509.5 240.5h1v3h-1zM518.5 236.5h3v1h-3zM519.5 235.5h1v3h-1zM528.5 248.5h3v1h-3zM529.5 247.5h1v3h-1zM538.5 233.5h3v1h-3zM539.5 232.5h1v3h-1zM548.5 246.5h3v1h-3zM549.5 245.5h1v3h-1zM558.5 249.5h3v1h-3zM559.5 248.5h1v3h-1zM568.5 260.5h3v1h-3zM569.5 259.5h1v3h-1zM578.5 263.5h3v1h-3zM579.5 262.5h1v3h-1zM588.5 274.5h3v1h-3zM589.5 273.5h1v3h-1zM598.5 285.5h3v1h-3zM599.5 284.5h1v3h-1zM608.5 306.5h3v1h-3zM609.5 305.5h1v3h-1zM618.5 317.5h3v1h-3zM619.5 316.5h1v3h-1zM628.5 345.5h3v1h-3zM629.5 344.5h1v3h-1zM638.5 348.5h3v1h-3zM639.5 347.5h1v3h-1zM648.5 352.5h3v1h-3zM649.5 351.5h1v3h-1zM658.5 354.5h3v1h-3zM659.5 353.5h1v3h-1zM668.5 342.5h3v1h-3zM669.5 341.5h1v3h-1zM678.5 322.5h3v1h-3zM679.5 321.5h1v3h-1zM688.5 323.5h3v1h-3zM689.5 322.5h1v3h-1z" fill="#2060A0"/>
<path d="M49.5 233.5L60.5 231.5v1L49.5 234.5zM59.5 231.5L70.5 241.5v1L59.5 232.5zM79.5 230.5h1L70.5 242.5h-1zM79.5 230.5L90.5 238.5v1L79.5 231.5zM89.5 238.5h11v1h-11zM99.5 238.5h1L110.5 261.5h-1zM109.5 260.5L120.5 254.5v1L109.5 261.5zM119.5 254.5h1L130.5 268.5h-1zM129.5 267.5L140.5 276.5v1L129.5 268.5zM139.5 276.5h1L150.5 289.5h-1zM149.5 288.5L160.5 279.5v1L149.5 289.5zM159.5 279.5h11v1h-11zM169.5 279.5L180.5 272.5v1L169.5 280.5zM179.5 272.5L190.5 271.5v1L179.5 273.5zM199.5 254.5h1L190.5 272.5h-1zM199.5 254.5L210.5 253.5v1L199.5 255.5zM209.5 253.5L220.5 254.5v1L209.5 254.5zM219.5 254.5L230.5 264.5v1L219.5 255.5zM229.5 264.5L240.5 255.5v1L229.5 265.5zM239.5 255.5L250.5 259.5v1L239.5 256.5zM249.5 259.5L260.5 269.5v1L249.5 260.5zM259.5 269.5h1L270.5 296.5h-1zM269.5 295.5L280.5 304.5v1L269.5 296.5zM279.5 304.5h1L290.5 317.5h-1zM289.5 316.5L300.5 324.5v1L289.5 317.5zM299.5 324.5L310.5 332.5v1L299.5 325.5zM309.5 332.5L320.5 325.5v1L309.5 333.5zM329.5 300.5h1L320.5 326.5h-1zM329.5 300.5L340.5 294.5v1L329.5 301.5zM339.5 294.5L350.5 291.5v1L339.5 295.5zM359.5 272.5h1L350.5 292.5h-1zM359.5 272.5L370.5 271.5v1L359.5 273.5zM369.5 271.5L380.5 263.5v1L369.5 272.5zM379.5 263.5L390.5 261.5v1L379.5 264.5zM399.5 243.5h1L390.5 262.5h-1zM399.5 243.5L410.5 237.5v1L399.5 244.5zM409.5 237.5L420.5 241.5v1L409.5 238.5zM419.5 241.5L430.5 249.5v1L419.5 242.5zM439.5 238.5h1L430.5 250.5h-1zM439.5 238.5L450.5 240.5v1L439.5 239.5zM459.5 228.5h1L450.5 241.5h-1zM459.5 228.5L470.5 233.5v1L459.5 229.5zM469.5 233.5L480.5 223.5v1L469.5 234.5zM479.5 223.5L490.5 228.5v1L479.5 224.5zM489.5 228.5L500.5 229.5v1L489.5 229.5zM499.5 229.5h1L510.5 242.5h-1zM519.5 216.5h1L510.5 242.5h-1zM519.5 216.5h11v1h-11zM529.5 216.5L540.5 212.5v1L529.5 217.5zM539.5 212.5h1L550.5 230.5h-1zM549.5 229.5L560.5 226.5v1L549.5 230.5zM559.5 226.5L570.5 233.5v1L559.5 227.5zM569.5 233.5L580.5 235.5v1L569.5 234.5zM579.5 235.5L590.5 241.5v1L579.5 236.5zM599.5 224.5h1L590.5 242.5h-1zM599.5 224.5L610.5 231.5v1L599.5 225.5zM609.5 231.5h11v1h-11zM619.5 231.5L630.5 237.5v1L619.5 232.5zM639.5 222.5h1L630.5 238.5h-1zM639.5 222.5L650.5 223.5v1L639.5 223.5zM649.5 223.5L660.5 216.5v1L649.5 224.5zM659.5 216.5L670.5 219.5v1L659.5 217.5zM669.5 219.5L680.5 212.5v1L669.5 220.5zM679.5 212.5h1L690.5 226.5h-1zM48.5 233.5h3v1h-3zM49.5 232.5h1v3h-1zM58.5 231.5h3v1h-3zM59.5 230.5h1v3h-1zM68.5 241.5h3v1h-3zM69.5 240.5h1v3h-1zM78.5 230.5h3v1h-3zM79.5 229.5h1v3h-1zM88.5 238.5h3v1h-3zM89.5 237.5h1v3h-1zM98.5 238.5h3v1h-3zM99.5 237.5h1v3h-1zM108.5 260.5h3v1h-3zM109.5 259.5h1v3h-1zM118.5 254.5h3v1h-3zM119.5 253.5h1v3h-1zM128.5 267.5h3v1h-3zM129.5 266.5h1v3h-1zM138.5 276.5h3v1h-3zM139.5 275.5h1v3h-1zM148.5 288.5h3v1h-3zM149.5 287.5h1v3h-1zM158.5 279.5h3v1h-3zM159.5 278.5h1v3h-1zM168.5 279.5h3v1h-3zM169.5 278.5h1v3h-1zM178.5 272.5h3v1h-3zM179.5 271.5h1v3h-1zM188.5 271.5h3v1h-3zM189.5 270.5h1v3h-1zM198.5 254.5h3v1h-3zM199.5 253.5h1v3h-1zM208.5 253.5h3v1h-3zM209.5 252.5h1v3h-1zM218.5 254.5h3v1h-3zM219.5 253.5h1v3h-1zM228.5 264.5h3v1h-3zM229.5 263.5h1v3h-1zM238.5 255.5h3v1h-3zM239.5 254.5h1v3h-1zM248.5 259.5h3v1h-3zM249.5 258.5h1v3h-1zM258.5 269.5h3v1h-3zM259.5 268.5h1v3h-1zM268.5 295.5h3v1h-3zM269.5 294.5h1v3h-1zM278.5 304.5h3v1h-3zM279.5 303.5h1v3h-1zM288.5 316.5h3v1h-3zM289.5 315.5h1v3h-1zM298.5 324.5h3v1h-3zM299.5 323.5h1v3h-1zM308.5 332.5h3v1h-3zM309.5 331.5h1v3h-1zM318.5 325.5h3v1h-3zM319.5 324.5h1v3h-1zM328.5 300.5h3v1h-3zM329.5 299.5h1v3h-1zM338.5 294.5h3v1h-3zM339.5 293.5h1v3h-1zM348.5 291.5h3v1h-3zM349.5 290.5h1v3h-1zM358.5 272.5h3v1h-3zM359.5 271.5h1v3h-1zM368.5 271.5h3v1h-3zM369.5 270.5h1v3h-1zM378.5 263.5h3v1h-3zM379.5 262.5h1v3h-1zM388.5 261.5h3v1h-3zM389.5 260.5h1v3h-1zM398.5 243.5h3v1h-3zM399.5 242.5h1v3h-1zM408.5 237.5h3v1h-3zM409.5 236.5h1v3h-1zM418.5 241.5h3v1h-3zM419.5 240.5h1v3h-1zM428.5 249.5h3v1h-3zM429.5 248.5h1v3h-1zM438.5 238.5h3v1h-3zM439.5 237.5h1v3h-1zM448.5 240.5h3v1h-3zM449.5 239.5h1v3h-1zM458.5 228.5h3v1h-3zM459.5 227.5h1v3h-1zM468.5 233.5h3v1h-3zM469.5 232.5h1v3h-1zM478.5 223.5h3v1h-3zM479.5 222.5h1v3h-1zM488.5 228.5h3v1h-3zM489.5 227.5h1v3h-1zM498.5 229.5h3v1h-3zM499.5 228.5h1v3h-1zM508.5 241.5h3v1h-3zM509.5 240.5h1v3h-1zM518.5 216.5h3v1h-3zM519.5 215.5h1v3h-1zM528.5 216.5h3v1h-3zM529.5 215.5h1v3h-1zM538.5 212.5h3v1h-3zM539.5 211.5h1v3h-1zM548.5 229.5h3v1h-3zM549.5 228.5h1v3h-1zM558.5 226.5h3v1h-3zM559.5 225.5h1v3h-1zM568.5 233.5h3v1h-3zM569.5 232.5h1v3h-1zM578.5 235.5h3v1h-3zM579.5 234.5h1v3h-1zM588.5 241.5h3v1h-3zM589.5 240.5h1v3h-1zM598.5 224.5h3v1h-3zM599.5 223.5h1v3h-1zM608.5 231.5h3v1h-3zM609.5 230.5h1v3h-1zM618.5 231.5h3v1h-3zM619.5 230.5h1v3h-1zM628.5 237.5h3v1h-3zM629.5 236.5h1v3h-1zM638.5 222.5h3v1h-3zM639.5 221.5h1v3h-1zM648.5 223.5h3v1h-3zM649.5 222.5h1v3h-1zM658.5 216.5h3v1h-3zM659.5 215.5h1v3h-1zM668.5 219.5h3v1h-3zM669.5 218.5h1v3h-1zM678.5 212.5h3v1h-3zM679.5 211.5h1v3h-1zM688.5 225.5h3v1h-3zM689.5 224.5h1v3h-1z" fill="#905020"/>
<path d="M49.5 234.5L60.5 233.5v1L49.5 235.5zM59.5 233.5h1L70.5 245.5h-1zM69.5 244.5L80.5 235.5v1L69.5 245.5zM79.5 235.5L90.5 243.5v1L79.5 236.5zM89.5 243.5L100.5 242.5v1L89.5 244.5zM99.5 242.5h1L110.5 264.5h-1zM109.5 263.5L120.5 260.5v1L109.5 264.5zM119.5 260.5h1L130.5 275.5h-1zM129.5 274.5L140.5 283.5v1L129.5 275.5zM139.5 283.5h1L150.5 299.5h-1zM149.5 298.5L160.5 289.5v1L149.5 299.5zM159.5 289.5L170.5 296.5v1L159.5 290.5zM169.5 296.5h11v1h-11zM179.5 296.5h1L190.5 309.5h-1zM199.5 291.5h1L190.5 309.5h-1zM199.5 291.5L210.5 294.5v1L199.5 292.5zM209.5 294.5L220.5 292.5v1L209.5 295.5zM219.5 292.5h1L230.5 306.5h-1zM229.5 305.5L240.5 306.5v1L229.5 306.5zM239.5 306.5L250.5 314.5v1L239.5 307.5zM249.5 314.5L260.5 316.5v1L249.5 315.5zM259.5 316.5h1L270.5 333.5h-1zM269.5 332.5L280.5 336.5v1L269.5 333.5zM279.5 336.5L290.5 340.5v1L279.5 337.5zM289.5 340.5h1L300.5 356.5h-1zM299.5 355.5L310.5 362.5v1L299.5 356.5zM319.5 328.5h1L310.5 363.5h-1zM319.5 328.5L330.5 324.5v1L319.5 329.5zM339.5 313.5h1L330.5 325.5h-1zM339.5 313.5L350.5 318.5v1L339.5 314.5zM359.5 300.5h1L350.5 319.5h-1zM359.5 300.5L370.5 291.5v1L359.5 301.5zM369.5 291.5L380.5 284.5v1L369.5 292.5zM379.5 284.5L390.5 282.5v1L379.5 285.5zM399.5 268.5h1L390.5 283.5h-1zM399.5 268.5L410.5 274.5v1L399.5 269.5zM419.5 262.5h1L410.5 275.5h-1zM419.5 262.5h1L430.5 274.5h-1zM429.5 273.5L440.5 271.5v1L429.5 274.5zM439.5 271.5L450.5 267.5v1L439.5 272.5zM449.5 267.5L460.5 263.5v1L449.5 268.5zM459.5 263.5L470.5 259.5v1L459.5 264.5zM479.5 246.5h1L470.5 260.5h-1zM489.5 235.5h1L480.5 247.5h-1zM489.5 235.5L500.5 238.5v1L489.5 236.5zM499.5 238.5L510.5 241.5v1L499.5 239.5zM519.5 227.5h1L510.5 242.5h-1zM519.5 227.5h1L530.5 244.5h-1zM529.5 243.5L540.5 237.5v1L529.5 244.5zM539.5 237.5h1L550.5 254.5h-1zM549.5 253.5L560.5 249.5v1L549.5 254.5zM559.5 249.5h1L570.5 266.5h-1zM569.5 265.5L580.5 258.5v1L569.5 266.5zM589.5 245.5h1L580.5 259.5h-1zM589.5 245.5h1L600.5 259.5h-1zM599.5 258.5L610.5 249.5v1L599.5 259.5zM609.5 249.5L620.5 252.5v1L609.5 250.5zM619.5 252.5h1L630.5 264.5h-1zM639.5 249.5h1L630.5 264.5h-1zM639.5 249.5h1L650.5 268.5h-1zM649.5 267.5L660.5 266.5v1L649.5 268.5zM659.5 266.5h1L670.5 286.5h-1zM679.5 272.5h1L670.5 286.5h-1zM679.5 272.5L690.5 276.5v1L679.5 273.5zM48.5 234.5h3v1h-3zM49.5 233.5h1v3h-1zM58.5 233.5h3v1h-3zM59.5 232.5h1v3h-1zM68.5 244.5h3v1h-3zM69.5 243.5h1v3h-1zM78.5 235.5h3v1h-3zM79.5 234.5h1v3h-1zM88.5 243.5h3v1h-3zM89.5 242.5h1v3h-1zM98.5 242.5h3v1h-3zM99.5 241.5h1v3h-1zM108.5 263.5h3v1h-3zM109.5 262.5h1v3h-1zM118.5 260.5h3v1h-3zM119.5 259.5h1v3h-1zM128.5 274.5h3v1h-3zM129.5 273.5h1v3h-1zM138.5 283.5h3v1h-3zM139.5 282.5h1v3h-1zM148.5 298.5h3v1h-3zM149.5 297.5h1v3h-1zM158.5 289.5h3v1h-3zM159.5 288.5h1v3h-1zM168.5 296.5h3v1h-3zM169.5 295.5h1v3h-1zM178.5 296.5h3v1h-3zM179.5 295.5h1v3h-1zM188.5 308.5h3v1h-3zM189.5 307.5h1v3h-1zM198.5 291.5h3v1h-3zM199.5 290.5h1v3h-1zM208.5 294.5h3v1h-3zM209.5 293.5h1v3h-1zM218.5 292.5h3v1h-3zM219.5 291.5h1v3h-1zM228.5 305.5h3v1h-3zM229.5 304.5h1v3h-1zM238.5 306.5h3v1h-3zM239.5 305.5h1v3h-1zM248.5 314.5h3v1h-3zM249.5 313.5h1v3h-1zM258.5 316.5h3v1h-3zM259.5 315.5h1v3h-1zM268.5 332.5h3v1h-3zM269.5 331.5h1v3h-1zM278.5 336.5h3v1h-3zM279.5 335.5h1v3h-1zM288.5 340.5h3v1h-3zM289.5 339.5h1v3h-1zM298.5 355.5h3v1h-3zM299.5 354.5h1v3h-1zM308.5 362.5h3v1h-3zM309.5 361.5h1v3h-1zM318.5 328.5h3v1h-3zM319.5 327.5h1v3h-1zM328.5 324.5h3v1h-3zM329.5 323.5h1v3h-1zM338.5 313.5h3v1h-3zM339.5 312.5h1v3h-1zM348.5 318.5h3v1h-3zM349.5 317.5h1v3h-1zM358.5 300.5h3v1h-3zM359.5 299.5h1v3h-1zM368.5 291.5h3v1h-3zM369.5 290.5h1v3h-1zM378.5 284.5h3v1h-3zM379.5 283.5h1v3h-1zM388.5 282.5h3v1h-3zM389.5 281.5h1v3h-1zM398.5 268.5h3v1h-3zM399.5 267.5h1v3h-1zM408.5 274.5h3v1h-3zM409.5 273.5h1v3h-1zM418.5 262.5h3v1h-3zM419.5 261.5h1v3h-1zM428.5 273.5h3v1h-3zM429.5 272.5h1v3h-1zM438.5 271.5h3v1h-3zM439.5 270.5h1v3h-1zM448.5 267.5h3v1h-3zM449.5 266.5h1v3h-1zM458.5 263.5h3v1h-3zM459.5 262.5h1v3h-1zM468.5 259.5h3v1h-3zM469.5 258.5h1v3h-1zM478.5 246.5h3v1h-3zM479.5 245.5h1v3h-1zM488.5 235.5h3v1h-3zM489.5 234.5h1v3h-1zM498.5 238.5h3v1h-3zM499.5 237.5h1v3h-1zM508.5 241.5h3v1h-3zM509.5 240.5h1v3h-1zM518.5 227.5h3v1h-3zM519.5 226.5h1v3h-1zM528.5 243.5h3v1h-3zM529.5 242.5h1v3h-1zM538.5 237.5h3v1h-3zM539.5 236.5h1v3h-1zM548.5 253.5h3v1h-3zM549.5 252.5h1v3h-1zM558.5 249.5h3v1h-3zM559.5 248.5h1v3h-1zM568.5 265.5h3v1h-3zM569.5 264.5h1v3h-1zM578.5 258.5h3v1h-3zM579.5 257.5h1v3h-1zM588.5 245.5h3v1h-3zM589.5 244.5h1v3h-1zM598.5 258.5h3v1h-3zM599.5 257.5h1v3h-1zM608.5 249.5h3v1h-3zM609.5 248.5h1v3h-1zM618.5 252.5h3v1h-3zM619.5 251.5h1v3h-1zM628.5 263.5h3v1h-3zM629.5 262.5h1v3h-1zM638.5 249.5h3v1h-3zM639.5 248.5h1v3h-1zM648.5 267.5h3v1h-3zM649.5 266.5h1v3h-1zM658.5 266.5h3v1h-3zM659.5 265.5h1v3h-1zM668.5 285.5h3v1h-3zM669.5 284.5h1v3h-1zM678.5 272.5h3v1h-3zM679.5 271.5h1v3h-1zM688.5 276.5h3v1h-3zM689.5 275.5h1v3h-1z" fill="#9888E8"/>
<path d="M49.5 232.5L60.5 230.5v1L49.5 233.5zM59.5 230.5h1L70.5 242.5h-1zM79.5 229.5h1L70.5 242.5h-1zM79.5 229.5L90.5 238.5v1L79.5 230.5zM89.5 238.5L100.5 236.5v1L89.5 239.5zM99.5 236.5h1L110.5 258.5h-1zM109.5 257.5L120.5 250.5v1L109.5 258.5zM119.5 250.5h1L130.5 264.5h-1zM129.5 263.5L140.5 269.5v1L129.5 264.5zM139.5 269.5h1L150.5 285.5h-1zM159.5 270.5h1L150.5 285.5h-1zM159.5 270.5L170.5 271.5v1L159.5 271.5zM179.5 260.5h1L170.5 272.5h-1zM179.5 260.5L190.5 264.5v1L179.5 261.5zM199.5 249.5h1L190.5 265.5h-1zM199.5 249.5L210.5 252.5v1L199.5 250.5zM209.5 252.5L220.5 259.5v1L209.5 253.5zM219.5 259.5h1L230.5 276.5h-1zM229.5 275.5L240.5 269.5v1L229.5 276.5zM239.5 269.5h1L250.5 286.5h-1zM249.5 285.5h1L260.5 297.5h-1zM259.5 296.5h1L270.5 331.5h-1zM269.5 330.5L280.5 327.5v1L269.5 331.5zM279.5 327.5h1L290.5 354.5h-1zM289.5 353.5L300.5 360.5v1L289.5 354.5zM299.5 360.5L310.5 367.5v1L299.5 361.5zM319.5 350.5h1L310.5 368.5h-1zM319.5 350.5L330.5 347.5v1L319.5 351.5zM339.5 335.5h1L330.5 348.5h-1zM339.5 335.5L350.5 336.5v1L339.5 336.5zM359.5 318.5h1L350.5 337.5h-1zM369.5 297.5h1L360.5 319.5h-1zM369.5 297.5L380.5 291.5v1L369.5 298.5zM379.5 291.5L390.5 284.5v1L379.5 292.5zM389.5 284.5L400.5 274.5v1L389.5 285.5zM399.5 274.5L410.5 264.5v1L399.5 275.5zM419.5 247.5h1L410.5 265.5h-1zM419.5 247.5L430.5 256.5v1L419.5 248.5zM429.5 256.5L440.5 248.5v1L429.5 257.5zM439.5 248.5L450.5 245.5v1L439.5 249.5zM459.5 232.5h1L450.5 246.5h-1zM459.5 232.5L470.5 238.5v1L459.5 233.5zM479.5 222.5h1L470.5 239.5h-1zM479.5 222.5h1L490.5 235.5h-1zM489.5 234.5L500.5 239.5v1L489.5 235.5zM499.5 239.5h1L510.5 260.5h-1zM519.5 246.5h1L510.5 260.5h-1zM519.5 246.5L530.5 240.5v1L519.5 247.5zM529.5 240.5L540.5 236.5v1L529.5 241.5zM539.5 236.5L550.5 240.5v1L539.5 237.5zM549.5 240.5L560.5 232.5v1L549.5 241.5zM559.5 232.5L570.5 235.5v1L559.5 233.5zM569.5 235.5h11v1h-11zM579.5 235.5L590.5 233.5v1L579.5 236.5zM599.5 220.5h1L590.5 234.5h-1zM599.5 220.5L610.5 215.5v1L599.5 221.5zM609.5 215.5L620.5 210.5v1L609.5 216.5zM619.5 210.5L630.5 209.5v1L619.5 211.5zM639.5 193.5h1L630.5 210.5h-1zM639.5 193.5L650.5 203.5v1L639.5 194.5zM649.5 203.5L660.5 200.5v1L649.5 204.5zM659.5 200.5h1L670.5 213.5h-1zM669.5 212.5L680.5 220.5v1L669.5 213.5zM679.5 220.5h1L690.5 238.5h-1zM48.5 232.5h3v1h-3zM49.5 231.5h1v3h-1zM58.5 230.5h3v1h-3zM59.5 229.5h1v3h-1zM68.5 241.5h3v1h-3zM69.5 240.5h1v3h-1zM78.5 229.5h3v1h-3zM79.5 228.5h1v3h-1zM88.5 238.5h3v1h-3zM89.5 237.5h1v3h-1zM98.5 236.5h3v1h-3zM99.5 235.5h1v3h-1zM108.5 257.5h3v1h-3zM109.5 256.5h1v3h-1zM118.5 250.5h3v1h-3zM119.5 249.5h1v3h-1zM128.5 263.5h3v1h-3zM129.5 262.5h1v3h-1zM138.5 269.5h3v1h-3zM139.5 268.5h1v3h-1zM148.5 284.5h3v1h-3zM149.5 283.5h1v3h-1zM158.5 270.5h3v1h-3zM159.5 269.5h1v3h-1zM168.5 271.5h3v1h-3zM169.5 270.5h1v3h-1zM178.5 260.5h3v1h-3zM179.5 259.5h1v3h-1zM188.5 264.5h3v1h-3zM189.5 263.5h1v3h-1zM198.5 249.5h3v1h-3zM199.5 248.5h1v3h-1zM208.5 252.5h3v1h-3zM209.5 251.5h1v3h-1zM218.5 259.5h3v1h-3zM219.5 258.5h1v3h-1zM228.5 275.5h3v1h-3zM229.5 274.5h1v3h-1zM238.5 269.5h3v1h-3zM239.5 268.5h1v3h-1zM248.5 285.5h3v1h-3zM249.5 284.5h1v3h-1zM258.5 296.5h3v1h-3zM259.5 295.5h1v3h-1zM268.5 330.5h3v1h-3zM269.5 329.5h1v3h-1zM278.5 327.5h3v1h-3zM279.5 326.5h1v3h-1zM288.5 353.5h3v1h-3zM289.5 352.5h1v3h-1zM298.5 360.5h3v1h-3zM299.5 359.5h1v3h-1zM308.5 367.5h3v1h-3zM309.5 366.5h1v3h-1zM318.5 350.5h3v1h-3zM319.5 349.5h1v3h-1zM328.5 347.5h3v1h-3zM329.5 346.5h1v3h-1zM338.5 335.5h3v1h-3zM339.5 334.5h1v3h-1zM348.5 336.5h3v1h-3zM349.5 335.5h1v3h-1zM358.5 318.5h3v1h-3zM359.5 317.5h1v3h-1zM368.5 297.5h3v1h-3zM369.5 296.5h1v3h-1zM378.5 291.5h3v1h-3zM379.5 290.5h1v3h-1zM388.5 284.5h3v1h-3zM389.5 283.5h1v3h-1zM398.5 274.5h3v1h-3zM399.5 273.5h1v3h-1zM408.5 264.5h3v1h-3zM409.5 263.5h1v3h-1zM418.5 247.5h3v1h-3zM419.5 246.5h1v3h-1zM428.5 256.5h3v1h-3zM429.5 255.5h1v3h-1zM438.5 248.5h3v1h-3zM439.5 247.5h1v3h-1zM448.5 245.5h3v1h-3zM449.5 244.5h1v3h-1zM458.5 232.5h3v1h-3zM459.5 231.5h1v3h-1zM468.5 238.5h3v1h-3zM469.5 237.5h1v3h-1zM478.5 222.5h3v1h-3zM479.5 221.5h1v3h-1zM488.5 234.5h3v1h-3zM489.5 233.5h1v3h-1zM498.5 239.5h3v1h-3zM499.5 238.5h1v3h-1zM508.5 259.5h3v1h-3zM509.5 258.5h1v3h-1zM518.5 246.5h3v1h-3zM519.5 245.5h1v3h-1zM528.5 240.5h3v1h-3zM529.5 239.5h1v3h-1zM538.5 236.5h3v1h-3zM539.5 235.5h1v3h-1zM548.5 240.5h3v1h-3zM549.5 239.5h1v3h-1zM558.5 232.5h3v1h-3zM559.5 231.5h1v3h-1zM568.5 235.5h3v1h-3zM569.5 234.5h1v3h-1zM578.5 235.5h3v1h-3zM579.5 234.5h1v3h-1zM588.5 233.5h3v1h-3zM589.5 232.5h1v3h-1zM598.5 220.5h3v1h-3zM599.5 219.5h1v3h-1zM608.5 215.5h3v1h-3zM609.5 214.5h1v3h-1zM618.5 210.5h3v1h-3zM619.5 209.5h1v3h-1zM628.5 209.5h3v1h-3zM629.5 208.5h1v3h-1zM638.5 193.5h3v1h-3zM639.5 192.5h1v3h-1zM648.5 203.5h3v1h-3zM649.5 202.5h1v3h-1zM658.5 200.5h3v1h-3zM659.5 199.5h1v3h-1zM668.5 212.5h3v1h-3zM669.5 211.5h1v3h-1zM678.5 220.5h3v1h-3zM679.5 219.5h1v3h-1zM688.5 237.5h3v1h-3zM689.5 236.5h1v3h-1z" fill="#98F040"/>
<path d="M49.5 234.5h11v1h-11zM59.5 234.5L70.5 244.5v1L59.5 235.5zM69.5 244.5L80.5 234.5v1L69.5 245.5zM79.5 234.5L90.5 243.5v1L79.5 235.5zM89.5 243.5L100.5 242.5v1L89.5 244.5zM99.5 242.5h1L110.5 264.5h-1zM109.5 263.5L120.5 259.5v1L109.5 264.5zM119.5 259.5h1L130.5 275.5h-1zM129.5 274.5h1L140.5 288.5h-1zM139.5 287.5h1L150.5 304.5h-1zM149.5 303.5L160.5 294.5v1L149.5 304.5zM159.5 294.5L170.5 303.5v1L159.5 295.5zM169.5 303.5L180.5 301.5v1L169.5 304.5zM179.5 301.5h1L190.5 319.5h-1zM199.5 297.5h1L190.5 319.5h-1zM199.5 297.5L210.5 296.5v1L199.5 298.5zM209.5 296.5L220.5 292.5v1L209.5 297.5zM219.5 292.5L230.5 302.5v1L219.5 293.5zM229.5 302.5L240.5 299.5v1L229.5 303.5zM239.5 299.5L250.5 306.5v1L239.5 300.5zM249.5 306.5L260.5 303.5v1L249.5 307.5zM259.5 303.5h1L270.5 327.5h-1zM269.5 326.5L280.5 322.5v1L269.5 327.5zM279.5 322.5h1L290.5 350.5h-1zM289.5 349.5L300.5 358.5v1L289.5 350.5zM299.5 358.5L310.5 366.5v1L299.5 359.5zM319.5 336.5h1L310.5 367.5h-1zM319.5 336.5L330.5 338.5v1L319.5 337.5zM329.5 338.5L340.5 337.5v1L329.5 339.5zM339.5 337.5L350.5 330.5v1L339.5 338.5zM359.5 310.5h1L350.5 331.5h-1zM359.5 310.5L370.5 304.5v1L359.5 311.5zM369.5 304.5L380.5 302.5v1L369.5 305.5zM379.5 302.5L390.5 311.5v1L379.5 303.5zM399.5 296.5h1L390.5 312.5h-1zM399.5 296.5h1L410.5 308.5h-1zM409.5 307.5L420.5 300.5v1L409.5 308.5zM419.5 300.5L430.5 308.5v1L419.5 301.5zM439.5 296.5h1L430.5 309.5h-1zM439.5 296.5h1L450.5 313.5h-1zM449.5 312.5h11v1h-11zM459.5 312.5L470.5 321.5v1L459.5 313.5zM469.5 321.5L480.5 315.5v1L469.5 322.5zM479.5 315.5L490.5 324.5v1L479.5 316.5zM489.5 324.5L500.5 320.5v1L489.5 325.5zM499.5 320.5L510.5 321.5v1L499.5 321.5zM519.5 308.5h1L510.5 322.5h-1zM529.5 297.5h1L520.5 309.5h-1zM539.5 282.5h1L530.5 298.5h-1zM539.5 282.5L550.5 286.5v1L539.5 283.5zM559.5 275.5h1L550.5 287.5h-1zM559.5 275.5L570.5 281.5v1L559.5 276.5zM579.5 265.5h1L570.5 282.5h-1zM579.5 265.5L590.5 270.5v1L579.5 266.5zM589.5 270.5L600.5 263.5v1L589.5 271.5zM599.5 263.5L610.5 272.5v1L599.5 264.5zM609.5 272.5L620.5 265.5v1L609.5 273.5zM619.5 265.5h1L630.5 278.5h-1zM639.5 266.5h1L630.5 278.5h-1zM639.5 266.5L650.5 275.5v1L639.5 267.5zM649.5 275.5L660.5 281.5v1L649.5 276.5zM659.5 281.5L670.5 286.5v1L659.5 282.5zM669.5 286.5L680.5 278.5v1L669.5 287.5zM679.5 278.5L690.5 282.5v1L679.5 279.5zM48.5 234.5h3v1h-3zM49.5 233.5h1v3h-1zM58.5 234.5h3v1h-3zM59.5 233.5h1v3h-1zM68.5 244.5h3v1h-3zM69.5 243.5h1v3h-1zM78.5 234.5h3v1h-3zM79.5 233.5h1v3h-1zM88.5 243.5h3v1h-3zM89.5 242.5h1v3h-1zM98.5 242.5h3v1h-3zM99.5 241.5h1v3h-1zM108.5 263.5h3v1h-3zM109.5 262.5h1v3h-1zM118.5 259.5h3v1h-3zM119.5 258.5h1v3h-1zM128.5 274.5h3v1h-3zM129.5 273.5h1v3h-1zM138.5 287.5h3v1h-3zM139.5 286.5h1v3h-1zM148.5 303.5h3v1h-3zM149.5 302.5h1v3h-1zM158.5 294.5h3v1h-3zM159.5 293.5h1v3h-1zM168.5 303.5h3v1h-3zM169.5 302.5h1v3h-1zM178.5 301.5h3v1h-3zM179.5 300.5h1v3h-1zM188.5 318.5h3v1h-3zM189.5 317.5h1v3h-1zM198.5 297.5h3v1h-3zM199.5 296.5h1v3h-1zM208.5 296.5h3v1h-3zM209.5 295.5h1v3h-1zM218.5 292.5h3v1h-3zM219.5 291.5h1v3h-1zM228.5 302.5h3v1h-3zM229.5 301.5h1v3h-1zM238.5 299.5h3v1h-3zM239.5 298.5h1v3h-1zM248.5 306.5h3v1h-3zM249.5 305.5h1v3h-1zM258.5 303.5h3v1h-3zM259.5 302.5h1v3h-1zM268.5 326.5h3v1h-3zM269.5 325.5h1v3h-1zM278.5 322.5h3v1h-3zM279.5 321.5h1v3h-1zM288.5 349.5h3v1h-3zM289.5 348.5h1v3h-1zM298.5 358.5h3v1h-3zM299.5 357.5h1v3h-1zM308.5 366.5h3v1h-3zM309.5 365.5h1v3h-1zM318.5 336.5h3v1h-3zM319.5 335.5h1v3h-1zM328.5 338.5h3v1h-3zM329.5 337.5h1v3h-1zM338.5 337.5h3v1h-3zM339.5 336.5h1v3h-1zM348.5 330.5h3v1h-3zM349.5 329.5h1v3h-1zM358.5 310.5h3v1h-3zM359.5 309.5h1v3h-1zM368.5 304.5h3v1h-3zM369.5 303.5h1v3h-1zM378.5 302.5h3v1h-3zM379.5 301.5h1v3h-1zM388.5 311.5h3v1h-3zM389.5 310.5h1v3h-1zM398.5 296.5h3v1h-3zM399.5 295.5h1v3h-1zM408.5 307.5h3v1h-3zM409.5 306.5h1v3h-1zM418.5 300.5h3v1h-3zM419.5 299.5h1v3h-1zM428.5 308.5h3v1h-3zM429.5 307.5h1v3h-1zM438.5 296.5h3v1h-3zM439.5 295.5h1v3h-1zM448.5 312.5h3v1h-3zM449.5 311.5h1v3h-1zM458.5 312.5h3v1h-3zM459.5 311.5h1v3h-1zM468.5 321.5h3v1h-3zM469.5 320.5h1v3h-1zM478.5 315.5h3v1h-3zM479.5 314.5h1v3h-1zM488.5 324.5h3v1h-3zM489.5 323.5h1v3h-1zM498.5 320.5h3v1h-3zM499.5 319.5h1v3h-1zM508.5 321.5h3v1h-3zM509.5 320.5h1v3h-1zM518.5 308.5h3v1h-3zM519.5 307.5h1v3h-1zM528.5 297.5h3v1h-3zM529.5 296.5h1v3h-1zM538.5 282.5h3v1h-3zM539.5 281.5h1v3h-1zM548.5 286.5h3v1h-3zM549.5 285.5h1v3h-1zM558.5 275.5h3v1h-3zM559.5 274.5h1v3h-1zM568.5 281.5h3v1h-3zM569.5 280.5h1v3h-1zM578.5 265.5h3v1h-3zM579.5 264.5h1v3h-1zM588.5 270.5h3v1h-3zM589.5 269.5h1v3h-1zM598.5 263.5h3v1h-3zM599.5 262.5h1v3h-1zM608.5 272.5h3v1h-3zM609.5 271.5h1v3h-1zM618.5 265.5h3v1h-3zM619.5 264.5h1v3h-1zM628.5 277.5h3v1h-3zM629.5 276.5h1v3h-1zM638.5 266.5h3v1h-3zM639.5 265.5h1v3h-1zM648.5 275.5h3v1h-3zM649.5 274.5h1v3h-1zM658.5 281.5h3v1h-3zM659.5 280.5h1v3h-1zM668.5 286.5h3v1h-3zM669.5 285.5h1v3h-1zM678.5 278.5h3v1h-3zM679.5 277.5h1v3h-1zM688.5 282.5h3v1h-3zM689.5 281.5h1v3h-1z" fill="#D070D0"/>
<path d="M49.5 232.5L60.5 230.5v1L49.5 233.5zM59.5 230.5h1L70.5 243.5h-1zM69.5 242.5L80.5 232.5v1L69.5 243.5zM79.5 232.5L90.5 241.5v1L79.5 233.5zM89.5 241.5h11v1h-11zM99.5 241.5h1L110.5 260.5h-1zM109.5 259.5L120.5 253.5v1L109.5 260.5zM119.5 253.5h1L130.5 265.5h-1zM129.5 264.5L140.5 273.5v1L129.5 265.5zM139.5 273.5h1L150.5 289.5h-1zM149.5 288.5L160.5 278.5v1L149.5 289.5zM159.5 278.5L170.5 282.5v1L159.5 279.5zM169.5 282.5L180.5 277.5v1L169.5 283.5zM179.5 277.5L190.5 279.5v1L179.5 278.5zM199.5 266.5h1L190.5 280.5h-1zM199.5 266.5L210.5 260.5v1L199.5 267.5zM209.5 260.5h11v1h-11zM219.5 260.5h1L230.5 274.5h-1zM229.5 273.5L240.5 269.5v1L229.5 274.5zM239.5 269.5h1L250.5 283.5h-1zM249.5 282.5h1L260.5 299.5h-1zM259.5 298.5h1L270.5 321.5h-1zM269.5 320.5L280.5 323.5v1L269.5 321.5zM279.5 323.5h1L290.5 339.5h-1zM289.5 338.5h1L300.5 354.5h-1zM299.5 353.5L310.5 361.5v1L299.5 354.5zM319.5 341.5h1L310.5 362.5h-1zM319.5 341.5L330.5 344.5v1L319.5 342.5zM339.5 326.5h1L330.5 345.5h-1zM339.5 326.5L350.5 318.5v1L339.5 327.5zM359.5 304.5h1L350.5 319.5h-1zM359.5 304.5h11v1h-11zM379.5 292.5h1L370.5 305.5h-1zM379.5 292.5h11v1h-11zM389.5 292.5L400.5 289.5v1L389.5 293.5zM399.5 289.5L410.5 283.5v1L399.5 290.5zM409.5 283.5L420.5 274.5v1L409.5 284.5zM419.5 274.5h1L430.5 294.5h-1zM439.5 271.5h1L430.5 294.5h-1zM439.5 271.5L450.5 272.5v1L439.5 272.5zM449.5 272.5h11v1h-11zM459.5 272.5h1L470.5 296.5h-1zM469.5 295.5L480.5 297.5v1L469.5 296.5zM479.5 297.5L490.5 300.5v1L479.5 298.5zM489.5 300.5L500.5 291.5v1L489.5 301.5zM499.5 291.5L510.5 288.5v1L499.5 292.5zM509.5 288.5L520.5 282.5v1L509.5 289.5zM519.5 282.5L530.5 283.5v1L519.5 283.5zM529.5 283.5L540.5 282.5v1L529.5 284.5zM539.5 282.5L550.5 280.5v1L539.5 283.5zM549.5 280.5h11v1h-11zM559.5 280.5L570.5 283.5v1L559.5 281.5zM569.5 283.5L580.5 276.5v1L569.5 284.5zM579.5 276.5h1L590.5 294.5h-1zM589.5 293.5L600.5 289.5v1L589.5 294.5zM599.5 289.5L610.5 295.5v1L599.5 290.5zM609.5 295.5L620.5 289.5v1L609.5 296.5zM619.5 289.5L630.5 299.5v1L619.5 290.5zM629.5 299.5L640.5 289.5v1L629.5 300.5zM639.5 289.5L650.5 285.5v1L639.5 290.5zM649.5 285.5L660.5 287.5v1L649.5 286.5zM659.5 287.5L670.5 297.5v1L659.5 288.5zM669.5 297.5L680.5 296.5v1L669.5 298.5zM679.5 296.5L690.5 302.5v1L679.5 297.5zM48.5 232.5h3v1h-3zM49.5 231.5h1v3h-1zM58.5 230.5h3v1h-3zM59.5 229.5h1v3h-1zM68.5 242.5h3v1h-3zM69.5 241.5h1v3h-1zM78.5 232.5h3v1h-3zM79.5 231.5h1v3h-1zM88.5 241.5h3v1h-3zM89.5 240.5h1v3h-1zM98.5 241.5h3v1h-3zM99.5 240.5h1v3h-1zM108.5 259.5h3v1h-3zM109.5 258.5h1v3h-1zM118.5 253.5h3v1h-3zM119.5 252.5h1v3h-1zM128.5 264.5h3v1h-3zM129.5 263.5h1v3h-1zM138.5 273.5h3v1h-3zM139.5 272.5h1v3h-1zM148.5 288.5h3v1h-3zM149.5 287.5h1v3h-1zM158.5 278.5h3v1h-3zM159.5 277.5h1v3h-1zM168.5 282.5h3v1h-3zM169.5 281.5h1v3h-1zM178.5 277.5h3v1h-3zM179.5 276.5h1v3h-1zM188.5 279.5h3v1h-3zM189.5 278.5h1v3h-1zM198.5 266.5h3v1h-3zM199.5 265.5h1v3h-1zM208.5 260.5h3v1h-3zM209.5 259.5h1v3h-1zM218.5 260.5h3v1h-3zM219.5 259.5h1v3h-1zM228.5 273.5h3v1h-3zM229.5 272.5h1v3h-1zM238.5 269.5h3v1h-3zM239.5 268.5h1v3h-1zM248.5 282.5h3v1h-3zM249.5 281.5h1v3h-1zM258.5 298.5h3v1h-3zM259.5 297.5h1v3h-1zM268.5 320.5h3v1h-3zM269.5 319.5h1v3h-1zM278.5 323.5h3v1h-3zM279.5 322.5h1v3h-1zM288.5 338.5h3v1h-3zM289.5 337.5h1v3h-1zM298.5 353.5h3v1h-3zM299.5 352.5h1v3h-1zM308.5 361.5h3v1h-3zM309.5 360.5h1v3h-1zM318.5 341.5h3v1h-3zM319.5 340.5h1v3h-1zM328.5 344.5h3v1h-3zM329.5 343.5h1v3h-1zM338.5 326.5h3v1h-3zM339.5 325.5h1v3h-1zM348.5 318.5h3v1h-3zM349.5 317.5h1v3h-1zM358.5 304.5h3v1h-3zM359.5 303.5h1v3h-1zM368.5 304.5h3v1h-3zM369.5 303.5h1v3h-1zM378.5 292.5h3v1h-3zM379.5 291.5h1v3h-1zM388.5 292.5h3v1h-3zM389.5 291.5h1v3h-1zM398.5 289.5h3v1h-3zM399.5 288.5h1v3h-1zM408.5 283.5h3v1h-3zM409.5 282.5h1v3h-1zM418.5 274.5h3v1h-3zM419.5 273.5h1v3h-1zM428.5 293.5h3v1h-3zM429.5 292.5h1v3h-1zM438.5 271.5h3v1h-3zM439.5 270.5h1v3h-1zM448.5 272.5h3v1h-3zM449.5 271.5h1v3h-1zM458.5 272.5h3v1h-3zM459.5 271.5h1v3h-1zM468.5 295.5h3v1h-3zM469.5 294.5h1v3h-1zM478.5 297.5h3v1h-3zM479.5 296.5h1v3h-1zM488.5 300.5h3v1h-3zM489.5 299.5h1v3h-1zM498.5 291.5h3v1h-3zM499.5 290.5h1v3h-1zM508.5 288.5h3v1h-3zM509.5 287.5h1v3h-1zM518.5 282.5h3v1h-3zM519.5 281.5h1v3h-1zM528.5 283.5h3v1h-3zM529.5 282.5h1v3h-1zM538.5 282.5h3v1h-3zM539.5 281.5h1v3h-1zM548.5 280.5h3v1h-3zM549.5 279.5h1v3h-1zM558.5 280.5h3v1h-3zM559.5 279.5h1v3h-1zM568.5 283.5h3v1h-3zM569.5 282.5h1v3h-1zM578.5 276.5h3v1h-3zM579.5 275.5h1v3h-1zM588.5 293.5h3v1h-3zM589.5 292.5h1v3h-1zM598.5 289.5h3v1h-3zM599.5 288.5h1v3h-1zM608.5 295.5h3v1h-3zM609.5 294.5h1v3h-1zM618.5 289.5h3v1h-3zM619.5 288.5h1v3h-1zM628.5 299.5h3v1h-3zM629.5 298.5h1v3h-1zM638.5 289.5h3v1h-3zM639.5 288.5h1v3h-1zM648.5 285.5h3v1h-3zM649.5 284.5h1v3h-1zM658.5 287.5h3v1h-3zM659.5 286.5h1v3h-1zM668.5 297.5h3v1h-3zM669.5 296.5h1v3h-1zM678.5 296.5h3v1h-3zM679.5 295.5h1v3h-1zM688.5 302.5h3v1h-3zM689.5 301.5h1v3h-1z" fill="#200890"/>
<path d="M49.5 234.5h11v1h-11zM59.5 234.5h1L70.5 247.5h-1zM69.5 246.5L80.5 239.5v1L69.5 247.5zM79.5 239.5L90.5 244.5v1L79.5 240.5zM89.5 244.5L100.5 242.5v1L89.5 245.5zM99.5 242.5h1L110.5 267.5h-1zM109.5 266.5L120.5 259.5v1L109.5 267.5zM119.5 259.5h1L130.5 272.5h-1zM129.5 271.5h1L140.5 283.5h-1zM139.5 282.5L150.5 292.5v1L139.5 283.5zM149.5 292.5L160.5 284.5v1L149.5 293.5zM159.5 284.5L170.5 293.5v1L159.5 285.5zM169.5 293.5L180.5 291.5v1L169.5 294.5zM179.5 291.5L190.5 297.5v1L179.5 292.5zM199.5 282.5h1L190.5 298.5h-1zM199.5 282.5h11v1h-11zM209.5 282.5L220.5 276.5v1L209.5 283.5zM219.5 276.5L230.5 278.5v1L219.5 277.5zM229.5 278.5L240.5 280.5v1L229.5 279.5zM239.5 280.5L250.5 285.5v1L239.5 281.5zM249.5 285.5h11v1h-11zM259.5 285.5h1L270.5 313.5h-1zM269.5 312.5L280.5 308.5v1L269.5 313.5zM279.5 308.5h1L290.5 335.5h-1zM289.5 334.5L300.5 344.5v1L289.5 335.5zM299.5 344.5L310.5 351.5v1L299.5 345.5zM309.5 351.5L320.5 342.5v1L309.5 352.5zM319.5 342.5L330.5 344.5v1L319.5 343.5zM339.5 324.5h1L330.5 345.5h-1zM349.5 309.5h1L340.5 325.5h-1zM359.5 293.5h1L350.5 310.5h-1zM359.5 293.5L370.5 291.5v1L359.5 294.5zM369.5 291.5L380.5 281.5v1L369.5 292.5zM379.5 281.5L390.5 280.5v1L379.5 282.5zM389.5 280.5L400.5 282.5v1L389.5 281.5zM409.5 266.5h1L400.5 283.5h-1zM409.5 266.5L420.5 269.5v1L409.5 267.5zM419.5 269.5L430.5 274.5v1L419.5 270.5zM429.5 274.5L440.5 265.5v1L429.5 275.5zM439.5 265.5L450.5 273.5v1L439.5 266.5zM459.5 261.5h1L450.5 274.5h-1zM459.5 261.5L470.5 256.5v1L459.5 262.5zM479.5 241.5h1L470.5 257.5h-1zM479.5 241.5L490.5 233.5v1L479.5 242.5zM489.5 233.5L500.5 229.5v1L489.5 234.5zM499.5 229.5h1L510.5 242.5h-1zM519.5 227.5h1L510.5 242.5h-1zM519.5 227.5L530.5 220.5v1L519.5 228.5zM529.5 220.5L540.5 219.5v1L529.5 221.5zM539.5 219.5L550.5 225.5v1L539.5 220.5zM559.5 214.5h1L550.5 226.5h-1zM559.5 214.5h11v1h-11zM569.5 214.5L580.5 215.5v1L569.5 215.5zM579.5 215.5h1L590.5 232.5h-1zM589.5 231.5L600.5 222.5v1L589.5 232.5zM599.5 222.5h1L610.5 237.5h-1zM609.5 236.5L620.5 243.5v1L609.5 237.5zM619.5 243.5h1L630.5 266.5h-1zM629.5 265.5L640.5 262.5v1L629.5 266.5zM639.5 262.5h1L650.5 291.5h-1zM649.5 290.5h11v1h-11zM659.5 290.5h1L670.5 309.5h-1zM669.5 308.5L680.5 301.5v1L669.5 309.5zM679.5 301.5L690.5 297.5v1L679.5 302.5zM48.5 234.5h3v1h-3zM49.5 233.5h1v3h-1zM58.5 234.5h3v1h-3zM59.5 233.5h1v3h-1zM68.5 246.5h3v1h-3zM69.5 245.5h1v3h-1zM78.5 239.5h3v1h-3zM79.5 238.5h1v3h-1zM88.5 244.5h3v1h-3zM89.5 243.5h1v3h-1zM98.5 242.5h3v1h-3zM99.5 241.5h1v3h-1zM108.5 266.5h3v1h-3zM109.5 265.5h1v3h-1zM118.5 259.5h3v1h-3zM119.5 258.5h1v3h-1zM128.5 271.5h3v1h-3zM129.5 270.5h1v3h-1zM138.5 282.5h3v1h-3zM139.5 281.5h1v3h-1zM148.5 292.5h3v1h-3zM149.5 291.5h1v3h-1zM158.5 284.5h3v1h-3zM159.5 283.5h1v3h-1zM168.5 293.5h3v1h-3zM169.5 292.5h1v3h-1zM178.5 291.5h3v1h-3zM179.5 290.5h1v3h-1zM188.5 297.5h3v1h-3zM189.5 296.5h1v3h-1zM198.5 282.5h3v1h-3zM199.5 281.5h1v3h-1zM208.5 282.5h3v1h-3zM209.5 281.5h1v3h-1zM218.5 276.5h3v1h-3zM219.5 275.5h1v3h-1zM228.5 278.5h3v1h-3zM229.5 277.5h1v3h-1zM238.5 280.5h3v1h-3zM239.5 279.5h1v3h-1zM248.5 285.5h3v1h-3zM249.5 284.5h1v3h-1zM258.5 285.5h3v1h-3zM259.5 284.5h1v3h-1zM268.5 312.5h3v1h-3zM269.5 311.5h1v3h-1zM278.5 308.5h3v1h-3zM279.5 307.5h1v3h-1zM288.5 334.5h3v1h-3zM289.5 333.5h1v3h-1zM298.5 344.5h3v1h-3zM299.5 343.5h1v3h-1zM308.5 351.5h3v1h-3zM309.5 350.5h1v3h-1zM318.5 342.5h3v1h-3zM319.5 341.5h1v3h-1zM328.5 344.5h3v1h-3zM329.5 343.5h1v3h-1zM338.5 324.5h3v1h-3zM339.5 323.5h1v3h-1zM348.5 309.5h3v1h-3zM349.5 308.5h1v3h-1zM358.5 293.5h3v1h-3zM359.5 292.5h1v3h-1zM368.5 291.5h3v1h-3zM369.5 290.5h1v3h-1zM378.5 281.5h3v1h-3zM379.5 280.5h1v3h-1zM388.5 280.5h3v1h-3zM389.5 279.5h1v3h-1zM398.5 282.5h3v1h-3zM399.5 281.5h1v3h-1zM408.5 266.5h3v1h-3zM409.5 265.5h1v3h-1zM418.5 269.5h3v1h-3zM419.5 268.5h1v3h-1zM428.5 274.5h3v1h-3zM429.5 273.5h1v3h-1zM438.5 265.5h3v1h-3zM439.5 264.5h1v3h-1zM448.5 273.5h3v1h-3zM449.5 272.5h1v3h-1zM458.5 261.5h3v1h-3zM459.5 260.5h1v3h-1zM468.5 256.5h3v1h-3zM469.5 255.5h1v3h-1zM478.5 241.5h3v1h-3zM479.5 240.5h1v3h-1zM488.5 233.5h3v1h-3zM489.5 232.5h1v3h-1zM498.5 229.5h3v1h-3zM499.5 228.5h1v3h-1zM508.5 241.5h3v1h-3zM509.5 240.5h1v3h-1zM518.5 227.5h3v1h-3zM519.5 226.5h1v3h-1zM528.5 220.5h3v1h-3zM529.5 219.5h1v3h-1zM538.5 219.5h3v1h-3zM539.5 218.5h1v3h-1zM548.5 225.5h3v1h-3zM549.5 224.5h1v3h-1zM558.5 214.5h3v1h-3zM559.5 213.5h1v3h-1zM568.5 214.5h3v1h-3zM569.5 213.5h1v3h-1zM578.5 215.5h3v1h-3zM579.5 214.5h1v3h-1zM588.5 231.5h3v1h-3zM589.5 230.5h1v3h-1zM598.5 222.5h3v1h-3zM599.5 221.5h1v3h-1zM608.5 236.5h3v1h-3zM609.5 235.5h1v3h-1zM618.5 243.5h3v1h-3zM619.5 242.5h1v3h-1zM628.5 265.5h3v1h-3zM629.5 264.5h1v3h-1zM638.5 262.5h3v1h-3zM639.5 261.5h1v3h-1zM648.5 290.5h3v1h-3zM649.5 289.5h1v3h-1zM658.5 290.5h3v1h-3zM659.5 289.5h1v3h-1zM668.5 308.5h3v1h-3zM669.5 307.5h1v3h-1zM678.5 301.5h3v1h-3zM679.5 300.5h1v3h-1zM688.5 297.5h3v1h-3zM689.5 296.5h1v3h-1z" fill="#E0C8A0"/>
<path d="M49.5 234.5h11v1h-11zM59.5 234.5h1L70.5 248.5h-1zM69.5 247.5L80.5 237.5v1L69.5 248.5zM79.5 237.5L90.5 245.5v1L79.5 238.5zM89.5 245.5L100.5 244.5v1L89.5 246.5zM99.5 244.5h1L110.5 268.5h-1zM109.5 267.5L120.5 260.5v1L109.5 268.5zM119.5 260.5h1L130.5 274.5h-1zM129.5 273.5L140.5 283.5v1L129.5 274.5zM139.5 283.5h1L150.5 297.5h-1zM149.5 296.5L160.5 286.5v1L149.5 297.5zM159.5 286.5L170.5 290.5v1L159.5 287.5zM169.5 290.5L180.5 289.5v1L169.5 291.5zM179.5 289.5h1L190.5 301.5h-1zM199.5 288.5h1L190.5 301.5h-1zM199.5 288.5L210.5 285.5v1L199.5 289.5zM209.5 285.5L220.5 290.5v1L209.5 286.5zM219.5 290.5L230.5 288.5v1L219.5 291.5zM229.5 288.5L240.5 281.5v1L229.5 289.5zM239.5 281.5L250.5 287.5v1L239.5 282.5zM249.5 287.5L260.5 290.5v1L249.5 288.5zM259.5 290.5L270.5 299.5v1L259.5 291.5zM269.5 299.5L280.5 289.5v1L269.5 300.5zM279.5 289.5L290.5 299.5v1L279.5 290.5zM289.5 299.5L300.5 298.5v1L289.5 300.5zM299.5 298.5h1L310.5 310.5h-1zM319.5 289.5h1L310.5 310.5h-1zM319.5 289.5L330.5 293.5v1L319.5 290.5zM329.5 293.5L340.5 297.5v1L329.5 294.5zM339.5 297.5h1L350.5 311.5h-1zM349.5 310.5L360.5 305.5v1L349.5 311.5zM359.5 305.5h1L370.5 319.5h-1zM369.5 318.5L380.5 310.5v1L369.5 319.5zM379.5 310.5h1L390.5 326.5h-1zM389.5 325.5L400.5 326.5v1L389.5 326.5zM399.5 326.5h1L410.5 339.5h-1zM409.5 338.5L420.5 335.5v1L409.5 339.5zM419.5 335.5L430.5 336.5v1L419.5 336.5zM439.5 324.5h1L430.5 337.5h-1zM439.5 324.5L450.5 327.5v1L439.5 325.5zM449.5 327.5L460.5 318.5v1L449.5 328.5zM459.5 318.5L470.5 325.5v1L459.5 319.5zM479.5 309.5h1L470.5 326.5h-1zM479.5 309.5L490.5 308.5v1L479.5 310.5zM489.5 308.5L500.5 300.5v1L489.5 309.5zM499.5 300.5h1L510.5 312.5h-1zM509.5 311.5L520.5 302.5v1L509.5 312.5zM519.5 302.5L530.5 306.5v1L519.5 303.5zM529.5 306.5L540.5 298.5v1L529.5 307.5zM539.5 298.5h1L550.5 325.5h-1zM549.5 324.5L560.5 321.5v1L549.5 325.5zM559.5 321.5L570.5 315.5v1L559.5 322.5zM569.5 315.5L580.5 311.5v1L569.5 316.5zM579.5 311.5L590.5 320.5v1L579.5 312.5zM599.5 301.5h1L590.5 321.5h-1zM599.5 301.5L610.5 307.5v1L599.5 302.5zM609.5 307.5L620.5 298.5v1L609.5 308.5zM619.5 298.5h11v1h-11zM629.5 298.5L640.5 288.5v1L629.5 299.5zM639.5 288.5L650.5 284.5v1L639.5 289.5zM659.5 269.5h1L650.5 285.5h-1zM659.5 269.5h1L670.5 290.5h-1zM679.5 267.5h1L670.5 290.5h-1zM679.5 267.5L690.5 274.5v1L679.5 268.5zM48.5 234.5h3v1h-3zM49.5 233.5h1v3h-1zM58.5 234.5h3v1h-3zM59.5 233.5h1v3h-1zM68.5 247.5h3v1h-3zM69.5 246.5h1v3h-1zM78.5 237.5h3v1h-3zM79.5 236.5h1v3h-1zM88.5 245.5h3v1h-3zM89.5 244.5h1v3h-1zM98.5 244.5h3v1h-3zM99.5 243.5h1v3h-1zM108.5 267.5h3v1h-3zM109.5 266.5h1v3h-1zM118.5 260.5h3v1h-3zM119.5 259.5h1v3h-1zM128.5 273.5h3v1h-3zM129.5 272.5h1v3h-1zM138.5 283.5h3v1h-3zM139.5 282.5h1v3h-1zM148.5 296.5h3v1h-3zM149.5 295.5h1v3h-1zM158.5 286.5h3v1h-3zM159.5 285.5h1v3h-1zM168.5 290.5h3v1h-3zM169.5 289.5h1v3h-1zM178.5 289.5h3v1h-3zM179.5 288.5h1v3h-1zM188.5 300.5h3v1h-3zM189.5 299.5h1v3h-1zM198.5 288.5h3v1h-3zM199.5 287.5h1v3h-1zM208.5 285.5h3v1h-3zM209.5 284.5h1v3h-1zM218.5 290.5h3v1h-3zM219.5 289.5h1v3h-1zM228.5 288.5h3v1h-3zM229.5 287.5h1v3h-1zM238.5 281.5h3v1h-3zM239.5 280.5h1v3h-1zM248.5 287.5h3v1h-3zM249.5 286.5h1v3h-1zM258.5 290.5h3v1h-3zM259.5 289.5h1v3h-1zM268.5 299.5h3v1h-3zM269.5 298.5h1v3h-1zM278.5 289.5h3v1h-3zM279.5 288.5h1v3h-1zM288.5 299.5h3v1h-3zM289.5 298.5h1v3h-1zM298.5 298.5h3v1h-3zM299.5 297.5h1v3h-1zM308.5 309.5h3v1h-3zM309.5 308.5h1v3h-1zM318.5 289.5h3v1h-3zM319.5 288.5h1v3h-1zM328.5 293.5h3v1h-3zM329.5 292.5h1v3h-1zM338.5 297.5h3v1h-3zM339.5 296.5h1v3h-1zM348.5 310.5h3v1h-3zM349.5 309.5h1v3h-1zM358.5 305.5h3v1h-3zM359.5 304.5h1v3h-1zM368.5 318.5h3v1h-3zM369.5 317.5h1v3h-1zM378.5 310.5h3v1h-3zM379.5 309.5h1v3h-1zM388.5 325.5h3v1h-3zM389.5 324.5h1v3h-1zM398.5 326.5h3v1h-3zM399.5 325.5h1v3h-1zM408.5 338.5h3v1h-3zM409.5 337.5h1v3h-1zM418.5 335.5h3v1h-3zM419.5 334.5h1v3h-1zM428.5 336.5h3v1h-3zM429.5 335.5h1v3h-1zM438.5 324.5h3v1h-3zM439.5 323.5h1v3h-1zM448.5 327.5h3v1h-3zM449.5 326.5h1v3h-1zM458.5 318.5h3v1h-3zM459.5 317.5h1v3h-1zM468.5 325.5h3v1h-3zM469.5 324.5h1v3h-1zM478.5 309.5h3v1h-3zM479.5 308.5h1v3h-1zM488.5 308.5h3v1h-3zM489.5 307.5h1v3h-1zM498.5 300.5h3v1h-3zM499.5 299.5h1v3h-1zM508.5 311.5h3v1h-3zM509.5 310.5h1v3h-1zM518.5 302.5h3v1h-3zM519.5 301.5h1v3h-1zM528.5 306.5h3v1h-3zM529.5 305.5h1v3h-1zM538.5 298.5h3v1h-3zM539.5 297.5h1v3h-1zM548.5 324.5h3v1h-3zM549.5 323.5h1v3h-1zM558.5 321.5h3v1h-3zM559.5 320.5h1v3h-1zM568.5 315.5h3v1h-3zM569.5 314.5h1v3h-1zM578.5 311.5h3v1h-3zM579.5 310.5h1v3h-1zM588.5 320.5h3v1h-3zM589.5 319.5h1v3h-1zM598.5 301.5h3v1h-3zM599.5 300.5h1v3h-1zM608.5 307.5h3v1h-3zM609.5 306.5h1v3h-1zM618.5 298.5h3v1h-3zM619.5 297.5h1v3h-1zM628.5 298.5h3v1h-3zM629.5 297.5h1v3h-1zM638.5 288.5h3v1h-3zM639.5 287.5h1v3h-1zM648.5 284.5h3v1h-3zM649.5 283.5h1v3h-1zM658.5 269.5h3v1h-3zM659.5 268.5h1v3h-1zM668.5 289.5h3v1h-3zM669.5 288.5h1v3h-1zM678.5 267.5h3v1h-3zM679.5 266.5h1v3h-1zM688.5 274.5h3v1h-3zM689.5 273.5h1v3h-1z" fill="#800808"/>
<path d="M49.5 234.5h11v1h-11zM59.5 234.5h1L70.5 247.5h-1zM69.5 246.5L80.5 238.5v1L69.5 247.5zM79.5 238.5L90.5 244.5v1L79.5 239.5zM89.5 244.5L100.5 242.5v1L89.5 245.5zM99.5 242.5h1L110.5 264.5h-1zM109.5 263.5L120.5 256.5v1L109.5 264.5zM119.5 256.5h1L130.5 269.5h-1zM129.5 268.5L140.5 277.5v1L129.5 269.5zM139.5 277.5h1L150.5 291.5h-1zM149.5 290.5L160.5 282.5v1L149.5 291.5zM159.5 282.5L170.5 286.5v1L159.5 283.5zM169.5 286.5L180.5 281.5v1L169.5 287.5zM179.5 281.5L190.5 282.5v1L179.5 282.5zM199.5 267.5h1L190.5 283.5h-1zM199.5 267.5L210.5 261.5v1L199.5 268.5zM209.5 261.5L220.5 260.5v1L209.5 262.5zM219.5 260.5L230.5 264.5v1L219.5 261.5zM229.5 264.5L240.5 258.5v1L229.5 265.5zM239.5 258.5L250.5 255.5v1L239.5 259.5zM249.5 255.5L260.5 254.5v1L249.5 256.5zM259.5 254.5h1L270.5 267.5h-1zM269.5 266.5L280.5 264.5v1L269.5 267.5zM279.5 264.5h1L290.5 276.5h-1zM289.5 275.5h11v1h-11zM299.5 275.5L310.5 284.5v1L299.5 276.5zM319.5 264.5h1L310.5 285.5h-1zM319.5 264.5L330.5 263.5v1L319.5 265.5zM329.5 263.5L340.5 257.5v1L329.5 264.5zM339.5 257.5L350.5 261.5v1L339.5 258.5zM349.5 261.5L360.5 253.5v1L349.5 262.5zM359.5 253.5L370.5 249.5v1L359.5 254.5zM379.5 234.5h1L370.5 250.5h-1zM379.5 234.5L390.5 240.5v1L379.5 235.5zM399.5 228.5h1L390.5 241.5h-1zM399.5 228.5L410.5 232.5v1L399.5 229.5zM409.5 232.5L420.5 225.5v1L409.5 233.5zM419.5 225.5h1L430.5 238.5h-1zM439.5 214.5h1L430.5 238.5h-1zM439.5 214.5L450.5 219.5v1L439.5 215.5zM449.5 219.5L460.5 221.5v1L449.5 220.5zM459.5 221.5L470.5 227.5v1L459.5 222.5zM469.5 227.5L480.5 219.5v1L469.5 228.5zM479.5 219.5L490.5 227.5v1L479.5 220.5zM489.5 227.5L500.5 230.5v1L489.5 228.5zM499.5 230.5L510.5 238.5v1L499.5 231.5zM519.5 224.5h1L510.5 239.5h-1zM519.5 224.5L530.5 232.5v1L519.5 225.5zM529.5 232.5L540.5 238.5v1L529.5 233.5zM539.5 238.5h1L550.5 254.5h-1zM549.5 253.5L560.5 247.5v1L549.5 254.5zM559.5 247.5L570.5 253.5v1L559.5 248.5zM569.5 253.5L580.5 254.5v1L569.5 254.5zM579.5 254.5L590.5 263.5v1L579.5 255.5zM589.5 263.5L600.5 257.5v1L589.5 264.5zM599.5 257.5L610.5 265.5v1L599.5 258.5zM609.5 265.5L620.5 262.5v1L609.5 266.5zM619.5 262.5L630.5 264.5v1L619.5 263.5zM629.5 264.5L640.5 269.5v1L629.5 265.5zM639.5 269.5L650.5 279.5v1L639.5 270.5zM649.5 279.5L660.5 284.5v1L649.5 280.5zM659.5 284.5L670.5 285.5v1L659.5 285.5zM669.5 285.5L680.5 280.5v1L669.5 286.5zM679.5 280.5L690.5 289.5v1L679.5 281.5zM48.5 234.5h3v1h-3zM49.5 233.5h1v3h-1zM58.5 234.5h3v1h-3zM59.5 233.5h1v3h-1zM68.5 246.5h3v1h-3zM69.5 245.5h1v3h-1zM78.5 238.5h3v1h-3zM79.5 237.5h1v3h-1zM88.5 244.5h3v1h-3zM89.5 243.5h1v3h-1zM98.5 242.5h3v1h-3zM99.5 241.5h1v3h-1zM108.5 263.5h3v1h-3zM109.5 262.5h1v3h-1zM118.5 256.5h3v1h-3zM119.5 255.5h1v3h-1zM128.5 268.5h3v1h-3zM129.5 267.5h1v3h-1zM138.5 277.5h3v1h-3zM139.5 276.5h1v3h-1zM148.5 290.5h3v1h-3zM149.5 289.5h1v3h-1zM158.5 282.5h3v1h-3zM159.5 281.5h1v3h-1zM168.5 286.5h3v1h-3zM169.5 285.5h1v3h-1zM178.5 281.5h3v1h-3zM179.5 280.5h1v3h-1zM188.5 282.5h3v1h-3zM189.5 281.5h1v3h-1zM198.5 267.5h3v1h-3zM199.5 266.5h1v3h-1zM208.5 261.5h3v1h-3zM209.5 260.5h1v3h-1zM218.5 260.5h3v1h-3zM219.5 259.5h1v3h-1zM228.5 264.5h3v1h-3zM229.5 263.5h1v3h-1zM238.5 258.5h3v1h-3zM239.5 257.5h1v3h-1zM248.5 255.5h3v1h-3zM249.5 254.5h1v3h-1zM258.5 254.5h3v1h-3zM259.5 253.5h1v3h-1zM268.5 266.5h3v1h-3zM269.5 265.5h1v3h-1zM278.5 264.5h3v1h-3zM279.5 263.5h1v3h-1zM288.5 275.5h3v1h-3zM289.5 274.5h1v3h-1zM298.5 275.5h3v1h-3zM299.5 274.5h1v3h-1zM308.5 284.5h3v1h-3zM309.5 283.5h1v3h-1zM318.5 264.5h3v1h-3zM319.5 263.5h1v3h-1zM328.5 263.5h3v1h-3zM329.5 262.5h1v3h-1zM338.5 257.5h3v1h-3zM339.5 256.5h1v3h-1zM348.5 261.5h3v1h-3zM349.5 260.5h1v3h-1zM358.5 253.5h3v1h-3zM359.5 252.5h1v3h-1zM368.5 249.5h3v1h-3zM369.5 248.5h1v3h-1zM378.5 234.5h3v1h-3zM379.5 233.5h1v3h-1zM388.5 240.5h3v1h-3zM389.5 239.5h1v3h-1zM398.5 228.5h3v1h-3zM399.5 227.5h1v3h-1zM408.5 232.5h3v1h-3zM409.5 231.5h1v3h-1zM418.5 225.5h3v1h-3zM419.5 224.5h1v3h-1zM428.5 237.5h3v1h-3zM429.5 236.5h1v3h-1zM438.5 214.5h3v1h-3zM439.5 213.5h1v3h-1zM448.5 219.5h3v1h-3zM449.5 218.5h1v3h-1zM458.5 221.5h3v1h-3zM459.5 220.5h1v3h-1zM468.5 227.5h3v1h-3zM469.5 226.5h1v3h-1zM478.5 219.5h3v1h-3zM479.5 218.5h1v3h-1zM488.5 227.5h3v1h-3zM489.5 226.5h1v3h-1zM498.5 230.5h3v1h-3zM499.5 229.5h1v3h-1zM508.5 238.5h3v1h-3zM509.5 237.5h1v3h-1zM518.5 224.5h3v1h-3zM519.5 223.5h1v3h-1zM528.5 232.5h3v1h-3zM529.5 231.5h1v3h-1zM538.5 238.5h3v1h-3zM539.5 237.5h1v3h-1zM548.5 253.5h3v1h-3zM549.5 252.5h1v3h-1zM558.5 247.5h3v1h-3zM559.5 246.5h1v3h-1zM568.5 253.5h3v1h-3zM569.5 252.5h1v3h-1zM578.5 254.5h3v1h-3zM579.5 253.5h1v3h-1zM588.5 263.5h3v1h-3zM589.5 262.5h1v3h-1zM598.5 257.5h3v1h-3zM599.5 256.5h1v3h-1zM608.5 265.5h3v1h-3zM609.5 264.5h1v3h-1zM618.5 262.5h3v1h-3zM619.5 261.5h1v3h-1zM628.5 264.5h3v1h-3zM629.5 263.5h1v3h-1zM638.5 269.5h3v1h-3zM639.5 268.5h1v3h-1zM648.5 279.5h3v1h-3zM649.5 278.5h1v3h-1zM658.5 284.5h3v1h-3zM659.5 283.5h1v3h-1zM668.5 285.5h3v1h-3zM669.5 284.5h1v3h-1zM678.5 280.5h3v1h-3zM679.5 279.5h1v3h-1zM688.5 289.5h3v1h-3zM689.5 288.5h1v3h-1z" fill="#0030B0"/>
<path d="M59.5 543.5h171v1h-171zM229.5 543.5L240.5 542.5v1L229.5 544.5zM239.5 542.5L250.5 543.5v1L239.5 543.5zM249.5 543.5h71v1h-71zM319.5 543.5L330.5 542.5v1L319.5 544.5zM329.5 542.5h31v1h-31zM359.5 542.5L370.5 543.5v1L359.5 543.5zM369.5 543.5L380.5 542.5v1L369.5 544.5zM379.5 542.5L390.5 543.5v1L379.5 543.5zM389.5 543.5h41v1h-41zM429.5 543.5L440.5 542.5v1L429.5 544.5zM439.5 542.5L450.5 540.5v1L439.5 543.5zM449.5 540.5L460.5 543.5v1L449.5 541.5zM459.5 543.5h11v1h-11zM469.5 543.5L480.5 542.5v1L469.5 544.5zM479.5 542.5h11v1h-11zM489.5 542.5L500.5 540.5v1L489.5 543.5zM499.5 540.5L510.5 542.5v1L499.5 541.5zM509.5 542.5L520.5 543.5v1L509.5 543.5zM519.5 543.5L530.5 539.5v1L519.5 544.5zM529.5 539.5L540.5 542.5v1L529.5 540.5zM539.5 542.5h11v1h-11zM549.5 542.5L560.5 541.5v1L549.5 543.5zM559.5 541.5L570.5 540.5v1L559.5 542.5zM569.5 540.5L580.5 542.5v1L569.5 541.5zM579.5 542.5L590.5 543.5v1L579.5 543.5zM589.5 543.5h11v1h-11zM599.5 543.5L610.5 542.5v1L599.5 544.5zM609.5 542.5L620.5 543.5v1L609.5 543.5zM619.5 543.5h11v1h-11zM629.5 543.5L640.5 542.5v1L629.5 544.5zM639.5 542.5L650.5 543.5v1L639.5 543.5zM649.5 543.5h31v1h-31zM679.5 543.5L690.5 540.5v1L679.5 544.5zM528.5 539.5h3v1h-3zM529.5 538.5h1v3h-1z" fill="#E8823A"/>
<path d="M59.5 543.5h131v1h-131zM189.5 543.5L200.5 542.5v1L189.5 544.5zM199.5 542.5h11v1h-11zM209.5 542.5L220.5 543.5v1L209.5 543.5zM219.5 543.5h11v1h-11zM229.5 543.5L240.5 542.5v1L229.5 544.5zM239.5 542.5L250.5 543.5v1L239.5 543.5zM249.5 543.5h11v1h-11zM259.5 543.5L270.5 542.5v1L259.5 544.5zM269.5 542.5L280.5 543.5v1L269.5 543.5zM279.5 543.5h11v1h-11zM289.5 543.5L300.5 542.5v1L289.5 544.5zM299.5 542.5L310.5 543.5v1L299.5 543.5zM309.5 543.5h31v1h-31zM339.5 543.5L350.5 534.5v1L339.5 544.5zM349.5 534.5L360.5 543.5v1L349.5 535.5zM359.5 543.5L370.5 542.5v1L359.5 544.5zM369.5 542.5L380.5 543.5v1L369.5 543.5zM379.5 543.5h41v1h-41zM419.5 543.5L430.5 542.5v1L419.5 544.5zM429.5 542.5h11v1h-11zM439.5 542.5L450.5 541.5v1L439.5 543.5zM449.5 541.5L460.5 542.5v1L449.5 542.5zM459.5 542.5L470.5 541.5v1L459.5 543.5zM469.5 541.5h11v1h-11zM479.5 541.5L490.5 543.5v1L479.5 542.5zM489.5 543.5L500.5 539.5v1L489.5 544.5zM499.5 539.5L510.5 534.5v1L499.5 540.5zM509.5 534.5L520.5 533.5v1L509.5 535.5zM519.5 533.5L530.5 540.5v1L519.5 534.5zM529.5 540.5L540.5 542.5v1L529.5 541.5zM539.5 542.5h11v1h-11zM549.5 542.5L560.5 540.5v1L549.5 543.5zM559.5 540.5L570.5 543.5v1L559.5 541.5zM569.5 543.5h11v1h-11zM579.5 543.5L590.5 542.5v1L579.5 544.5zM589.5 542.5h11v1h-11zM599.5 542.5L610.5 540.5v1L599.5 543.5zM609.5 540.5L620.5 541.5v1L609.5 541.5zM619.5 541.5h11v1h-11zM629.5 541.5L640.5 542.5v1L629.5 542.5zM639.5 542.5L650.5 543.5v1L639.5 543.5zM649.5 543.5L660.5 541.5v1L649.5 544.5zM659.5 541.5L670.5 543.5v1L659.5 542.5zM679.5 531.5h1L670.5 544.5h-1zM679.5 531.5L690.5 541.5v1L679.5 532.5zM348.5 534.5h3v1h-3zM349.5 533.5h1v3h-1zM498.5 539.5h3v1h-3zM499.5 538.5h1v3h-1zM508.5 534.5h3v1h-3zM509.5 533.5h1v3h-1zM518.5 533.5h3v1h-3zM519.5 532.5h1v3h-1zM678.5 531.5h3v1h-3zM679.5 530.5h1v3h-1z" fill="#88C870"/>
<path d="M59.5 543.5h141v1h-141zM199.5 543.5L210.5 542.5v1L199.5 544.5zM209.5 542.5L220.5 543.5v1L209.5 543.5zM219.5 543.5h21v1h-21zM239.5 543.5L250.5 542.5v1L239.5 544.5zM249.5 542.5h21v1h-21zM269.5 542.5L280.5 543.5v1L269.5 543.5zM279.5 543.5h11v1h-11zM289.5 543.5L300.5 542.5v1L289.5 544.5zM299.5 542.5h11v1h-11zM309.5 542.5L320.5 543.5v1L309.5 543.5zM319.5 543.5L330.5 542.5v1L319.5 544.5zM329.5 542.5h11v1h-11zM339.5 542.5L350.5 543.5v1L339.5 543.5zM349.5 543.5h41v1h-41zM389.5 543.5L400.5 542.5v1L389.5 544.5zM399.5 542.5h21v1h-21zM419.5 542.5L430.5 543.5v1L419.5 543.5zM429.5 543.5h11v1h-11zM439.5 543.5L450.5 542.5v1L439.5 544.5zM449.5 542.5h21v1h-21zM469.5 542.5L480.5 541.5v1L469.5 543.5zM479.5 541.5h11v1h-11zM489.5 541.5L500.5 542.5v1L489.5 542.5zM499.5 542.5h31v1h-31zM529.5 542.5L540.5 540.5v1L529.5 543.5zM539.5 540.5L550.5 541.5v1L539.5 541.5zM549.5 541.5L560.5 540.5v1L549.5 542.5zM559.5 540.5L570.5 541.5v1L559.5 541.5zM569.5 541.5L580.5 542.5v1L569.5 542.5zM579.5 542.5L590.5 541.5v1L579.5 543.5zM589.5 541.5h11v1h-11zM599.5 541.5L610.5 540.5v1L599.5 542.5zM609.5 540.5L620.5 543.5v1L609.5 541.5zM619.5 543.5L630.5 541.5v1L619.5 544.5zM629.5 541.5L640.5 542.5v1L629.5 542.5zM639.5 542.5L650.5 543.5v1L639.5 543.5zM649.5 543.5L660.5 542.5v1L649.5 544.5zM659.5 542.5L670.5 543.5v1L659.5 543.5zM669.5 543.5L680.5 542.5v1L669.5 544.5zM679.5 542.5h11v1h-11z" fill="#F0C010"/>
<path d="M59.5 543.5h191v1h-191zM249.5 543.5L260.5 542.5v1L249.5 544.5zM259.5 542.5L270.5 543.5v1L259.5 543.5zM269.5 543.5h31v1h-31zM299.5 543.5L310.5 542.5v1L299.5 544.5zM309.5 542.5L320.5 543.5v1L309.5 543.5zM319.5 543.5L330.5 542.5v1L319.5 544.5zM329.5 542.5L340.5 543.5v1L329.5 543.5zM339.5 543.5h31v1h-31zM369.5 543.5L380.5 542.5v1L369.5 544.5zM379.5 542.5L390.5 543.5v1L379.5 543.5zM389.5 543.5L400.5 542.5v1L389.5 544.5zM399.5 542.5h41v1h-41zM439.5 542.5L450.5 543.5v1L439.5 543.5zM449.5 543.5L460.5 540.5v1L449.5 544.5zM459.5 540.5L470.5 541.5v1L459.5 541.5zM469.5 541.5L480.5 542.5v1L469.5 542.5zM479.5 542.5L490.5 539.5v1L479.5 543.5zM489.5 539.5L500.5 543.5v1L489.5 540.5zM499.5 543.5L510.5 542.5v1L499.5 544.5zM509.5 542.5h11v1h-11zM519.5 542.5L530.5 543.5v1L519.5 543.5zM529.5 543.5L540.5 542.5v1L529.5 544.5zM539.5 542.5h21v1h-21zM559.5 542.5L570.5 540.5v1L559.5 543.5zM569.5 540.5L580.5 542.5v1L569.5 541.5zM579.5 542.5h11v1h-11zM589.5 542.5L600.5 543.5v1L589.5 543.5zM599.5 543.5L610.5 542.5v1L599.5 544.5zM609.5 542.5h11v1h-11zM619.5 542.5L630.5 541.5v1L619.5 543.5zM629.5 541.5h11v1h-11zM639.5 541.5L650.5 543.5v1L639.5 542.5zM649.5 543.5L660.5 541.5v1L649.5 544.5zM659.5 541.5L670.5 542.5v1L659.5 542.5zM669.5 542.5h11v1h-11zM679.5 542.5L690.5 543.5v1L679.5 543.5zM488.5 539.5h3v1h-3zM489.5 538.5h1v3h-1z" fill="#9050B0"/>
<path d="M59.5 543.5h141v1h-141zM199.5 543.5L210.5 542.5v1L199.5 544.5zM209.5 542.5L220.5 540.5v1L209.5 543.5zM219.5 540.5L230.5 542.5v1L219.5 541.5zM229.5 542.5L240.5 540.5v1L229.5 543.5zM239.5 540.5L250.5 533.5v1L239.5 541.5zM249.5 533.5L260.5 541.5v1L249.5 534.5zM259.5 541.5L270.5 543.5v1L259.5 542.5zM269.5 543.5h11v1h-11zM279.5 543.5L290.5 542.5v1L279.5 544.5zM289.5 542.5h11v1h-11zM299.5 542.5L310.5 543.5v1L299.5 543.5zM309.5 543.5h41v1h-41zM349.5 543.5L360.5 542.5v1L349.5 544.5zM359.5 542.5L370.5 543.5v1L359.5 543.5zM369.5 543.5L380.5 542.5v1L369.5 544.5zM379.5 542.5L390.5 543.5v1L379.5 543.5zM389.5 543.5L400.5 542.5v1L389.5 544.5zM399.5 542.5h11v1h-11zM409.5 542.5L420.5 543.5v1L409.5 543.5zM419.5 543.5h21v1h-21zM439.5 543.5L450.5 542.5v1L439.5 544.5zM449.5 542.5L460.5 541.5v1L449.5 543.5zM459.5 541.5h11v1h-11zM469.5 541.5L480.5 543.5v1L469.5 542.5zM479.5 543.5h11v1h-11zM489.5 543.5L500.5 542.5v1L489.5 544.5zM499.5 542.5L510.5 543.5v1L499.5 543.5zM509.5 543.5L520.5 542.5v1L509.5 544.5zM519.5 542.5L530.5 541.5v1L519.5 543.5zM529.5 541.5L540.5 543.5v1L529.5 542.5zM539.5 543.5h11v1h-11zM549.5 543.5L560.5 539.5v1L549.5 544.5zM559.5 539.5L570.5 543.5v1L559.5 540.5zM569.5 543.5L580.5 542.5v1L569.5 544.5zM579.5 542.5h11v1h-11zM589.5 542.5L600.5 543.5v1L589.5 543.5zM599.5 543.5L610.5 542.5v1L599.5 544.5zM609.5 542.5L620.5 541.5v1L609.5 543.5zM619.5 541.5L630.5 542.5v1L619.5 542.5zM629.5 542.5h11v1h-11zM639.5 542.5L650.5 541.5v1L639.5 543.5zM649.5 541.5L660.5 543.5v1L649.5 542.5zM659.5 543.5h11v1h-11zM669.5 543.5L680.5 541.5v1L669.5 544.5zM679.5 541.5L690.5 542.5v1L679.5 542.5zM248.5 533.5h3v1h-3zM249.5 532.5h1v3h-1zM558.5 539.5h3v1h-3zM559.5 538.5h1v3h-1z" fill="#B05010"/>
<path d="M59.5 543.5h161v1h-161zM219.5 543.5L230.5 542.5v1L219.5 544.5zM229.5 542.5L240.5 543.5v1L229.5 543.5zM239.5 543.5h91v1h-91zM329.5 543.5L340.5 542.5v1L329.5 544.5zM339.5 542.5L350.5 543.5v1L339.5 543.5zM349.5 543.5L360.5 542.5v1L349.5 544.5zM359.5 542.5L370.5 543.5v1L359.5 543.5zM369.5 543.5h11v1h-11zM379.5 543.5L390.5 542.5v1L379.5 544.5zM389.5 542.5L400.5 543.5v1L389.5 543.5zM399.5 543.5h51v1h-51zM449.5 543.5L460.5 542.5v1L449.5 544.5zM459.5 542.5h11v1h-11zM469.5 542.5L480.5 541.5v1L469.5 543.5zM479.5 541.5L490.5 542.5v1L479.5 542.5zM489.5 542.5h31v1h-31zM519.5 542.5L530.5 543.5v1L519.5 543.5zM529.5 543.5h21v1h-21zM549.5 543.5L560.5 542.5v1L549.5 544.5zM559.5 542.5L570.5 541.5v1L559.5 543.5zM569.5 541.5h11v1h-11zM579.5 541.5L590.5 542.5v1L579.5 542.5zM589.5 542.5L600.5 540.5v1L589.5 543.5zM599.5 540.5L610.5 543.5v1L599.5 541.5zM609.5 543.5L620.5 541.5v1L609.5 544.5zM619.5 541.5h11v1h-11zM629.5 541.5L640.5 542.5v1L629.5 542.5zM639.5 542.5L650.5 543.5v1L639.5 543.5zM649.5 543.5L660.5 541.5v1L649.5 544.5zM659.5 541.5L670.5 542.5v1L659.5 542.5zM669.5 542.5L680.5 539.5v1L669.5 543.5zM679.5 539.5L690.5 541.5v1L679.5 540.5zM678.5 539.5h3v1h-3zM679.5 538.5h1v3h-1z" fill="#508010"/>
<path d="M59.5 543.5h181v1h-181zM239.5 543.5L250.5 542.5v1L239.5 544.5zM249.5 542.5h11v1h-11zM259.5 542.5L270.5 543.5v1L259.5 543.5zM269.5 543.5h41v1h-41zM309.5 543.5L320.5 542.5v1L309.5 544.5zM319.5 542.5L330.5 543.5v1L319.5 543.5zM329.5 543.5h21v1h-21zM349.5 543.5L360.5 542.5v1L349.5 544.5zM359.5 542.5L370.5 543.5v1L359.5 543.5zM369.5 543.5h11v1h-11zM379.5 543.5L390.5 542.5v1L379.5 544.5zM389.5 542.5L400.5 543.5v1L389.5 543.5zM399.5 543.5h31v1h-31zM429.5 543.5L440.5 542.5v1L429.5 544.5zM439.5 542.5L450.5 543.5v1L439.5 543.5zM449.5 543.5L460.5 542.5v1L449.5 544.5zM459.5 542.5L470.5 543.5v1L459.5 543.5zM469.5 543.5L480.5 540.5v1L469.5 544.5zM479.5 540.5L490.5 542.5v1L479.5 541.5zM489.5 542.5L500.5 543.5v1L489.5 543.5zM499.5 543.5L510.5 540.5v1L499.5 544.5zM509.5 540.5L520.5 539.5v1L509.5 541.5zM529.5 521.5h1L520.5 540.5h-1zM529.5 521.5h1L540.5 543.5h-1zM539.5 542.5L550.5 541.5v1L539.5 543.5zM549.5 541.5L560.5 540.5v1L549.5 542.5zM559.5 540.5L570.5 542.5v1L559.5 541.5zM569.5 542.5h21v1h-21zM589.5 542.5L600.5 541.5v1L589.5 543.5zM599.5 541.5h11v1h-11zM609.5 541.5L620.5 542.5v1L609.5 542.5zM619.5 542.5L630.5 543.5v1L619.5 543.5zM629.5 543.5L640.5 542.5v1L629.5 544.5zM639.5 542.5h11v1h-11zM649.5 542.5L660.5 541.5v1L649.5 543.5zM669.5 528.5h1L660.5 542.5h-1zM669.5 528.5h1L680.5 540.5h-1zM679.5 539.5L690.5 542.5v1L679.5 540.5zM518.5 539.5h3v1h-3zM519.5 538.5h1v3h-1zM528.5 521.5h3v1h-3zM529.5 520.5h1v3h-1zM668.5 528.5h3v1h-3zM669.5 527.5h1v3h-1zM678.5 539.5h3v1h-3zM679.5 538.5h1v3h-1z" fill="#1080F0"/>
<path d="M59.5 543.5h161v1h-161zM219.5 543.5L230.5 542.5v1L219.5 544.5zM229.5 542.5h11v1h-11zM239.5 542.5L250.5 543.5v1L239.5 543.5zM249.5 543.5h51v1h-51zM299.5 543.5L310.5 542.5v1L299.5 544.5zM309.5 542.5h21v1h-21zM329.5 542.5L340.5 543.5v1L329.5 543.5zM339.5 543.5h11v1h-11zM349.5 543.5L360.5 542.5v1L349.5 544.5zM359.5 542.5h11v1h-11zM369.5 542.5L380.5 543.5v1L369.5 543.5zM379.5 543.5h21v1h-21zM399.5 543.5L410.5 542.5v1L399.5 544.5zM409.5 542.5L420.5 543.5v1L409.5 543.5zM419.5 543.5h11v1h-11zM429.5 543.5L440.5 542.5v1L429.5 544.5zM439.5 542.5L450.5 539.5v1L439.5 543.5zM449.5 539.5L460.5 541.5v1L449.5 540.5zM459.5 541.5L470.5 542.5v1L459.5 542.5zM469.5 542.5h11v1h-11zM479.5 542.5L490.5 543.5v1L479.5 543.5zM489.5 543.5h11v1h-11zM499.5 543.5L510.5 541.5v1L499.5 544.5zM509.5 541.5L520.5 542.5v1L509.5 542.5zM519.5 542.5h11v1h-11zM529.5 542.5L540.5 538.5v1L529.5 543.5zM539.5 538.5L550.5 543.5v1L539.5 539.5zM549.5 543.5L560.5 541.5v1L549.5 544.5zM559.5 541.5h11v1h-11zM569.5 541.5L580.5 542.5v1L569.5 542.5zM579.5 542.5L590.5 541.5v1L579.5 543.5zM589.5 541.5L600.5 542.5v1L589.5 542.5zM599.5 542.5h11v1h-11zM609.5 542.5L620.5 543.5v1L609.5 543.5zM619.5 543.5L630.5 542.5v1L619.5 544.5zM629.5 542.5h41v1h-41zM669.5 542.5L680.5 541.5v1L669.5 543.5zM679.5 541.5L690.5 540.5v1L679.5 542.5zM448.5 539.5h3v1h-3zM449.5 538.5h1v3h-1zM538.5 538.5h3v1h-3zM539.5 537.5h1v3h-1z" fill="#E8D8B0"/>
<path d="M59.5 543.5h141v1h-141zM199.5 543.5L210.5 542.5v1L199.5 544.5zM209.5 542.5L220.5 543.5v1L209.5 543.5zM219.5 543.5L230.5 542.5v1L219.5 544.5zM229.5 542.5L240.5 543.5v1L229.5 543.5zM239.5 543.5h11v1h-11zM249.5 543.5L260.5 542.5v1L249.5 544.5zM259.5 542.5L270.5 543.5v1L259.5 543.5zM269.5 543.5h11v1h-11zM279.5 543.5L290.5 540.5v1L279.5 544.5zM289.5 540.5L300.5 543.5v1L289.5 541.5zM299.5 543.5L310.5 542.5v1L299.5 544.5zM309.5 542.5L320.5 543.5v1L309.5 543.5zM319.5 543.5L330.5 542.5v1L319.5 544.5zM329.5 542.5L340.5 543.5v1L329.5 543.5zM339.5 543.5L350.5 542.5v1L339.5 544.5zM349.5 542.5L360.5 543.5v1L349.5 543.5zM359.5 543.5L370.5 542.5v1L359.5 544.5zM369.5 542.5h11v1h-11zM379.5 542.5L390.5 543.5v1L379.5 543.5zM389.5 543.5h51v1h-51zM439.5 543.5L450.5 542.5v1L439.5 544.5zM449.5 542.5L460.5 538.5v1L449.5 543.5zM459.5 538.5L470.5 543.5v1L459.5 539.5zM469.5 543.5L480.5 542.5v1L469.5 544.5zM479.5 542.5L490.5 543.5v1L479.5 543.5zM489.5 543.5L500.5 542.5v1L489.5 544.5zM499.5 542.5h11v1h-11zM509.5 542.5L520.5 535.5v1L509.5 543.5zM529.5 499.5h1L520.5 536.5h-1zM539.5 324.5h1L530.5 500.5h-1zM539.5 324.5h1L550.5 495.5h-1zM549.5 494.5h1L560.5 540.5h-1zM559.5 539.5L570.5 541.5v1L559.5 540.5zM569.5 541.5L580.5 542.5v1L569.5 542.5zM579.5 542.5L590.5 541.5v1L579.5 543.5zM589.5 541.5L600.5 543.5v1L589.5 542.5zM599.5 543.5L610.5 542.5v1L599.5 544.5zM609.5 542.5L620.5 543.5v1L609.5 543.5zM619.5 543.5L630.5 542.5v1L619.5 544.5zM629.5 542.5L640.5 541.5v1L629.5 543.5zM639.5 541.5h11v1h-11zM649.5 541.5L660.5 542.5v1L649.5 542.5zM659.5 542.5L670.5 543.5v1L659.5 543.5zM669.5 543.5h11v1h-11zM679.5 543.5L690.5 542.5v1L679.5 544.5zM458.5 538.5h3v1h-3zM459.5 537.5h1v3h-1zM518.5 535.5h3v1h-3zM519.5 534.5h1v3h-1zM528.5 499.5h3v1h-3zM529.5 498.5h1v3h-1zM538.5 324.5h3v1h-3zM539.5 323.5h1v3h-1zM548.5 494.5h3v1h-3zM549.5 493.5h1v3h-1zM558.5 539.5h3v1h-3zM559.5 538.5h1v3h-1z" fill="#4090C0"/>
<path d="M59.5 543.5h131v1h-131zM189.5 543.5L200.5 542.5v1L189.5 544.5zM199.5 542.5L210.5 543.5v1L199.5 543.5zM209.5 543.5h11v1h-11zM219.5 543.5L230.5 542.5v1L219.5 544.5zM229.5 542.5h21v1h-21zM249.5 542.5L260.5 543.5v1L249.5 543.5zM259.5 543.5h71v1h-71zM339.5 525.5h1L330.5 544.5h-1zM349.5 471.5h1L340.5 526.5h-1zM349.5 471.5h1L360.5 502.5h-1zM359.5 501.5h1L370.5 543.5h-1zM369.5 542.5L380.5 543.5v1L369.5 543.5zM379.5 543.5h41v1h-41zM419.5 543.5L430.5 540.5v1L419.5 544.5zM429.5 540.5L440.5 536.5v1L429.5 541.5zM439.5 536.5L450.5 542.5v1L439.5 537.5zM449.5 542.5h11v1h-11zM459.5 542.5L470.5 543.5v1L459.5 543.5zM469.5 543.5h21v1h-21zM489.5 543.5L500.5 542.5v1L489.5 544.5zM499.5 542.5L510.5 541.5v1L499.5 543.5zM509.5 541.5h21v1h-21zM529.5 541.5L540.5 543.5v1L529.5 542.5zM539.5 543.5L550.5 542.5v1L539.5 544.5zM549.5 542.5h31v1h-31zM579.5 542.5L590.5 540.5v1L579.5 543.5zM589.5 540.5L600.5 542.5v1L589.5 541.5zM599.5 542.5h31v1h-31zM629.5 542.5L640.5 543.5v1L629.5 543.5zM639.5 543.5h11v1h-11zM649.5 543.5L660.5 541.5v1L649.5 544.5zM659.5 541.5L670.5 542.5v1L659.5 542.5zM669.5 542.5h11v1h-11zM679.5 542.5L690.5 541.5v1L679.5 543.5zM338.5 525.5h3v1h-3zM339.5 524.5h1v3h-1zM348.5 471.5h3v1h-3zM349.5 470.5h1v3h-1zM358.5 501.5h3v1h-3zM359.5 500.5h1v3h-1zM438.5 536.5h3v1h-3zM439.5 535.5h1v3h-1z" fill="#E8A858"/>
<path d="M59.5 543.5h171v1h-171zM229.5 543.5L240.5 542.5v1L229.5 544.5zM239.5 542.5L250.5 543.5v1L239.5 543.5zM249.5 543.5L260.5 542.5v1L249.5 544.5zM259.5 542.5L270.5 543.5v1L259.5 543.5zM269.5 543.5L280.5 542.5v1L269.5 544.5zM279.5 542.5L290.5 543.5v1L279.5 543.5zM289.5 543.5L300.5 542.5v1L289.5 544.5zM299.5 542.5L310.5 543.5v1L299.5 543.5zM309.5 543.5h11v1h-11zM319.5 543.5L330.5 542.5v1L319.5 544.5zM329.5 542.5h11v1h-11zM339.5 542.5L350.5 543.5v1L339.5 543.5zM349.5 543.5L360.5 542.5v1L349.5 544.5zM359.5 542.5L370.5 543.5v1L359.5 543.5zM369.5 543.5L380.5 542.5v1L369.5 544.5zM379.5 542.5h11v1h-11zM389.5 542.5L400.5 543.5v1L389.5 543.5zM399.5 543.5h11v1h-11zM409.5 543.5L420.5 542.5v1L409.5 544.5zM419.5 542.5L430.5 543.5v1L419.5 543.5zM429.5 543.5h21v1h-21zM449.5 543.5L460.5 542.5v1L449.5 544.5zM459.5 542.5h11v1h-11zM469.5 542.5L480.5 541.5v1L469.5 543.5zM479.5 541.5L490.5 542.5v1L479.5 542.5zM489.5 542.5L500.5 543.5v1L489.5 543.5zM499.5 543.5h21v1h-21zM519.5 543.5L530.5 541.5v1L519.5 544.5zM529.5 541.5L540.5 538.5v1L529.5 542.5zM539.5 538.5L550.5 539.5v1L539.5 539.5zM549.5 539.5L560.5 542.5v1L549.5 540.5zM559.5 542.5L570.5 541.5v1L559.5 543.5zM569.5 541.5L580.5 543.5v1L569.5 542.5zM579.5 543.5L590.5 541.5v1L579.5 544.5zM589.5 541.5L600.5 540.5v1L589.5 542.5zM599.5 540.5L610.5 542.5v1L599.5 541.5zM609.5 542.5L620.5 541.5v1L609.5 543.5zM619.5 541.5L630.5 542.5v1L619.5 542.5zM629.5 542.5L640.5 543.5v1L629.5 543.5zM639.5 543.5L650.5 542.5v1L639.5 544.5zM649.5 542.5h11v1h-11zM659.5 542.5L670.5 538.5v1L659.5 543.5zM669.5 538.5L680.5 541.5v1L669.5 539.5zM679.5 541.5L690.5 543.5v1L679.5 542.5zM538.5 538.5h3v1h-3zM539.5 537.5h1v3h-1zM548.5 539.5h3v1h-3zM549.5 538.5h1v3h-1zM668.5 538.5h3v1h-3zM669.5 537.5h1v3h-1z" fill="#605020"/>
<path d="M59.5 543.5h131v1h-131zM189.5 543.5L200.5 542.5v1L189.5 544.5zM199.5 542.5L210.5 543.5v1L199.5 543.5zM209.5 543.5L220.5 542.5v1L209.5 544.5zM219.5 542.5h11v1h-11zM229.5 542.5L240.5 543.5v1L229.5 543.5zM239.5 543.5h11v1h-11zM249.5 543.5L260.5 542.5v1L249.5 544.5zM259.5 542.5h11v1h-11zM269.5 542.5L280.5 543.5v1L269.5 543.5zM279.5 543.5h11v1h-11zM289.5 543.5L300.5 542.5v1L289.5 544.5zM299.5 542.5L310.5 543.5v1L299.5 543.5zM309.5 543.5h11v1h-11zM319.5 543.5L330.5 542.5v1L319.5 544.5zM329.5 542.5L340.5 543.5v1L329.5 543.5zM339.5 543.5h41v1h-41zM379.5 543.5L390.5 542.5v1L379.5 544.5zM389.5 542.5L400.5 543.5v1L389.5 543.5zM399.5 543.5L410.5 542.5v1L399.5 544.5zM409.5 542.5L420.5 543.5v1L409.5 543.5zM419.5 543.5h21v1h-21zM439.5 543.5L450.5 542.5v1L439.5 544.5zM449.5 542.5h21v1h-21zM469.5 542.5L480.5 543.5v1L469.5 543.5zM479.5 543.5h11v1h-11zM489.5 543.5L500.5 541.5v1L489.5 544.5zM499.5 541.5L510.5 542.5v1L499.5 542.5zM509.5 542.5h21v1h-21zM529.5 542.5L540.5 540.5v1L529.5 543.5zM539.5 540.5L550.5 542.5v1L539.5 541.5zM549.5 542.5L560.5 541.5v1L549.5 543.5zM559.5 541.5h21v1h-21zM579.5 541.5L590.5 542.5v1L579.5 542.5zM589.5 542.5h11v1h-11zM599.5 542.5L610.5 543.5v1L599.5 543.5zM609.5 543.5L620.5 542.5v1L609.5 544.5zM619.5 542.5L630.5 537.5v1L619.5 543.5zM629.5 537.5L640.5 543.5v1L629.5 538.5zM639.5 543.5L650.5 541.5v1L639.5 544.5zM649.5 541.5L660.5 543.5v1L649.5 542.5zM659.5 543.5L670.5 542.5v1L659.5 544.5zM669.5 542.5L680.5 543.5v1L669.5 543.5zM679.5 543.5h11v1h-11zM628.5 537.5h3v1h-3zM629.5 536.5h1v3h-1z" fill="#F06820"/>
<path d="M59.5 543.5h141v1h-141zM199.5 543.5L210.5 542.5v1L199.5 544.5zM209.5 542.5L220.5 543.5v1L209.5 543.5zM219.5 543.5L230.5 542.5v1L219.5 544.5zM229.5 542.5h11v1h-11zM239.5 542.5L250.5 543.5v1L239.5 543.5zM249.5 543.5L260.5 542.5v1L249.5 544.5zM259.5 542.5L270.5 543.5v1L259.5 543.5zM269.5 543.5h51v1h-51zM319.5 543.5L330.5 542.5v1L319.5 544.5zM329.5 542.5L340.5 543.5v1L329.5 543.5zM339.5 543.5h11v1h-11zM349.5 543.5L360.5 542.5v1L349.5 544.5zM359.5 542.5L370.5 543.5v1L359.5 543.5zM369.5 543.5h41v1h-41zM409.5 543.5L420.5 542.5v1L409.5 544.5zM419.5 542.5L430.5 543.5v1L419.5 543.5zM429.5 543.5L440.5 542.5v1L429.5 544.5zM439.5 542.5L450.5 543.5v1L439.5 543.5zM449.5 543.5L460.5 542.5v1L449.5 544.5zM459.5 542.5L470.5 540.5v1L459.5 543.5zM469.5 540.5L480.5 542.5v1L469.5 541.5zM479.5 542.5h11v1h-11zM489.5 542.5L500.5 540.5v1L489.5 543.5zM499.5 540.5L510.5 541.5v1L499.5 541.5zM509.5 541.5L520.5 543.5v1L509.5 542.5zM519.5 543.5h11v1h-11zM529.5 543.5L540.5 540.5v1L529.5 544.5zM539.5 540.5h21v1h-21zM559.5 540.5L570.5 541.5v1L559.5 541.5zM569.5 541.5L580.5 542.5v1L569.5 542.5zM579.5 542.5h11v1h-11zM589.5 542.5L600.5 543.5v1L589.5 543.5zM599.5 543.5L610.5 541.5v1L599.5 544.5zM609.5 541.5h31v1h-31zM639.5 541.5L650.5 543.5v1L639.5 542.5zM649.5 543.5h11v1h-11zM659.5 543.5L670.5 542.5v1L659.5 544.5zM669.5 542.5h11v1h-11zM679.5 542.5L690.5 543.5v1L679.5 543.5z" fill="#D0C080"/>
<path d="M59.5 543.5h161v1h-161zM219.5 543.5L230.5 542.5v1L219.5 544.5zM229.5 542.5L240.5 543.5v1L229.5 543.5zM239.5 543.5h21v1h-21zM259.5 543.5L270.5 542.5v1L259.5 544.5zM269.5 542.5L280.5 543.5v1L269.5 543.5zM279.5 543.5L290.5 542.5v1L279.5 544.5zM289.5 542.5h21v1h-21zM309.5 542.5L320.5 543.5v1L309.5 543.5zM319.5 543.5L330.5 542.5v1L319.5 544.5zM329.5 542.5L340.5 543.5v1L329.5 543.5zM339.5 543.5L350.5 542.5v1L339.5 544.5zM349.5 542.5L360.5 543.5v1L349.5 543.5zM359.5 543.5h11v1h-11zM369.5 543.5L380.5 542.5v1L369.5 544.5zM379.5 542.5L390.5 543.5v1L379.5 543.5zM389.5 543.5L400.5 542.5v1L389.5 544.5zM399.5 542.5L410.5 543.5v1L399.5 543.5zM409.5 543.5L420.5 542.5v1L409.5 544.5zM419.5 542.5L430.5 543.5v1L419.5 543.5zM429.5 543.5L440.5 542.5v1L429.5 544.5zM439.5 542.5L450.5 540.5v1L439.5 543.5zM449.5 540.5L460.5 542.5v1L449.5 541.5zM459.5 542.5L470.5 541.5v1L459.5 543.5zM479.5 530.5h1L470.5 542.5h-1zM489.5 462.5h1L480.5 531.5h-1zM489.5 462.5h1L500.5 501.5h-1zM499.5 500.5L510.5 495.5v1L499.5 501.5zM509.5 495.5h1L520.5 519.5h-1zM519.5 518.5h1L530.5 534.5h-1zM529.5 533.5L540.5 539.5v1L529.5 534.5zM539.5 539.5L550.5 542.5v1L539.5 540.5zM549.5 542.5h11v1h-11zM559.5 542.5L570.5 541.5v1L559.5 543.5zM569.5 541.5L580.5 542.5v1L569.5 542.5zM579.5 542.5h71v1h-71zM649.5 542.5L660.5 543.5v1L649.5 543.5zM659.5 543.5L670.5 542.5v1L659.5 544.5zM669.5 542.5L680.5 541.5v1L669.5 543.5zM679.5 541.5L690.5 542.5v1L679.5 542.5zM478.5 530.5h3v1h-3zM479.5 529.5h1v3h-1zM488.5 462.5h3v1h-3zM489.5 461.5h1v3h-1zM498.5 500.5h3v1h-3zM499.5 499.5h1v3h-1zM508.5 495.5h3v1h-3zM509.5 494.5h1v3h-1zM518.5 518.5h3v1h-3zM519.5 517.5h1v3h-1zM528.5 533.5h3v1h-3zM529.5 532.5h1v3h-1zM538.5 539.5h3v1h-3zM539.5 538.5h1v3h-1z" fill="#10D060"/>
<path d="M59.5 543.5h161v1h-161zM219.5 543.5L230.5 542.5v1L219.5 544.5zM229.5 542.5L240.5 543.5v1L229.5 543.5zM239.5 543.5h21v1h-21zM259.5 543.5L270.5 542.5v1L259.5 544.5zM269.5 542.5L280.5 543.5v1L269.5 543.5zM279.5 543.5h11v1h-11zM289.5 543.5L300.5 542.5v1L289.5 544.5zM299.5 542.5L310.5 543.5v1L299.5 543.5zM309.5 543.5h31v1h-31zM339.5 543.5L350.5 542.5v1L339.5 544.5zM349.5 542.5h21v1h-21zM369.5 542.5L380.5 543.5v1L369.5 543.5zM379.5 543.5h61v1h-61zM439.5 543.5L450.5 542.5v1L439.5 544.5zM449.5 542.5h11v1h-11zM459.5 542.5L470.5 539.5v1L459.5 543.5zM469.5 539.5L480.5 540.5v1L469.5 540.5zM479.5 540.5L490.5 543.5v1L479.5 541.5zM489.5 543.5L500.5 542.5v1L489.5 544.5zM499.5 542.5h11v1h-11zM509.5 542.5L520.5 541.5v1L509.5 543.5zM519.5 541.5L530.5 542.5v1L519.5 542.5zM529.5 542.5h21v1h-21zM549.5 542.5L560.5 543.5v1L549.5 543.5zM559.5 543.5h21v1h-21zM579.5 543.5L590.5 541.5v1L579.5 544.5zM589.5 541.5L600.5 542.5v1L589.5 542.5zM599.5 542.5h11v1h-11zM609.5 542.5L620.5 541.5v1L609.5 543.5zM619.5 541.5L630.5 540.5v1L619.5 542.5zM629.5 540.5L640.5 543.5v1L629.5 541.5zM639.5 543.5L650.5 542.5v1L639.5 544.5zM649.5 542.5h11v1h-11zM659.5 542.5L670.5 543.5v1L659.5 543.5zM669.5 543.5L680.5 542.5v1L669.5 544.5zM679.5 542.5h11v1h-11zM468.5 539.5h3v1h-3zM469.5 538.5h1v3h-1z" fill="#204060"/>
<path d="M59.5 543.5h141v1h-141zM199.5 543.5L210.5 542.5v1L199.5 544.5zM209.5 542.5L220.5 543.5v1L209.5 543.5zM219.5 543.5h41v1h-41zM259.5 543.5L270.5 542.5v1L259.5 544.5zM269.5 542.5h11v1h-11zM279.5 542.5L290.5 543.5v1L279.5 543.5zM289.5 543.5L300.5 542.5v1L289.5 544.5zM299.5 542.5h11v1h-11zM309.5 542.5L320.5 543.5v1L309.5 543.5zM319.5 543.5L330.5 542.5v1L319.5 544.5zM329.5 542.5L340.5 543.5v1L329.5 543.5zM339.5 543.5L350.5 538.5v1L339.5 544.5zM359.5 519.5h1L350.5 539.5h-1zM359.5 519.5h1L370.5 544.5h-1zM369.5 543.5L380.5 542.5v1L369.5 544.5zM379.5 542.5L390.5 543.5v1L379.5 543.5zM389.5 543.5L400.5 542.5v1L389.5 544.5zM399.5 542.5L410.5 543.5v1L399.5 543.5zM409.5 543.5h11v1h-11zM419.5 543.5L430.5 542.5v1L419.5 544.5zM429.5 542.5L440.5 543.5v1L429.5 543.5zM439.5 543.5L450.5 542.5v1L439.5 544.5zM449.5 542.5L460.5 540.5v1L449.5 543.5zM459.5 540.5L470.5 542.5v1L459.5 541.5zM469.5 542.5L480.5 540.5v1L469.5 543.5zM479.5 540.5L490.5 543.5v1L479.5 541.5zM489.5 543.5L500.5 542.5v1L489.5 544.5zM499.5 542.5L510.5 543.5v1L499.5 543.5zM509.5 543.5L520.5 542.5v1L509.5 544.5zM519.5 542.5h11v1h-11zM529.5 542.5L540.5 540.5v1L529.5 543.5zM539.5 540.5L550.5 541.5v1L539.5 541.5zM549.5 541.5L560.5 543.5v1L549.5 542.5zM559.5 543.5L570.5 541.5v1L559.5 544.5zM569.5 541.5L580.5 543.5v1L569.5 542.5zM579.5 543.5h11v1h-11zM589.5 543.5L600.5 539.5v1L589.5 544.5zM599.5 539.5L610.5 543.5v1L599.5 540.5zM609.5 543.5L620.5 540.5v1L609.5 544.5zM619.5 540.5L630.5 541.5v1L619.5 541.5zM629.5 541.5L640.5 543.5v1L629.5 542.5zM639.5 543.5h31v1h-31zM669.5 543.5L680.5 541.5v1L669.5 544.5zM679.5 541.5L690.5 543.5v1L679.5 542.5zM348.5 538.5h3v1h-3zM349.5 537.5h1v3h-1zM358.5 519.5h3v1h-3zM359.5 518.5h1v3h-1zM598.5 539.5h3v1h-3zM599.5 538.5h1v3h-1z" fill="#607080"/>
<path d="M59.5 543.5h151v1h-151zM209.5 543.5L220.5 542.5v1L209.5 544.5zM219.5 542.5L230.5 543.5v1L219.5 543.5zM229.5 543.5h91v1h-91zM319.5 543.5L330.5 542.5v1L319.5 544.5zM329.5 542.5h11v1h-11zM339.5 542.5L350.5 543.5v1L339.5 543.5zM349.5 543.5h11v1h-11zM359.5 543.5L370.5 539.5v1L359.5 544.5zM369.5 539.5L380.5 538.5v1L369.5 540.5zM379.5 538.5L390.5 542.5v1L379.5 539.5zM389.5 542.5L400.5 543.5v1L389.5 543.5zM399.5 543.5L410.5 542.5v1L399.5 544.5zM409.5 542.5L420.5 543.5v1L409.5 543.5zM419.5 543.5h21v1h-21zM439.5 543.5L450.5 540.5v1L439.5 544.5zM449.5 540.5L460.5 541.5v1L449.5 541.5zM459.5 541.5L470.5 542.5v1L459.5 542.5zM469.5 542.5L480.5 540.5v1L469.5 543.5zM479.5 540.5L490.5 541.5v1L479.5 541.5zM489.5 541.5L500.5 542.5v1L489.5 542.5zM499.5 542.5h11v1h-11zM509.5 542.5L520.5 541.5v1L509.5 543.5zM519.5 541.5h11v1h-11zM529.5 541.5L540.5 543.5v1L529.5 542.5zM539.5 543.5L550.5 541.5v1L539.5 544.5zM549.5 541.5L560.5 540.5v1L549.5 542.5zM559.5 540.5L570.5 541.5v1L559.5 541.5zM569.5 541.5L580.5 540.5v1L569.5 542.5zM579.5 540.5L590.5 543.5v1L579.5 541.5zM589.5 543.5L600.5 542.5v1L589.5 544.5zM599.5 542.5L610.5 541.5v1L599.5 543.5zM609.5 541.5L620.5 542.5v1L609.5 542.5zM619.5 542.5L630.5 539.5v1L619.5 543.5zM629.5 539.5L640.5 541.5v1L629.5 540.5zM639.5 541.5h11v1h-11zM649.5 541.5L660.5 542.5v1L649.5 542.5zM659.5 542.5L670.5 541.5v1L659.5 543.5zM669.5 541.5L680.5 538.5v1L669.5 542.5zM679.5 538.5L690.5 541.5v1L679.5 539.5zM368.5 539.5h3v1h-3zM369.5 538.5h1v3h-1zM378.5 538.5h3v1h-3zM379.5 537.5h1v3h-1zM628.5 539.5h3v1h-3zM629.5 538.5h1v3h-1zM678.5 538.5h3v1h-3zM679.5 537.5h1v3h-1z" fill="#E070F0"/>
<path d="M59.5 543.5h141v1h-141zM199.5 543.5L210.5 542.5v1L199.5 544.5zM209.5 542.5L220.5 543.5v1L209.5 543.5zM219.5 543.5h41v1h-41zM259.5 543.5L270.5 542.5v1L259.5 544.5zM269.5 542.5L280.5 543.5v1L269.5 543.5zM279.5 543.5L290.5 542.5v1L279.5 544.5zM289.5 542.5L300.5 543.5v1L289.5 543.5zM299.5 543.5L310.5 542.5v1L299.5 544.5zM309.5 542.5L320.5 543.5v1L309.5 543.5zM319.5 543.5h21v1h-21zM339.5 543.5L350.5 542.5v1L339.5 544.5zM349.5 542.5L360.5 543.5v1L349.5 543.5zM359.5 543.5L370.5 542.5v1L359.5 544.5zM369.5 542.5L380.5 543.5v1L369.5 543.5zM379.5 543.5h21v1h-21zM399.5 543.5L410.5 539.5v1L399.5 544.5zM409.5 539.5h11v1h-11zM419.5 539.5L430.5 543.5v1L419.5 540.5zM429.5 543.5h11v1h-11zM439.5 543.5L450.5 541.5v1L439.5 544.5zM449.5 541.5L460.5 542.5v1L449.5 542.5zM459.5 542.5L470.5 540.5v1L459.5 543.5zM469.5 540.5L480.5 542.5v1L469.5 541.5zM479.5 542.5h11v1h-11zM489.5 542.5L500.5 541.5v1L489.5 543.5zM499.5 541.5L510.5 543.5v1L499.5 542.5zM509.5 543.5L520.5 541.5v1L509.5 544.5zM519.5 541.5L530.5 543.5v1L519.5 542.5zM529.5 543.5L540.5 542.5v1L529.5 544.5zM539.5 542.5L550.5 541.5v1L539.5 543.5zM549.5 541.5L560.5 543.5v1L549.5 542.5zM559.5 543.5L570.5 541.5v1L559.5 544.5zM569.5 541.5L580.5 543.5v1L569.5 542.5zM579.5 543.5L590.5 542.5v1L579.5 544.5zM589.5 542.5L600.5 541.5v1L589.5 543.5zM599.5 541.5L610.5 543.5v1L599.5 542.5zM609.5 543.5L620.5 541.5v1L609.5 544.5zM619.5 541.5L630.5 540.5v1L619.5 542.5zM629.5 540.5L640.5 543.5v1L629.5 541.5zM639.5 543.5h11v1h-11zM649.5 543.5L660.5 541.5v1L649.5 544.5zM659.5 541.5L670.5 539.5v1L659.5 542.5zM669.5 539.5L680.5 542.5v1L669.5 540.5zM679.5 542.5L690.5 541.5v1L679.5 543.5zM408.5 539.5h3v1h-3zM409.5 538.5h1v3h-1zM418.5 539.5h3v1h-3zM419.5 538.5h1v3h-1zM668.5 539.5h3v1h-3zM669.5 538.5h1v3h-1z" fill="#8020F0"/>
<path d="M59.5 543.5h131v1h-131zM189.5 543.5L200.5 542.5v1L189.5 544.5zM199.5 542.5h21v1h-21zM219.5 542.5L230.5 543.5v1L219.5 543.5zM229.5 543.5L240.5 542.5v1L229.5 544.5zM239.5 542.5L250.5 543.5v1L239.5 543.5zM249.5 543.5L260.5 542.5v1L249.5 544.5zM259.5 542.5L270.5 543.5v1L259.5 543.5zM269.5 543.5L280.5 542.5v1L269.5 544.5zM279.5 542.5h21v1h-21zM299.5 542.5L310.5 543.5v1L299.5 543.5zM309.5 543.5h61v1h-61zM369.5 543.5L380.5 542.5v1L369.5 544.5zM379.5 542.5L390.5 543.5v1L379.5 543.5zM389.5 543.5h11v1h-11zM399.5 543.5L410.5 542.5v1L399.5 544.5zM409.5 542.5h11v1h-11zM419.5 542.5L430.5 536.5v1L419.5 543.5zM429.5 536.5L440.5 542.5v1L429.5 537.5zM439.5 542.5L450.5 537.5v1L439.5 543.5zM449.5 537.5L460.5 542.5v1L449.5 538.5zM459.5 542.5L470.5 543.5v1L459.5 543.5zM469.5 543.5h11v1h-11zM479.5 543.5L490.5 541.5v1L479.5 544.5zM489.5 541.5L500.5 543.5v1L489.5 542.5zM499.5 543.5L510.5 541.5v1L499.5 544.5zM509.5 541.5h11v1h-11zM519.5 541.5L530.5 542.5v1L519.5 542.5zM529.5 542.5L540.5 541.5v1L529.5 543.5zM539.5 541.5L550.5 539.5v1L539.5 542.5zM549.5 539.5h11v1h-11zM559.5 539.5L570.5 542.5v1L559.5 540.5zM569.5 542.5L580.5 543.5v1L569.5 543.5zM579.5 543.5L590.5 542.5v1L579.5 544.5zM589.5 542.5L600.5 543.5v1L589.5 543.5zM599.5 543.5h11v1h-11zM609.5 543.5L620.5 541.5v1L609.5 544.5zM619.5 541.5L630.5 543.5v1L619.5 542.5zM629.5 543.5L640.5 542.5v1L629.5 544.5zM649.5 522.5h1L640.5 543.5h-1zM649.5 522.5h1L660.5 543.5h-1zM659.5 542.5h21v1h-21zM679.5 542.5L690.5 541.5v1L679.5 543.5zM428.5 536.5h3v1h-3zM429.5 535.5h1v3h-1zM448.5 537.5h3v1h-3zM449.5 536.5h1v3h-1zM548.5 539.5h3v1h-3zM549.5 538.5h1v3h-1zM558.5 539.5h3v1h-3zM559.5 538.5h1v3h-1zM648.5 522.5h3v1h-3zM649.5 521.5h1v3h-1z" fill="#806030"/>
<path d="M59.5 543.5h171v1h-171zM229.5 543.5L240.5 542.5v1L229.5 544.5zM239.5 542.5L250.5 543.5v1L239.5 543.5zM249.5 543.5h21v1h-21zM269.5 543.5L280.5 542.5v1L269.5 544.5zM279.5 542.5L290.5 543.5v1L279.5 543.5zM289.5 543.5h51v1h-51zM339.5 543.5L350.5 542.5v1L339.5 544.5zM349.5 542.5L360.5 543.5v1L349.5 543.5zM359.5 543.5L370.5 542.5v1L359.5 544.5zM369.5 542.5h11v1h-11zM379.5 542.5L390.5 543.5v1L379.5 543.5zM389.5 543.5L400.5 535.5v1L389.5 544.5zM399.5 535.5L410.5 530.5v1L399.5 536.5zM409.5 530.5h1L420.5 543.5h-1zM419.5 542.5L430.5 543.5v1L419.5 543.5zM429.5 543.5L440.5 542.5v1L429.5 544.5zM439.5 542.5L450.5 543.5v1L439.5 543.5zM449.5 543.5L460.5 541.5v1L449.5 544.5zM459.5 541.5L470.5 540.5v1L459.5 542.5zM469.5 540.5L480.5 543.5v1L469.5 541.5zM479.5 543.5L490.5 542.5v1L479.5 544.5zM489.5 542.5L500.5 543.5v1L489.5 543.5zM499.5 543.5L510.5 542.5v1L499.5 544.5zM509.5 542.5L520.5 534.5v1L509.5 543.5zM519.5 534.5L530.5 529.5v1L519.5 535.5zM529.5 529.5L540.5 532.5v1L529.5 530.5zM539.5 532.5L550.5 542.5v1L539.5 533.5zM549.5 542.5L560.5 541.5v1L549.5 543.5zM559.5 541.5L570.5 542.5v1L559.5 542.5zM579.5 517.5h1L570.5 543.5h-1zM579.5 517.5h1L590.5 532.5h-1zM589.5 531.5h1L600.5 544.5h-1zM599.5 543.5L610.5 539.5v1L599.5 544.5zM609.5 539.5L620.5 543.5v1L609.5 540.5zM619.5 543.5L630.5 542.5v1L619.5 544.5zM629.5 542.5L640.5 541.5v1L629.5 543.5zM639.5 541.5h11v1h-11zM659.5 528.5h1L650.5 542.5h-1zM659.5 528.5h1L670.5 541.5h-1zM669.5 540.5L680.5 541.5v1L669.5 541.5zM679.5 541.5L690.5 542.5v1L679.5 542.5zM398.5 535.5h3v1h-3zM399.5 534.5h1v3h-1zM408.5 530.5h3v1h-3zM409.5 529.5h1v3h-1zM518.5 534.5h3v1h-3zM519.5 533.5h1v3h-1zM528.5 529.5h3v1h-3zM529.5 528.5h1v3h-1zM538.5 532.5h3v1h-3zM539.5 531.5h1v3h-1zM578.5 517.5h3v1h-3zM579.5 516.5h1v3h-1zM588.5 531.5h3v1h-3zM589.5 530.5h1v3h-1zM608.5 539.5h3v1h-3zM609.5 538.5h1v3h-1zM658.5 528.5h3v1h-3zM659.5 527.5h1v3h-1z" fill="#300870"/>
<path d="M59.5 543.5h191v1h-191zM249.5 543.5L260.5 541.5v1L249.5 544.5zM259.5 541.5L270.5 542.5v1L259.5 542.5zM269.5 542.5L280.5 543.5v1L269.5 543.5zM279.5 543.5h11v1h-11zM289.5 543.5L300.5 542.5v1L289.5 544.5zM299.5 542.5L310.5 543.5v1L299.5 543.5zM309.5 543.5h11v1h-11zM319.5 543.5L330.5 537.5v1L319.5 544.5zM329.5 537.5L340.5 543.5v1L329.5 538.5zM339.5 543.5L350.5 542.5v1L339.5 544.5zM349.5 542.5L360.5 543.5v1L349.5 543.5zM359.5 543.5h31v1h-31zM389.5 543.5L400.5 537.5v1L389.5 544.5zM399.5 537.5L410.5 543.5v1L399.5 538.5zM409.5 543.5L420.5 542.5v1L409.5 544.5zM419.5 542.5h31v1h-31zM449.5 542.5L460.5 543.5v1L449.5 543.5zM459.5 543.5L470.5 542.5v1L459.5 544.5zM469.5 542.5L480.5 543.5v1L469.5 543.5zM479.5 543.5L490.5 540.5v1L479.5 544.5zM489.5 540.5L500.5 543.5v1L489.5 541.5zM499.5 543.5L510.5 540.5v1L499.5 544.5zM509.5 540.5L520.5 542.5v1L509.5 541.5zM519.5 542.5L530.5 540.5v1L519.5 543.5zM529.5 540.5L540.5 542.5v1L529.5 541.5zM539.5 542.5L550.5 543.5v1L539.5 543.5zM549.5 543.5L560.5 542.5v1L549.5 544.5zM559.5 542.5L570.5 543.5v1L559.5 543.5zM569.5 543.5L580.5 533.5v1L569.5 544.5zM579.5 533.5L590.5 542.5v1L579.5 534.5zM589.5 542.5L600.5 541.5v1L589.5 543.5zM599.5 541.5h31v1h-31zM629.5 541.5L640.5 542.5v1L629.5 542.5zM639.5 542.5L650.5 541.5v1L639.5 543.5zM649.5 541.5h11v1h-11zM659.5 541.5L670.5 543.5v1L659.5 542.5zM669.5 543.5L680.5 542.5v1L669.5 544.5zM679.5 542.5L690.5 541.5v1L679.5 543.5zM328.5 537.5h3v1h-3zM329.5 536.5h1v3h-1zM398.5 537.5h3v1h-3zM399.5 536.5h1v3h-1zM578.5 533.5h3v1h-3zM579.5 532.5h1v3h-1z" fill="#F0D810"/>
<path d="M59.5 543.5h151v1h-151zM209.5 543.5L220.5 542.5v1L209.5 544.5zM219.5 542.5L230.5 543.5v1L219.5 543.5zM229.5 543.5L240.5 542.5v1L229.5 544.5zM239.5 542.5L250.5 543.5v1L239.5 543.5zM249.5 543.5h11v1h-11zM259.5 543.5L270.5 542.5v1L259.5 544.5zM269.5 542.5L280.5 543.5v1L269.5 543.5zM279.5 543.5h11v1h-11zM289.5 543.5L300.5 542.5v1L289.5 544.5zM299.5 542.5L310.5 536.5v1L299.5 543.5zM319.5 524.5h1L310.5 537.5h-1zM319.5 524.5L330.5 515.5v1L319.5 525.5zM329.5 515.5h1L340.5 540.5h-1zM339.5 539.5L350.5 543.5v1L339.5 540.5zM349.5 543.5h31v1h-31zM379.5 543.5L390.5 542.5v1L379.5 544.5zM389.5 542.5L400.5 543.5v1L389.5 543.5zM399.5 543.5h11v1h-11zM409.5 543.5L420.5 542.5v1L409.5 544.5zM419.5 542.5L430.5 543.5v1L419.5 543.5zM429.5 543.5h11v1h-11zM439.5 543.5L450.5 542.5v1L439.5 544.5zM449.5 542.5h11v1h-11zM459.5 542.5L470.5 540.5v1L459.5 543.5zM469.5 540.5L480.5 541.5v1L469.5 541.5zM479.5 541.5L490.5 542.5v1L479.5 542.5zM489.5 542.5h11v1h-11zM499.5 542.5L510.5 541.5v1L499.5 543.5zM509.5 541.5L520.5 543.5v1L509.5 542.5zM519.5 543.5L530.5 541.5v1L519.5 544.5zM529.5 541.5h11v1h-11zM539.5 541.5L550.5 542.5v1L539.5 542.5zM549.5 542.5L560.5 543.5v1L549.5 543.5zM559.5 543.5L570.5 542.5v1L559.5 544.5zM569.5 542.5L580.5 539.5v1L569.5 543.5zM579.5 539.5L590.5 542.5v1L579.5 540.5zM589.5 542.5L600.5 541.5v1L589.5 543.5zM599.5 541.5L610.5 542.5v1L599.5 542.5zM619.5 527.5h1L610.5 543.5h-1zM629.5 482.5h1L620.5 528.5h-1zM629.5 482.5h1L640.5 538.5h-1zM639.5 537.5L650.5 540.5v1L639.5 538.5zM649.5 540.5L660.5 541.5v1L649.5 541.5zM659.5 541.5L670.5 543.5v1L659.5 542.5zM669.5 543.5L680.5 542.5v1L669.5 544.5zM679.5 542.5h11v1h-11zM308.5 536.5h3v1h-3zM309.5 535.5h1v3h-1zM318.5 524.5h3v1h-3zM319.5 523.5h1v3h-1zM328.5 515.5h3v1h-3zM329.5 514.5h1v3h-1zM338.5 539.5h3v1h-3zM339.5 538.5h1v3h-1zM578.5 539.5h3v1h-3zM579.5 538.5h1v3h-1zM618.5 527.5h3v1h-3zM619.5 526.5h1v3h-1zM628.5 482.5h3v1h-3zM629.5 481.5h1v3h-1zM638.5 537.5h3v1h-3zM639.5 536.5h1v3h-1z" fill="#2060A0"/>
<path d="M59.5 543.5h201v1h-201zM259.5 543.5L270.5 542.5v1L259.5 544.5zM269.5 542.5h11v1h-11zM279.5 542.5L290.5 543.5v1L279.5 543.5zM289.5 543.5h21v1h-21zM309.5 543.5L320.5 536.5v1L309.5 544.5zM319.5 536.5L330.5 542.5v1L319.5 537.5zM329.5 542.5L340.5 543.5v1L329.5 543.5zM339.5 543.5h51v1h-51zM389.5 543.5L400.5 542.5v1L389.5 544.5zM399.5 542.5L410.5 543.5v1L399.5 543.5zM409.5 543.5h51v1h-51zM459.5 543.5L470.5 542.5v1L459.5 544.5zM469.5 542.5L480.5 541.5v1L469.5 543.5zM479.5 541.5h11v1h-11zM489.5 541.5L500.5 543.5v1L489.5 542.5zM499.5 543.5h11v1h-11zM509.5 543.5L520.5 542.5v1L509.5 544.5zM519.5 542.5h11v1h-11zM529.5 542.5L540.5 541.5v1L529.5 543.5zM539.5 541.5L550.5 542.5v1L539.5 542.5zM549.5 542.5L560.5 540.5v1L549.5 543.5zM559.5 540.5L570.5 542.5v1L559.5 541.5zM569.5 542.5h11v1h-11zM579.5 542.5L590.5 541.5v1L579.5 543.5zM589.5 541.5L600.5 542.5v1L589.5 542.5zM599.5 542.5L610.5 541.5v1L599.5 543.5zM609.5 541.5h11v1h-11zM619.5 541.5L630.5 540.5v1L619.5 542.5zM629.5 540.5L640.5 543.5v1L629.5 541.5zM639.5 543.5L650.5 541.5v1L639.5 544.5zM649.5 541.5L660.5 543.5v1L649.5 542.5zM659.5 543.5L670.5 541.5v1L659.5 544.5zM669.5 541.5L680.5 542.5v1L669.5 542.5zM679.5 542.5L690.5 543.5v1L679.5 543.5zM318.5 536.5h3v1h-3zM319.5 535.5h1v3h-1z" fill="#905020"/>
<path d="M59.5 543.5h141v1h-141zM199.5 543.5L210.5 542.5v1L199.5 544.5zM209.5 542.5L220.5 543.5v1L209.5 543.5zM219.5 543.5h41v1h-41zM259.5 543.5L270.5 542.5v1L259.5 544.5zM269.5 542.5L280.5 543.5v1L269.5 543.5zM279.5 543.5h61v1h-61zM339.5 543.5L350.5 542.5v1L339.5 544.5zM349.5 542.5L360.5 543.5v1L349.5 543.5zM359.5 543.5L370.5 542.5v1L359.5 544.5zM369.5 542.5h11v1h-11zM379.5 542.5L390.5 543.5v1L379.5 543.5zM389.5 543.5h41v1h-41zM429.5 543.5L440.5 542.5v1L429.5 544.5zM439.5 542.5L450.5 541.5v1L439.5 543.5zM449.5 541.5L460.5 542.5v1L449.5 542.5zM459.5 542.5h41v1h-41zM499.5 542.5L510.5 541.5v1L499.5 543.5zM509.5 541.5h21v1h-21zM529.5 541.5L540.5 542.5v1L529.5 542.5zM539.5 542.5L550.5 541.5v1L539.5 543.5zM549.5 541.5L560.5 542.5v1L549.5 542.5zM559.5 542.5h41v1h-41zM599.5 542.5L610.5 541.5v1L599.5 543.5zM609.5 541.5L620.5 542.5v1L609.5 542.5zM619.5 542.5h11v1h-11zM629.5 542.5L640.5 541.5v1L629.5 543.5zM639.5 541.5L650.5 540.5v1L639.5 542.5zM649.5 540.5L660.5 539.5v1L649.5 541.5zM659.5 539.5L670.5 535.5v1L659.5 540.5zM669.5 535.5h11v1h-11zM679.5 535.5L690.5 542.5v1L679.5 536.5zM658.5 539.5h3v1h-3zM659.5 538.5h1v3h-1zM668.5 535.5h3v1h-3zM669.5 534.5h1v3h-1zM678.5 535.5h3v1h-3zM679.5 534.5h1v3h-1z" fill="#9888E8"/>
<path d="M59.5 543.5h131v1h-131zM189.5 543.5L200.5 542.5v1L189.5 544.5zM199.5 542.5L210.5 543.5v1L199.5 543.5zM209.5 543.5L220.5 542.5v1L209.5 544.5zM219.5 542.5L230.5 543.5v1L219.5 543.5zM229.5 543.5L240.5 542.5v1L229.5 544.5zM239.5 542.5L250.5 543.5v1L239.5 543.5zM249.5 543.5h11v1h-11zM259.5 543.5L270.5 542.5v1L259.5 544.5zM269.5 542.5L280.5 543.5v1L269.5 543.5zM279.5 543.5h11v1h-11zM289.5 543.5L300.5 542.5v1L289.5 544.5zM299.5 542.5L310.5 543.5v1L299.5 543.5zM309.5 543.5h61v1h-61zM369.5 543.5L380.5 542.5v1L369.5 544.5zM379.5 542.5L390.5 543.5v1L379.5 543.5zM389.5 543.5L400.5 542.5v1L389.5 544.5zM399.5 542.5L410.5 543.5v1L399.5 543.5zM409.5 543.5h21v1h-21zM429.5 543.5L440.5 542.5v1L429.5 544.5zM439.5 542.5L450.5 541.5v1L439.5 543.5zM449.5 541.5L460.5 543.5v1L449.5 542.5zM459.5 543.5L470.5 541.5v1L459.5 544.5zM469.5 541.5h21v1h-21zM489.5 541.5L500.5 543.5v1L489.5 542.5zM499.5 543.5L510.5 541.5v1L499.5 544.5zM509.5 541.5h11v1h-11zM519.5 541.5L530.5 542.5v1L519.5 542.5zM529.5 542.5L540.5 538.5v1L529.5 543.5zM539.5 538.5L550.5 530.5v1L539.5 539.5zM549.5 530.5h1L560.5 543.5h-1zM559.5 542.5L570.5 541.5v1L559.5 543.5zM569.5 541.5L580.5 542.5v1L569.5 542.5zM579.5 542.5L590.5 541.5v1L579.5 543.5zM589.5 541.5L600.5 539.5v1L589.5 542.5zM599.5 539.5L610.5 542.5v1L599.5 540.5zM609.5 542.5L620.5 541.5v1L609.5 543.5zM619.5 541.5L630.5 543.5v1L619.5 542.5zM629.5 543.5L640.5 542.5v1L629.5 544.5zM639.5 542.5L650.5 532.5v1L639.5 543.5zM649.5 532.5L660.5 540.5v1L649.5 533.5zM659.5 540.5h11v1h-11zM669.5 540.5L680.5 543.5v1L669.5 541.5zM679.5 543.5h11v1h-11zM538.5 538.5h3v1h-3zM539.5 537.5h1v3h-1zM548.5 530.5h3v1h-3zM549.5 529.5h1v3h-1zM598.5 539.5h3v1h-3zM599.5 538.5h1v3h-1zM648.5 532.5h3v1h-3zM649.5 531.5h1v3h-1z" fill="#98F040"/>
<path d="M59.5 543.5h151v1h-151zM209.5 543.5L220.5 542.5v1L209.5 544.5zM219.5 542.5h11v1h-11zM229.5 542.5L240.5 543.5v1L229.5 543.5zM239.5 543.5h21v1h-21zM259.5 543.5L270.5 542.5v1L259.5 544.5zM269.5 542.5L280.5 543.5v1L269.5 543.5zM279.5 543.5h11v1h-11zM289.5 543.5L300.5 542.5v1L289.5 544.5zM299.5 542.5L310.5 543.5v1L299.5 543.5zM309.5 543.5h11v1h-11zM319.5 543.5L330.5 542.5v1L319.5 544.5zM329.5 542.5h11v1h-11zM339.5 542.5L350.5 543.5v1L339.5 543.5zM349.5 543.5h11v1h-11zM359.5 543.5L370.5 542.5v1L359.5 544.5zM369.5 542.5L380.5 543.5v1L369.5 543.5zM379.5 543.5h11v1h-11zM389.5 543.5L400.5 541.5v1L389.5 544.5zM399.5 541.5L410.5 543.5v1L399.5 542.5zM409.5 543.5L420.5 542.5v1L409.5 544.5zM419.5 542.5h11v1h-11zM429.5 542.5L440.5 543.5v1L429.5 543.5zM439.5 543.5L450.5 542.5v1L439.5 544.5zM449.5 542.5L460.5 541.5v1L449.5 543.5zM459.5 541.5h11v1h-11zM469.5 541.5L480.5 542.5v1L469.5 542.5zM479.5 542.5L490.5 541.5v1L479.5 543.5zM489.5 541.5h11v1h-11zM499.5 541.5L510.5 542.5v1L499.5 542.5zM509.5 542.5h11v1h-11zM519.5 542.5L530.5 543.5v1L519.5 543.5zM529.5 543.5h11v1h-11zM539.5 543.5L550.5 542.5v1L539.5 544.5zM549.5 542.5h21v1h-21zM569.5 542.5L580.5 543.5v1L569.5 543.5zM579.5 543.5L590.5 542.5v1L579.5 544.5zM589.5 542.5L600.5 539.5v1L589.5 543.5zM599.5 539.5L610.5 541.5v1L599.5 540.5zM609.5 541.5h21v1h-21zM629.5 541.5L640.5 542.5v1L629.5 542.5zM639.5 542.5h11v1h-11zM649.5 542.5L660.5 541.5v1L649.5 543.5zM659.5 541.5h11v1h-11zM669.5 541.5L680.5 542.5v1L669.5 542.5zM679.5 542.5L690.5 543.5v1L679.5 543.5zM598.5 539.5h3v1h-3zM599.5 538.5h1v3h-1z" fill="#D070D0"/>
<path d="M59.5 543.5h181v1h-181zM239.5 543.5L250.5 542.5v1L239.5 544.5zM249.5 542.5h11v1h-11zM259.5 542.5L270.5 543.5v1L259.5 543.5zM269.5 543.5h21v1h-21zM289.5 543.5L300.5 542.5v1L289.5 544.5zM299.5 542.5L310.5 535.5v1L299.5 543.5zM309.5 535.5L320.5 541.5v1L309.5 536.5zM319.5 541.5L330.5 542.5v1L319.5 542.5zM329.5 542.5L340.5 543.5v1L329.5 543.5zM339.5 543.5L350.5 542.5v1L339.5 544.5zM349.5 542.5h11v1h-11zM359.5 542.5L370.5 543.5v1L359.5 543.5zM369.5 543.5h41v1h-41zM409.5 543.5L420.5 542.5v1L409.5 544.5zM419.5 542.5h11v1h-11zM429.5 542.5L440.5 543.5v1L429.5 543.5zM439.5 543.5h11v1h-11zM449.5 543.5L460.5 539.5v1L449.5 544.5zM459.5 539.5L470.5 534.5v1L459.5 540.5zM479.5 518.5h1L470.5 535.5h-1zM479.5 518.5h1L490.5 539.5h-1zM489.5 538.5L500.5 543.5v1L489.5 539.5zM499.5 543.5h11v1h-11zM509.5 543.5L520.5 542.5v1L509.5 544.5zM519.5 542.5h31v1h-31zM549.5 542.5L560.5 539.5v1L549.5 543.5zM559.5 539.5L570.5 540.5v1L559.5 540.5zM569.5 540.5L580.5 543.5v1L569.5 541.5zM579.5 543.5L590.5 541.5v1L579.5 544.5zM599.5 493.5h1L590.5 542.5h-1zM599.5 493.5L610.5 499.5v1L599.5 494.5zM609.5 499.5h1L620.5 531.5h-1zM619.5 530.5L630.5 540.5v1L619.5 531.5zM629.5 540.5L640.5 541.5v1L629.5 541.5zM639.5 541.5h11v1h-11zM649.5 541.5L660.5 540.5v1L649.5 542.5zM659.5 540.5L670.5 541.5v1L659.5 541.5zM669.5 541.5L680.5 542.5v1L669.5 542.5zM679.5 542.5L690.5 541.5v1L679.5 543.5zM308.5 535.5h3v1h-3zM309.5 534.5h1v3h-1zM458.5 539.5h3v1h-3zM459.5 538.5h1v3h-1zM468.5 534.5h3v1h-3zM469.5 533.5h1v3h-1zM478.5 518.5h3v1h-3zM479.5 517.5h1v3h-1zM488.5 538.5h3v1h-3zM489.5 537.5h1v3h-1zM558.5 539.5h3v1h-3zM559.5 538.5h1v3h-1zM598.5 493.5h3v1h-3zM599.5 492.5h1v3h-1zM608.5 499.5h3v1h-3zM609.5 498.5h1v3h-1zM618.5 530.5h3v1h-3zM619.5 529.5h1v3h-1z" fill="#200890"/>
<path d="M59.5 543.5h151v1h-151zM209.5 543.5L220.5 542.5v1L209.5 544.5zM219.5 542.5L230.5 543.5v1L219.5 543.5zM229.5 543.5h21v1h-21zM249.5 543.5L260.5 542.5v1L249.5 544.5zM259.5 542.5L270.5 543.5v1L259.5 543.5zM269.5 543.5L280.5 542.5v1L269.5 544.5zM279.5 542.5L290.5 543.5v1L279.5 543.5zM289.5 543.5L300.5 542.5v1L289.5 544.5zM299.5 542.5L310.5 543.5v1L299.5 543.5zM309.5 543.5h21v1h-21zM329.5 543.5L340.5 542.5v1L329.5 544.5zM339.5 542.5L350.5 543.5v1L339.5 543.5zM349.5 543.5h11v1h-11zM359.5 543.5L370.5 542.5v1L359.5 544.5zM369.5 542.5L380.5 543.5v1L369.5 543.5zM379.5 543.5h61v1h-61zM439.5 543.5L450.5 541.5v1L439.5 544.5zM449.5 541.5L460.5 542.5v1L449.5 542.5zM459.5 542.5L470.5 540.5v1L459.5 543.5zM469.5 540.5L480.5 541.5v1L469.5 541.5zM479.5 541.5h11v1h-11zM489.5 541.5L500.5 542.5v1L489.5 542.5zM499.5 542.5L510.5 541.5v1L499.5 543.5zM509.5 541.5L520.5 542.5v1L509.5 542.5zM519.5 542.5L530.5 541.5v1L519.5 543.5zM529.5 541.5L540.5 539.5v1L529.5 542.5zM539.5 539.5L550.5 543.5v1L539.5 540.5zM549.5 543.5L560.5 542.5v1L549.5 544.5zM559.5 542.5h11v1h-11zM569.5 542.5L580.5 541.5v1L569.5 543.5zM579.5 541.5h11v1h-11zM589.5 541.5L600.5 542.5v1L589.5 542.5zM599.5 542.5h11v1h-11zM609.5 542.5L620.5 543.5v1L609.5 543.5zM619.5 543.5L630.5 540.5v1L619.5 544.5zM629.5 540.5L640.5 543.5v1L629.5 541.5zM639.5 543.5L650.5 541.5v1L639.5 544.5zM649.5 541.5L660.5 540.5v1L649.5 542.5zM659.5 540.5L670.5 542.5v1L659.5 541.5zM669.5 542.5L680.5 536.5v1L669.5 543.5zM679.5 536.5L690.5 541.5v1L679.5 537.5zM538.5 539.5h3v1h-3zM539.5 538.5h1v3h-1zM678.5 536.5h3v1h-3zM679.5 535.5h1v3h-1z" fill="#E0C8A0"/>
<path d="M59.5 543.5h141v1h-141zM199.5 543.5L210.5 542.5v1L199.5 544.5zM209.5 542.5h11v1h-11zM219.5 542.5L230.5 543.5v1L219.5 543.5zM229.5 543.5h11v1h-11zM239.5 543.5L250.5 542.5v1L239.5 544.5zM249.5 542.5h11v1h-11zM259.5 542.5L270.5 543.5v1L259.5 543.5zM269.5 543.5h41v1h-41zM309.5 543.5L320.5 542.5v1L309.5 544.5zM319.5 542.5h21v1h-21zM339.5 542.5L350.5 543.5v1L339.5 543.5zM349.5 543.5L360.5 542.5v1L349.5 544.5zM359.5 542.5h21v1h-21zM379.5 542.5L390.5 543.5v1L379.5 543.5zM389.5 543.5h21v1h-21zM409.5 543.5L420.5 542.5v1L409.5 544.5zM419.5 542.5L430.5 543.5v1L419.5 543.5zM429.5 543.5L440.5 542.5v1L429.5 544.5zM439.5 542.5L450.5 541.5v1L439.5 543.5zM449.5 541.5L460.5 542.5v1L449.5 542.5zM459.5 542.5h11v1h-11zM469.5 542.5L480.5 541.5v1L469.5 543.5zM479.5 541.5L490.5 542.5v1L479.5 542.5zM489.5 542.5h31v1h-31zM519.5 542.5L530.5 543.5v1L519.5 543.5zM529.5 543.5L540.5 542.5v1L529.5 544.5zM549.5 525.5h1L540.5 543.5h-1zM549.5 525.5h1L560.5 541.5h-1zM559.5 540.5L570.5 542.5v1L559.5 541.5zM569.5 542.5h21v1h-21zM589.5 542.5L600.5 541.5v1L589.5 543.5zM599.5 541.5L610.5 538.5v1L599.5 542.5zM609.5 538.5L620.5 541.5v1L609.5 539.5zM619.5 541.5h11v1h-11zM629.5 541.5L640.5 539.5v1L629.5 542.5zM639.5 539.5h21v1h-21zM659.5 539.5L670.5 542.5v1L659.5 540.5zM669.5 542.5L680.5 541.5v1L669.5 543.5zM679.5 541.5h11v1h-11zM548.5 525.5h3v1h-3zM549.5 524.5h1v3h-1zM608.5 538.5h3v1h-3zM609.5 537.5h1v3h-1zM638.5 539.5h3v1h-3zM639.5 538.5h1v3h-1zM648.5 539.5h3v1h-3zM649.5 538.5h1v3h-1zM658.5 539.5h3v1h-3zM659.5 538.5h1v3h-1z" fill="#800808"/>
<path d="M59.5 543.5h161v1h-161zM219.5 543.5L230.5 541.5v1L219.5 544.5zM229.5 541.5L240.5 537.5v1L229.5 542.5zM239.5 537.5L250.5 540.5v1L239.5 538.5zM249.5 540.5L260.5 543.5v1L249.5 541.5zM259.5 543.5h11v1h-11zM269.5 543.5L280.5 542.5v1L269.5 544.5zM279.5 542.5h31v1h-31zM309.5 542.5L320.5 543.5v1L309.5 543.5zM319.5 543.5L330.5 542.5v1L319.5 544.5zM329.5 542.5L340.5 543.5v1L329.5 543.5zM339.5 543.5h41v1h-41zM379.5 543.5L390.5 542.5v1L379.5 544.5zM389.5 542.5L400.5 543.5v1L389.5 543.5zM399.5 543.5L410.5 542.5v1L399.5 544.5zM409.5 542.5h11v1h-11zM419.5 542.5L430.5 543.5v1L419.5 543.5zM429.5 543.5h11v1h-11zM439.5 543.5L450.5 541.5v1L439.5 544.5zM449.5 541.5L460.5 540.5v1L449.5 542.5zM459.5 540.5L470.5 543.5v1L459.5 541.5zM469.5 543.5L480.5 542.5v1L469.5 544.5zM479.5 542.5L490.5 543.5v1L479.5 543.5zM489.5 543.5L500.5 542.5v1L489.5 544.5zM499.5 542.5h11v1h-11zM509.5 542.5L520.5 541.5v1L509.5 543.5zM519.5 541.5L530.5 542.5v1L519.5 542.5zM529.5 542.5L540.5 543.5v1L529.5 543.5zM539.5 543.5L550.5 541.5v1L539.5 544.5zM549.5 541.5L560.5 542.5v1L549.5 542.5zM559.5 542.5L570.5 541.5v1L559.5 543.5zM569.5 541.5L580.5 542.5v1L569.5 542.5zM579.5 542.5L590.5 541.5v1L579.5 543.5zM589.5 541.5L600.5 543.5v1L589.5 542.5zM599.5 543.5L610.5 541.5v1L599.5 544.5zM609.5 541.5L620.5 543.5v1L609.5 542.5zM619.5 543.5L630.5 540.5v1L619.5 544.5zM629.5 540.5L640.5 541.5v1L629.5 541.5zM639.5 541.5L650.5 542.5v1L639.5 542.5zM649.5 542.5h31v1h-31zM679.5 542.5L690.5 539.5v1L679.5 543.5zM238.5 537.5h3v1h-3zM239.5 536.5h1v3h-1zM688.5 539.5h3v1h-3zM689.5 538.5h1v3h-1z" fill="#0030B0"/>
<path d="M50 233.9L60 233.1L70 245.1L80 235.5L90 243.5L100 241.9L110 263.5L120 257.5L130 270.5L140 279.1L150 293.1L160 283.1L170 287.5L180 284.5L190 291L200 277.1L210 277.5L220 275.1L230 282.5L240 275.5L250 279.5L260 282.5L270 301.9L280 299.5L290 310.5L300 313.9L310 325.9L320 310.5L330 309.5L340 299.5L350 299.5L360 283.5L370 281.9L380 273.1L390 277.1L400 265.5L410 266.5L420 262.5L430 271.5L440 261.1L450 265.9L460 263.1L470 270.5L480 260.5L490 263.5L500 260.5L510 268.5L520 257.5L530 261.5L540 258.5L550 266.5L560 259.5L570 262.5L580 259.5L590 267.5L600 261.1L610 265.9L620 265.9L630 275.1L640 269.9L650 277.5L660 278.5L670 286.5L680 279.5L690 284.5" stroke="#f00" stroke-width="3" fill="none" stroke-linejoin="bevel"/>
<path d="M60 545L70 545L80 545L90 545L100 545L110 545L120 545L130 545L140 545L150 545L160 545L170 544.5L180 545L190 545L200 544L210 544L220 544L230 544L240 544L250 544L260 544L270 544L280 544L290 544L300 544L310 544L320 544L330 544L340 543.5L350 541.5L360 543L370 544L380 544L390 544L400 544L410 544L420 544L430 544L440 544L450 544L460 543.6L470 542.7L480 543.4L490 542.4L500 543.1L510 542.2L520 542.9L530 540.5L540 537L550 540.5L560 542.9L570 541.9L580 542.9L590 541.9L600 542.9L610 541.9L620 542.9L630 541.9L640 543.4L650 542.6L660 543.4L670 542.6L680 543.4L690 544.8" stroke="#f00" stroke-width="3" fill="none" stroke-linejoin="bevel"/></g>
<text x="19.7 25.7 31.7 37.7" y="27" font-size="11.2" font-family="'Liberation Sans', 'DejaVu Sans', sans-serif" stroke-width=".1">1050</text>
<text x="709.7 715.7" y="27" font-size="11.2" font-family="'Liberation Sans', 'DejaVu Sans', sans-serif" stroke-width=".1">75</text>
<text x="19.7 25.7 31.7 37.7" y="62" font-size="11.2" font-family="'Liberation Sans', 'DejaVu Sans', sans-serif" stroke-width=".1">1045</text>
<text x="709.7 715.7" y="62" font-size="11.2" font-family="'Liberation Sans', 'DejaVu Sans', sans-serif" stroke-width=".1">70</text>
<text x="19.7 25.7 31.7 37.7" y="97" font-size="11.2" font-family="'Liberation Sans', 'DejaVu Sans', sans-serif" stroke-width=".1">1040</text>
<text x="709.7 715.7" y="97" font-size="11.2" font-family="'Liberation Sans', 'DejaVu Sans', sans-serif" stroke-width=".1">65</text>
<text x="19.7 25.7 31.7 37.7" y="132" font-size="11.2" font-family="'Liberation Sans', 'DejaVu Sans', sans-serif" stroke-width=".1">1035</text>
<text x="709.7 715.7" y="132" font-size="11.2" font-family="'Liberation Sans', 'DejaVu Sans', sans-serif" stroke-width=".1">60</text>
<text x="19.7 25.7 31.7 37.7" y="167" font-size="11.2" font-family="'Liberation Sans', 'DejaVu Sans', sans-serif" stroke-width=".1">1030</text>
<text x="709.7 715.7" y="167" font-size="11.2" font-family="'Liberation Sans', 'DejaVu Sans', sans-serif" stroke-width=".1">55</text>
<text x="19.7 25.7 31.7 37.7" y="202" font-size="11.2" font-family="'Liberation Sans', 'DejaVu Sans', sans-serif" stroke-width=".1">1025</text>
<text x="709.7 715.7" y="202" font-size="11.2" font-family="'Liberation Sans', 'DejaVu Sans', sans-serif" stroke-width=".1">50</text>
<text x="19.7 25.7 31.7 37.7" y="237" font-size="11.2" font-family="'Liberation Sans', 'DejaVu Sans', sans-serif" stroke-width=".1">1020</text>
<text x="709.7 715.7" y="237" font-size="11.2" font-family="'Liberation Sans', 'DejaVu Sans', sans-serif" stroke-width=".1">45</text>
<text x="19.7 25.7 31.7 37.7" y="272" font-size="11.2" font-family="'Liberation Sans', 'DejaVu Sans', sans-serif" stroke-width=".1">1015</text>
<text x="709.7 715.7" y="272" font-size="11.2" font-family="'Liberation Sans', 'DejaVu Sans', sans-serif" stroke-width=".1">40</text>
<text x="19.7 25.7 31.7 37.7" y="307" font-size="11.2" font-family="'Liberation Sans', 'DejaVu Sans', sans-serif" stroke-width=".1">1010</text>
<text x="709.7 715.7" y="307" font-size="11.2" font-family="'Liberation Sans', 'DejaVu Sans', sans-serif" stroke-width=".1">35</text>
<text x="19.7 25.7 31.7 37.7" y="342" font-size="11.2" font-family="'Liberation Sans', 'DejaVu Sans', sans-serif" stroke-width=".1">1005</text>
<text x="709.7 715.7" y="342" font-size="11.2" font-family="'Liberation Sans', 'DejaVu Sans', sans-serif" stroke-width=".1">30</text>
<text x="19.7 25.7 31.7 37.7" y="377" font-size="11.2" font-family="'Liberation Sans', 'DejaVu Sans', sans-serif" stroke-width=".1">1000</text>
<text x="709.7 715.7" y="377" font-size="11.2" font-family="'Liberation Sans', 'DejaVu Sans', sans-serif" stroke-width=".1">25</text>
<text x="19.7 25.7 31.7" y="412" font-size="11.2" font-family="'Liberation Sans', 'DejaVu Sans', sans-serif" stroke-width=".1">995</text>
<text x="709.7 715.7" y="412" font-size="11.2" font-family="'Liberation Sans', 'DejaVu Sans', sans-serif" stroke-width=".1">20</text>
<text x="19.7 25.7 31.7" y="447" font-size="11.2" font-family="'Liberation Sans', 'DejaVu Sans', sans-serif" stroke-width=".1">990</text>
<text x="709.7 715.7" y="447" font-size="11.2" font-family="'Liberation Sans', 'DejaVu Sans', sans-serif" stroke-width=".1">15</text>
<text x="19.7 25.7 31.7" y="482" font-size="11.2" font-family="'Liberation Sans', 'DejaVu Sans', sans-serif" stroke-width=".1">985</text>
<text x="709.7 715.7" y="482" font-size="11.2" font-family="'Liberation Sans', 'DejaVu Sans', sans-serif" stroke-width=".1">10</text>
<text x="19.7 25.7 31.7" y="517" font-size="11.2" font-family="'Liberation Sans', 'DejaVu Sans', sans-serif" stroke-width=".1">980</text>
<text x="709.7" y="517" font-size="11.2" font-family="'Liberation Sans', 'DejaVu Sans', sans-serif" stroke-width=".1">5</text>
<text x="19.7 25.7 31.7" y="552" font-size="11.2" font-family="'Liberation Sans', 'DejaVu Sans', sans-serif" stroke-width=".1">975</text>
<text x="709.7" y="552" font-size="11.2" font-family="'Liberation Sans', 'DejaVu Sans', sans-serif" stroke-width=".1">0</text>
<text x="19.5" y="611" font-size="12" textLength="30" lengthAdjust="spacingAndGlyphs">(hPa)</text>
<text x="710" y="611" font-size="12" textLength="24" lengthAdjust="spacingAndGlyphs">(mm)</text>
<text x="59.5" y="212" font-size="12" textLength="48" lengthAdjust="spacingAndGlyphs">Pression</text>
<text x="59.5" y="541" font-size="12" textLength="84" lengthAdjust="spacingAndGlyphs">Précipitations</text>
<g transform="translate(91 631.7) rotate(-90)"><text x="0 6 13.5 18 24" y="0" font-size="11.2" font-family="'Liberation Sans', 'DejaVu Sans', sans-serif" stroke-width=".1">19/04</text></g>
<g transform="translate(131 631.7) rotate(-90)"><text x="0 6 13.5 18 24" y="0" font-size="11.2" font-family="'Liberation Sans', 'DejaVu Sans', sans-serif" stroke-width=".1">20/04</text></g>
<g transform="translate(171 631.7) rotate(-90)"><text x="0 6 13.5 18 24" y="0" font-size="11.2" font-family="'Liberation Sans', 'DejaVu Sans', sans-serif" stroke-width=".1">21/04</text></g>
<g transform="translate(211 631.7) rotate(-90)"><text x="0 6 13.5 18 24" y="0" font-size="11.2" font-family="'Liberation Sans', 'DejaVu Sans', sans-serif" stroke-width=".1">22/04</text></g>
<g transform="translate(251 631.7) rotate(-90)"><text x="0 6 13.5 18 24" y="0" font-size="11.2" font-family="'Liberation Sans', 'DejaVu Sans', sans-serif" stroke-width=".1">23/04</text></g>
<g transform="translate(291 631.7) rotate(-90)"><text x="0 6 13.5 18 24" y="0" font-size="11.2" font-family="'Liberation Sans', 'DejaVu Sans', sans-serif" stroke-width=".1">24/04</text></g>
<g transform="translate(331 631.7) rotate(-90)"><text x="0 6 13.5 18 24" y="0" font-size="11.2" font-family="'Liberation Sans', 'DejaVu Sans', sans-serif" stroke-width=".1">25/04</text></g>
<g transform="translate(371 631.7) rotate(-90)"><text x="0 6 13.5 18 24" y="0" font-size="11.2" font-family="'Liberation Sans', 'DejaVu Sans', sans-serif" stroke-width=".1">26/04</text></g>
<g transform="translate(411 631.7) rotate(-90)"><text x="0 6 13.5 18 24" y="0" font-size="11.2" font-family="'Liberation Sans', 'DejaVu Sans', sans-serif" stroke-width=".1">27/04</text></g>
<g transform="translate(451 631.7) rotate(-90)"><text x="0 6 13.5 18 24" y="0" font-size="11.2" font-family="'Liberation Sans', 'DejaVu Sans', sans-serif" stroke-width=".1">28/04</text></g>
<g transform="translate(491 631.7) rotate(-90)"><text x="0 6 13.5 18 24" y="0" font-size="11.2" font-family="'Liberation Sans', 'DejaVu Sans', sans-serif" stroke-width=".1">29/04</text></g>
<g transform="translate(531 631.7) rotate(-90)"><text x="0 6 13.5 18 24" y="0" font-size="11.2" font-family="'Liberation Sans', 'DejaVu Sans', sans-serif" stroke-width=".1">30/04</text></g>
<g transform="translate(571 631.7) rotate(-90)"><text x="0 6 13.5 18 24" y="0" font-size="11.2" font-family="'Liberation Sans', 'DejaVu Sans', sans-serif" stroke-width=".1">01/05</text></g>
<g transform="translate(611 631.7) rotate(-90)"><text x="0 6 13.5 18 24" y="0" font-size="11.2" font-family="'Liberation Sans', 'DejaVu Sans', sans-serif" stroke-width=".1">02/05</text></g>
<g transform="translate(651 631.7) rotate(-90)"><text x="0 6 13.5 18 24" y="0" font-size="11.2" font-family="'Liberation Sans', 'DejaVu Sans', sans-serif" stroke-width=".1">03/05</text></g>
<g transform="translate(691 631.7) rotate(-90)"><text x="0 6 13.5 18 24" y="0" font-size="11.2" font-family="'Liberation Sans', 'DejaVu Sans', sans-serif" stroke-width=".1">04/05</text></g>
<rect x="35" y="645" width="31" height="4" fill="#f00" stroke="none"/>
<rect x="225" y="635" width="31" height="4" fill="#00f" stroke="none"/>
<rect x="225" y="645" width="31" height="4" fill="#000" stroke="none"/>
<text x="74.5" y="651" font-size="12" textLength="126" lengthAdjust="spacingAndGlyphs">Moyenne des scénarios</text>
<text x="264" y="641" font-size="12" textLength="90" lengthAdjust="spacingAndGlyphs">Run de contrôle</text>
<text x="264" y="651" font-size="12" textLength="42" lengthAdjust="spacingAndGlyphs">Run GFS</text>
<text x="179.5" y="664" font-size="12" textLength="150" lengthAdjust="spacingAndGlyphs">Altitude du modele : 179m</text>
<text x="339.5" y="656" font-size="12" textLength="54" lengthAdjust="spacingAndGlyphs">30 Perts.</text>
<rect x="400" y="650" width="10" height="6" fill="#E8823A" stroke="none"/>
<text x="400.8 405.3" y="647" font-size="8" font-family="'Liberation Sans', 'DejaVu Sans', sans-serif">01</text>
<rect x="411" y="650" width="10" height="6" fill="#88C870" stroke="none"/>
<text x="411.8 416.3" y="647" font-size="8" font-family="'Liberation Sans', 'DejaVu Sans', sans-serif">02</text>
<rect x="422" y="650" width="10" height="6" fill="#F0C010" stroke="none"/>
<text x="422.8 427.3" y="647" font-size="8" font-family="'Liberation Sans', 'DejaVu Sans', sans-serif">03</text>
<rect x="433" y="650" width="10" height="6" fill="#9050B0" stroke="none"/>
<text x="433.8 438.3" y="647" font-size="8" font-family="'Liberation Sans', 'DejaVu Sans', sans-serif">04</text>
<rect x="444" y="650" width="10" height="6" fill="#B05010" stroke="none"/>
<text x="444.8 449.3" y="647" font-size="8" font-family="'Liberation Sans', 'DejaVu Sans', sans-serif">05</text>
<rect x="455" y="650" width="10" height="6" fill="#508010" stroke="none"/>
<text x="455.8 460.3" y="647" font-size="8" font-family="'Liberation Sans', 'DejaVu Sans', sans-serif">06</text>
<rect x="466" y="650" width="10" height="6" fill="#1080F0" stroke="none"/>
<text x="466.8 471.3" y="647" font-size="8" font-family="'Liberation Sans', 'DejaVu Sans', sans-serif">07</text>
<rect x="477" y="650" width="10" height="6" fill="#E8D8B0" stroke="none"/>
<text x="477.8 482.3" y="647" font-size="8" font-family="'Liberation Sans', 'DejaVu Sans', sans-serif">08</text>
<rect x="488" y="650" width="10" height="6" fill="#4090C0" stroke="none"/>
<text x="488.8 493.3" y="647" font-size="8" font-family="'Liberation Sans', 'DejaVu Sans', sans-serif">09</text>
<rect x="499" y="650" width="10" height="6" fill="#E8A858" stroke="none"/>
<text x="499.8 504.3" y="647" font-size="8" font-family="'Liberation Sans', 'DejaVu Sans', sans-serif">10</text>
<rect x="510" y="650" width="10" height="6" fill="#605020" stroke="none"/>
<text x="510.8 515.3" y="647" font-size="8" font-family="'Liberation Sans', 'DejaVu Sans', sans-serif">11</text>
<rect x="521" y="650" width="10" height="6" fill="#F06820" stroke="none"/>
<text x="521.8 526.3" y="647" font-size="8" font-family="'Liberation Sans', 'DejaVu Sans', sans-serif">12</text>
<rect x="532" y="650" width="10" height="6" fill="#D0C080" stroke="none"/>
<text x="532.8 537.3" y="647" font-size="8" font-family="'Liberation Sans', 'DejaVu Sans', sans-serif">13</text>
<rect x="543" y="650" width="10" height="6" fill="#10D060" stroke="none"/>
<text x="543.8 548.3" y="647" font-size="8" font-family="'Liberation Sans', 'DejaVu Sans', sans-serif">14</text>
<rect x="554" y="650" width="10" height="6" fill="#204060" stroke="none"/>
<text x="554.8 559.3" y="647" font-size="8" font-family="'Liberation Sans', 'DejaVu Sans', sans-serif">15</text>
<rect x="565" y="650" width="10" height="6" fill="#607080" stroke="none"/>
<text x="565.8 570.3" y="647" font-size="8" font-family="'Liberation Sans', 'DejaVu Sans', sans-serif">16</text>
<rect x="576" y="650" width="10" height="6" fill="#E070F0" stroke="none"/>
<text x="576.8 581.3" y="647" font-size="8" font-family="'Liberation Sans', 'DejaVu Sans', sans-serif">17</text>
<rect x="587" y="650" width="10" height="6" fill="#8020F0" stroke="none"/>
<text x="587.8 592.3" y="647" font-size="8" font-family="'Liberation Sans', 'DejaVu Sans', sans-serif">18</text>
<rect x="598" y="650" width="10" height="6" fill="#806030" stroke="none"/>
<text x="598.8 603.3" y="647" font-size="8" font-family="'Liberation Sans', 'DejaVu Sans', sans-serif">19</text>
<rect x="609" y="650" width="10" height="6" fill="#300870" stroke="none"/>
<text x="609.8 614.3" y="647" font-size="8" font-family="'Liberation Sans', 'DejaVu Sans', sans-serif">20</text>
<rect x="620" y="650" width="10" height="6" fill="#F0D810" stroke="none"/>
<text x="620.8 625.3" y="647" font-size="8" font-family="'Liberation Sans', 'DejaVu Sans', sans-serif">21</text>
<rect x="631" y="650" width="10" height="6" fill="#2060A0" stroke="none"/>
<text x="631.8 636.3" y="647" font-size="8" font-family="'Liberation Sans', 'DejaVu Sans', sans-serif">22</text>
<rect x="642" y="650" width="10" height="6" fill="#905020" stroke="none"/>
<text x="642.8 647.3" y="647" font-size="8" font-family="'Liberation Sans', 'DejaVu Sans', sans-serif">23</text>
<rect x="653" y="650" width="10" height="6" fill="#9888E8" stroke="none"/>
<text x="653.8 658.3" y="647" font-size="8" font-family="'Liberation Sans', 'DejaVu Sans', sans-serif">24</text>
<rect x="664" y="650" width="10" height="6" fill="#98F040" stroke="none"/>
<text x="664.8 669.3" y="647" font-size="8" font-family="'Liberation Sans', 'DejaVu Sans', sans-serif">25</text>
<rect x="675" y="650" width="10" height="6" fill="#D070D0" stroke="none"/>
<text x="675.8 680.3" y="647" font-size="8" font-family="'Liberation Sans', 'DejaVu Sans', sans-serif">26</text>
<rect x="686" y="650" width="10" height="6" fill="#200890" stroke="none"/>
<text x="686.8 691.3" y="647" font-size="8" font-family="'Liberation Sans', 'DejaVu Sans', sans-serif">27</text>
<rect x="697" y="650" width="10" height="6" fill="#E0C8A0" stroke="none"/>
<text x="697.8 702.3" y="647" font-size="8" font-family="'Liberation Sans', 'DejaVu Sans', sans-serif">28</text>
<rect x="708" y="650" width="10" height="6" fill="#800808" stroke="none"/>
<text x="708.8 713.3" y="647" font-size="8" font-family="'Liberation Sans', 'DejaVu Sans', sans-serif">29</text>
<rect x="719" y="650" width="10" height="6" fill="#0030B0" stroke="none"/>
<text x="719.8 724.3" y="647" font-size="8" font-family="'Liberation Sans', 'DejaVu Sans', sans-serif">30</text>
<rect x="20.5" y="667.5" width="420" height="32" fill="none" stroke="#000" stroke-width="1" shape-rendering="crispEdges"/>
<text x="30" y="681" font-size="12" textLength="350" lengthAdjust="spacingAndGlyphs" font-weight="bold" stroke="none">Diagramme des ensembles GEFS sur 384h : 38.7N 0.1W</text>
<text x="30" y="696" font-size="12" textLength="336" lengthAdjust="spacingAndGlyphs">Pression au niveau de la mer (hPa) , précipitations (mm)</text>
<text x="449.5" y="676" font-size="12" textLength="198" lengthAdjust="spacingAndGlyphs">Ensemble GEFS du 18/04/2026 - 06Z</text>
<text x="449.5" y="696" font-size="12" textLength="189" lengthAdjust="spacingAndGlyphs" font-weight="bold" stroke="none">Copyright 2026 Meteociel.fr</text>
</svg>
</body></html>
